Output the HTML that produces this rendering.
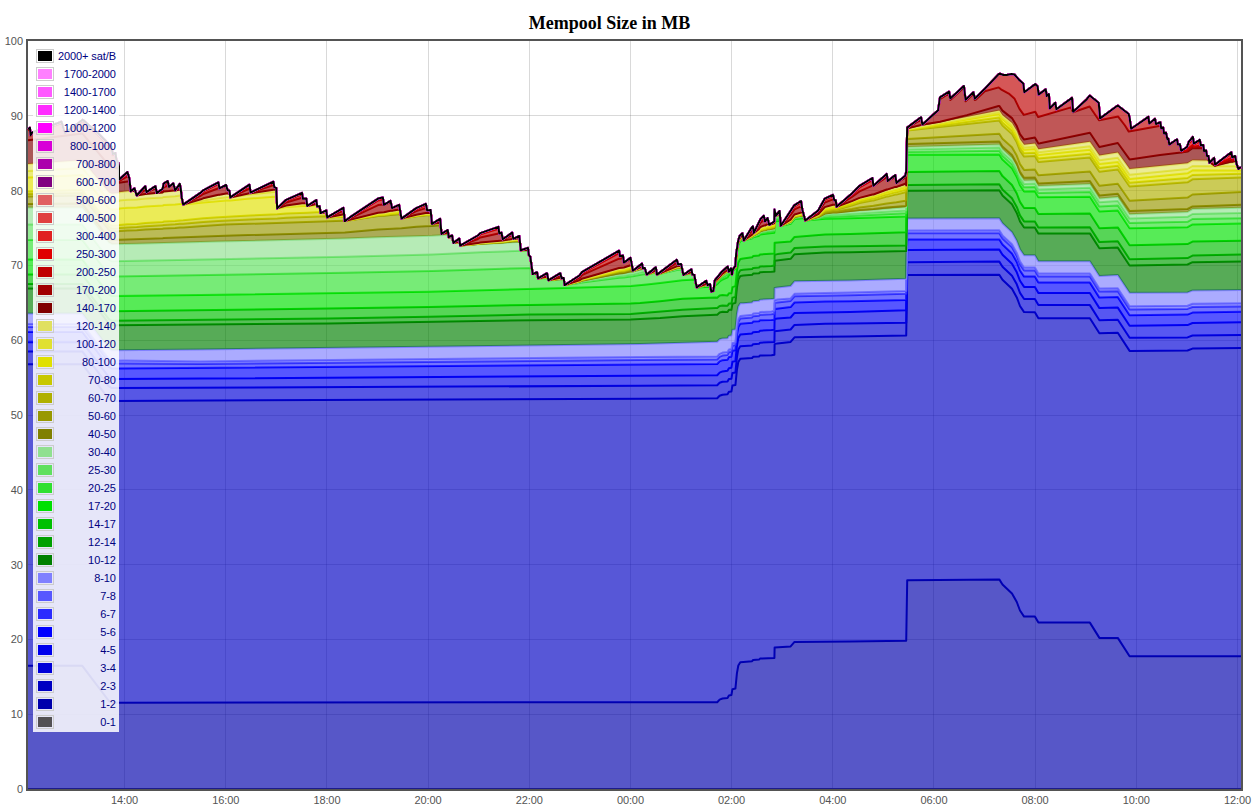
<!DOCTYPE html>
<html><head><meta charset="utf-8"><title>Mempool Size in MB</title>
<style>
html,body{margin:0;padding:0;background:#fff;}
body{width:1259px;height:811px;position:relative;overflow:hidden;font-family:"Liberation Sans",sans-serif;}
#c{position:absolute;left:0;top:0;width:1259px;height:811px;}
.xl{letter-spacing:-0.1px;position:absolute;top:794px;width:60px;text-align:center;font-size:11px;line-height:13px;color:#545454;}
.yl{position:absolute;left:0;width:23px;text-align:right;font-size:11px;line-height:13px;color:#545454;}
#lg{position:absolute;left:33px;top:46px;width:86px;height:686px;background:#fff;opacity:0.85;}
#lt{position:absolute;left:33px;top:46px;font-size:11px;color:#000080;border-collapse:separate;border-spacing:2px;line-height:13px;}
#lt td{padding:1px;}
.o{border:1px solid #ccc;padding:1px;}
.i{width:4px;height:0;border:5px solid #000;overflow:hidden;}
td.lt{text-align:right;white-space:nowrap;vertical-align:middle;}
</style></head><body>
<svg id="c" width="1259" height="811" viewBox="0 0 1259 811">
<text x="609.5" y="29" text-anchor="middle" font-family="'Liberation Serif','DejaVu Serif',serif" font-weight="bold" font-size="18" fill="#000">Mempool Size in MB</text>
<clipPath id="cp"><rect x="27.0" y="40.0" width="1215.0" height="750.0"/></clipPath>
<g stroke="rgb(84,84,84)" stroke-opacity="0.22" stroke-width="1" fill="none">
<path d="M124.5 41.0 V789.0"/>
<path d="M225.5 41.0 V789.0"/>
<path d="M326.5 41.0 V789.0"/>
<path d="M428.5 41.0 V789.0"/>
<path d="M529.5 41.0 V789.0"/>
<path d="M630.5 41.0 V789.0"/>
<path d="M731.5 41.0 V789.0"/>
<path d="M832.5 41.0 V789.0"/>
<path d="M933.5 41.0 V789.0"/>
<path d="M1035.5 41.0 V789.0"/>
<path d="M1136.5 41.0 V789.0"/>
<path d="M1237.5 41.0 V789.0"/>
<path d="M28.0 714.5 H1241.0"/>
<path d="M28.0 639.5 H1241.0"/>
<path d="M28.0 564.5 H1241.0"/>
<path d="M28.0 489.5 H1241.0"/>
<path d="M28.0 415.5 H1241.0"/>
<path d="M28.0 340.5 H1241.0"/>
<path d="M28.0 265.5 H1241.0"/>
<path d="M28.0 190.5 H1241.0"/>
<path d="M28.0 115.5 H1241.0"/>
</g>
<rect x="27" y="40" width="1215" height="750" fill="none" stroke="#545454" stroke-width="2"/>
<g clip-path="url(#cp)">
<path d="M28 788.9L1241 788.9L1241 789L28 789Z" fill="#535154" fill-opacity="0.66"/>
<path d="M28 788.9L1241 788.9" fill="none" stroke="#535154" stroke-width="2" stroke-linejoin="round"/>
<path d="M28 665.8L82.3 665.8L108.9 701L112 702.7L717.2 702.2L719.6 699.6L722.5 698.5L727.5 698L728.9 695.5L731.4 695.1L732.4 689.2L735.4 688.6L736.9 673.4L738.3 665.5L740.3 662.2L752.1 661.2L753.1 660L759 659.6L760 658.6L774.4 658L774.6 647.4L790.6 646.4L794.5 641.9L850 641.6L906.2 640.7L907.2 580.3L999.3 579.4L1002.5 584.5L1012 593.4L1016.8 602L1020 610.5L1024.1 616.6L1034.9 616.6L1038.4 622.6L1089.9 622.6L1099.4 637.9L1117.8 637.9L1129.6 656.3L1241 656.3L1241 788.9L28 788.9Z" fill="#0000ac" fill-opacity="0.66"/>
<path d="M28 665.8L82.3 665.8L108.9 701L112 702.7L717.2 702.2L719.6 699.6L722.5 698.5L727.5 698L728.9 695.5L731.4 695.1L732.4 689.2L735.4 688.6L736.9 673.4L738.3 665.5L740.3 662.2L752.1 661.2L753.1 660L759 659.6L760 658.6L774.4 658L774.6 647.4L790.6 646.4L794.5 641.9L850 641.6L906.2 640.7L907.2 580.3L999.3 579.4L1002.5 584.5L1012 593.4L1016.8 602L1020 610.5L1024.1 616.6L1034.9 616.6L1038.4 622.6L1089.9 622.6L1099.4 637.9L1117.8 637.9L1129.6 656.3L1241 656.3" fill="none" stroke="#0000ac" stroke-width="2" stroke-linejoin="round"/>
<path d="M28 364.2L82.3 364.2L108.9 399.2L112 400.9L640 398.8L717.2 398.3L719.6 395.8L722.5 394.7L727.5 394.3L728.9 391.8L731.4 391.5L732.4 385.6L735.4 385.1L736.9 369.9L738.3 362L740.3 358.8L752.1 358L753.1 356.8L759 356.5L760 355.6L771.5 355.3L774.4 354.7L774.6 344.1L777.5 343.4L790.6 341.9L794.5 337.3L825 336.7L850 336.5L906.2 335.4L907.2 275L999.3 274.7L1002.5 279.8L1012 288.8L1016.8 297.4L1020 306L1024.1 312.1L1034.9 312.2L1038.4 318.2L1089.9 318.2L1099.4 333.3L1117.8 332.8L1129.6 350.9L1187.5 350.5L1192.5 348.6L1241 348L1241 656.3L1129.6 656.3L1117.8 637.9L1099.4 637.9L1089.9 622.6L1038.4 622.6L1034.9 616.6L1024.1 616.6L1020 610.5L1016.8 602L1012 593.4L1002.5 584.5L999.3 579.4L907.2 580.3L906.2 640.7L850 641.6L794.5 641.9L790.6 646.4L774.6 647.4L774.4 658L760 658.6L759 659.6L753.1 660L752.1 661.2L740.3 662.2L738.3 665.5L736.9 673.4L735.4 688.6L732.4 689.2L731.4 695.1L728.9 695.5L727.5 698L722.5 698.5L719.6 699.6L717.2 702.2L112 702.7L108.9 701L82.3 665.8L28 665.8Z" fill="#0000c2" fill-opacity="0.66"/>
<path d="M28 364.2L82.3 364.2L108.9 399.2L112 400.9L640 398.8L717.2 398.3L719.6 395.8L722.5 394.7L727.5 394.3L728.9 391.8L731.4 391.5L732.4 385.6L735.4 385.1L736.9 369.9L738.3 362L740.3 358.8L752.1 358L753.1 356.8L759 356.5L760 355.6L771.5 355.3L774.4 354.7L774.6 344.1L777.5 343.4L790.6 341.9L794.5 337.3L825 336.7L850 336.5L906.2 335.4L907.2 275L999.3 274.7L1002.5 279.8L1012 288.8L1016.8 297.4L1020 306L1024.1 312.1L1034.9 312.2L1038.4 318.2L1089.9 318.2L1099.4 333.3L1117.8 332.8L1129.6 350.9L1187.5 350.5L1192.5 348.6L1241 348" fill="none" stroke="#0000c2" stroke-width="2" stroke-linejoin="round"/>
<path d="M28 351.4L82.3 351.4L108.9 386.4L112 388.1L640 385.8L717.2 385.3L719.6 382.8L722.5 381.8L727.5 381.6L728.9 379.1L731.4 378.8L732.4 373L735.4 372.5L736.9 357.4L738.3 349.5L740.3 346.3L752.1 345.4L753.1 344.2L759 343.8L760 342.7L774.4 341.9L774.6 331.3L790.6 329.5L794.5 324.9L825 323.8L850 323.6L906.2 322.7L907.2 262.3L999.3 261.6L1002.5 266.7L1012 275.7L1016.8 284.3L1020 292.9L1024.1 299L1034.9 299.1L1038.4 305.1L1089.9 305.1L1099.4 320.2L1117.8 319.7L1129.6 337.8L1187.5 337.4L1192.5 335.5L1241 334.9L1241 348L1192.5 348.6L1187.5 350.5L1129.6 350.9L1117.8 332.8L1099.4 333.3L1089.9 318.2L1038.4 318.2L1034.9 312.2L1024.1 312.1L1020 306L1016.8 297.4L1012 288.8L1002.5 279.8L999.3 274.7L907.2 275L906.2 335.4L850 336.5L825 336.7L794.5 337.3L790.6 341.9L777.5 343.4L774.6 344.1L774.4 354.7L771.5 355.3L760 355.6L759 356.5L753.1 356.8L752.1 358L740.3 358.8L738.3 362L736.9 369.9L735.4 385.1L732.4 385.6L731.4 391.5L728.9 391.8L727.5 394.3L722.5 394.7L719.6 395.8L717.2 398.3L640 398.8L112 400.9L108.9 399.2L82.3 364.2L28 364.2Z" fill="#0000d8" fill-opacity="0.66"/>
<path d="M28 351.4L82.3 351.4L108.9 386.4L112 388.1L640 385.8L717.2 385.3L719.6 382.8L722.5 381.8L727.5 381.6L728.9 379.1L731.4 378.8L732.4 373L735.4 372.5L736.9 357.4L738.3 349.5L740.3 346.3L752.1 345.4L753.1 344.2L759 343.8L760 342.7L774.4 341.9L774.6 331.3L790.6 329.5L794.5 324.9L825 323.8L850 323.6L906.2 322.7L907.2 262.3L999.3 261.6L1002.5 266.7L1012 275.7L1016.8 284.3L1020 292.9L1024.1 299L1034.9 299.1L1038.4 305.1L1089.9 305.1L1099.4 320.2L1117.8 319.7L1129.6 337.8L1187.5 337.4L1192.5 335.5L1241 334.9" fill="none" stroke="#0000d8" stroke-width="2" stroke-linejoin="round"/>
<path d="M28 342.2L82.3 342.2L108.9 377.2L112 378.9L200 378.5L717.2 375.2L719.6 372.6L722.5 371.4L727.5 370.7L728.9 368.2L731.4 367.7L732.4 361.8L735.4 361.1L736.9 345.9L738.3 338L740.3 334.6L752.1 333.4L753.1 332.2L759 331.7L760 330.7L771.5 330L774.4 329.7L774.6 319L777.5 318.6L790.6 317.5L794.5 312.9L850 311.9L906.2 310.3L907.2 249.9L908 249.9L999.3 249.6L1002.5 254.7L1012 263.7L1016.8 272.3L1020 280.8L1024.1 286.9L1034.9 287L1038.4 293L1089.9 293L1099.4 308.1L1117.8 307.6L1129.6 325.7L1187.5 325.1L1192.5 323L1241 322.2L1241 334.9L1192.5 335.5L1187.5 337.4L1129.6 337.8L1117.8 319.7L1099.4 320.2L1089.9 305.1L1038.4 305.1L1034.9 299.1L1024.1 299L1020 292.9L1016.8 284.3L1012 275.7L1002.5 266.7L999.3 261.6L907.2 262.3L906.2 322.7L850 323.6L825 323.8L794.5 324.9L790.6 329.5L774.6 331.3L774.4 341.9L760 342.7L759 343.8L753.1 344.2L752.1 345.4L740.3 346.3L738.3 349.5L736.9 357.4L735.4 372.5L732.4 373L731.4 378.8L728.9 379.1L727.5 381.6L722.5 381.8L719.6 382.8L717.2 385.3L640 385.8L112 388.1L108.9 386.4L82.3 351.4L28 351.4Z" fill="#0000ec" fill-opacity="0.66"/>
<path d="M28 342.2L82.3 342.2L108.9 377.2L112 378.9L200 378.5L717.2 375.2L719.6 372.6L722.5 371.4L727.5 370.7L728.9 368.2L731.4 367.7L732.4 361.8L735.4 361.1L736.9 345.9L738.3 338L740.3 334.6L752.1 333.4L753.1 332.2L759 331.7L760 330.7L771.5 330L774.4 329.7L774.6 319L777.5 318.6L790.6 317.5L794.5 312.9L850 311.9L906.2 310.3L907.2 249.9L908 249.9L999.3 249.6L1002.5 254.7L1012 263.7L1016.8 272.3L1020 280.8L1024.1 286.9L1034.9 287L1038.4 293L1089.9 293L1099.4 308.1L1117.8 307.6L1129.6 325.7L1187.5 325.1L1192.5 323L1241 322.2" fill="none" stroke="#0000ec" stroke-width="2" stroke-linejoin="round"/>
<path d="M28 331.9L82.3 331.9L108.9 366.9L112 368.6L717.2 364L719.6 361.4L722.5 360.2L727.5 359.7L728.9 357.1L731.4 356.7L732.4 350.8L735.4 350.2L736.9 334.9L738.3 327L740.3 323.7L752.1 322.8L753.1 321.6L759 321.3L760 320.3L771.5 320L774.4 319.7L774.6 309L790.6 307.1L794.5 302.5L825 301.4L850 301.2L906.2 300L907.2 239.6L999.3 239.4L1002.5 244.5L1012 253.4L1016.8 262L1020 270.5L1024.1 276.6L1034.9 276.6L1038.4 282.6L1089.9 282.6L1099.4 297.6L1117.8 297.1L1129.6 315.2L1187.5 314.6L1192.5 312.6L1241 311.8L1241 322.2L1192.5 323L1187.5 325.1L1129.6 325.7L1117.8 307.6L1099.4 308.1L1089.9 293L1038.4 293L1034.9 287L1024.1 286.9L1020 280.8L1016.8 272.3L1012 263.7L1002.5 254.7L999.3 249.6L908 249.9L907.2 249.9L906.2 310.3L850 311.9L794.5 312.9L790.6 317.5L777.5 318.6L774.6 319L774.4 329.7L771.5 330L760 330.7L759 331.7L753.1 332.2L752.1 333.4L740.3 334.6L738.3 338L736.9 345.9L735.4 361.1L732.4 361.8L731.4 367.7L728.9 368.2L727.5 370.7L722.5 371.4L719.6 372.6L717.2 375.2L200 378.5L112 378.9L108.9 377.2L82.3 342.2L28 342.2Z" fill="#0000ff" fill-opacity="0.66"/>
<path d="M28 331.9L82.3 331.9L108.9 366.9L112 368.6L717.2 364L719.6 361.4L722.5 360.2L727.5 359.7L728.9 357.1L731.4 356.7L732.4 350.8L735.4 350.2L736.9 334.9L738.3 327L740.3 323.7L752.1 322.8L753.1 321.6L759 321.3L760 320.3L771.5 320L774.4 319.7L774.6 309L790.6 307.1L794.5 302.5L825 301.4L850 301.2L906.2 300L907.2 239.6L999.3 239.4L1002.5 244.5L1012 253.4L1016.8 262L1020 270.5L1024.1 276.6L1034.9 276.6L1038.4 282.6L1089.9 282.6L1099.4 297.6L1117.8 297.1L1129.6 315.2L1187.5 314.6L1192.5 312.6L1241 311.8" fill="none" stroke="#0000ff" stroke-width="2" stroke-linejoin="round"/>
<path d="M28 326.9L82.3 326.9L108.9 361.9L112 363.6L124.5 363.5L200 364L640 360L717.2 359.5L719.6 356.8L722.5 355.6L727.5 354.9L728.9 352.3L731.4 351.8L732.4 345.8L735.4 345.1L736.9 329.8L738.3 321.9L740.3 318.5L752.1 317.4L753.1 316.2L759 315.8L760 314.8L771.5 314.3L774.4 313.7L774.6 303.1L777.5 302.4L790.6 300.9L794.5 296.3L850 295.3L906.2 293.7L907.2 233.3L908 233.3L999.3 233.3L1002.5 238.4L1012 247.3L1016.8 255.9L1020 264.4L1024.1 270.5L1034.9 270.5L1038.4 276.5L1089.9 276.5L1099.4 291.6L1117.8 291.2L1129.6 309.4L1187.5 308.9L1192.5 307L1241 306.4L1241 311.8L1192.5 312.6L1187.5 314.6L1129.6 315.2L1117.8 297.1L1099.4 297.6L1089.9 282.6L1038.4 282.6L1034.9 276.6L1024.1 276.6L1020 270.5L1016.8 262L1012 253.4L1002.5 244.5L999.3 239.4L907.2 239.6L906.2 300L850 301.2L825 301.4L794.5 302.5L790.6 307.1L774.6 309L774.4 319.7L771.5 320L760 320.3L759 321.3L753.1 321.6L752.1 322.8L740.3 323.7L738.3 327L736.9 334.9L735.4 350.2L732.4 350.8L731.4 356.7L728.9 357.1L727.5 359.7L722.5 360.2L719.6 361.4L717.2 364L112 368.6L108.9 366.9L82.3 331.9L28 331.9Z" fill="#2c2cff" fill-opacity="0.66"/>
<path d="M28 326.9L82.3 326.9L108.9 361.9L112 363.6L124.5 363.5L200 364L640 360L717.2 359.5L719.6 356.8L722.5 355.6L727.5 354.9L728.9 352.3L731.4 351.8L732.4 345.8L735.4 345.1L736.9 329.8L738.3 321.9L740.3 318.5L752.1 317.4L753.1 316.2L759 315.8L760 314.8L771.5 314.3L774.4 313.7L774.6 303.1L777.5 302.4L790.6 300.9L794.5 296.3L850 295.3L906.2 293.7L907.2 233.3L908 233.3L999.3 233.3L1002.5 238.4L1012 247.3L1016.8 255.9L1020 264.4L1024.1 270.5L1034.9 270.5L1038.4 276.5L1089.9 276.5L1099.4 291.6L1117.8 291.2L1129.6 309.4L1187.5 308.9L1192.5 307L1241 306.4" fill="none" stroke="#2c2cff" stroke-width="2" stroke-linejoin="round"/>
<path d="M28 324L82.3 324L108.9 359L112 360.7L124.5 360.6L200 361.4L640 356.9L717.2 356.4L719.6 353.8L722.5 352.6L727.5 352L728.9 349.5L731.4 349.1L732.4 343.1L735.4 342.5L736.9 327.3L738.3 319.3L740.3 316L752.1 314.8L753.1 313.6L759 313.1L760 312.1L771.5 311.4L774.4 310.8L774.6 300.2L777.5 299.5L790.6 298.4L794.5 293.8L825 292.9L850 292.5L906.2 290.9L907.2 230.5L908 230.5L999.3 230.3L1002.5 235.4L1012 244.3L1016.8 252.9L1020 261.4L1024.1 267.5L1034.9 267.5L1038.4 273.5L1089.9 273.5L1099.4 288.6L1117.8 288.2L1129.6 306.3L1187.5 305.8L1192.5 303.8L1241 303.2L1241 306.4L1192.5 307L1187.5 308.9L1129.6 309.4L1117.8 291.2L1099.4 291.6L1089.9 276.5L1038.4 276.5L1034.9 270.5L1024.1 270.5L1020 264.4L1016.8 255.9L1012 247.3L1002.5 238.4L999.3 233.3L908 233.3L907.2 233.3L906.2 293.7L850 295.3L794.5 296.3L790.6 300.9L777.5 302.4L774.6 303.1L774.4 313.7L771.5 314.3L760 314.8L759 315.8L753.1 316.2L752.1 317.4L740.3 318.5L738.3 321.9L736.9 329.8L735.4 345.1L732.4 345.8L731.4 351.8L728.9 352.3L727.5 354.9L722.5 355.6L719.6 356.8L717.2 359.5L640 360L200 364L124.5 363.5L112 363.6L108.9 361.9L82.3 326.9L28 326.9Z" fill="#5858ff" fill-opacity="0.66"/>
<path d="M28 324L82.3 324L108.9 359L112 360.7L124.5 360.6L200 361.4L640 356.9L717.2 356.4L719.6 353.8L722.5 352.6L727.5 352L728.9 349.5L731.4 349.1L732.4 343.1L735.4 342.5L736.9 327.3L738.3 319.3L740.3 316L752.1 314.8L753.1 313.6L759 313.1L760 312.1L771.5 311.4L774.4 310.8L774.6 300.2L777.5 299.5L790.6 298.4L794.5 293.8L825 292.9L850 292.5L906.2 290.9L907.2 230.5L908 230.5L999.3 230.3L1002.5 235.4L1012 244.3L1016.8 252.9L1020 261.4L1024.1 267.5L1034.9 267.5L1038.4 273.5L1089.9 273.5L1099.4 288.6L1117.8 288.2L1129.6 306.3L1187.5 305.8L1192.5 303.8L1241 303.2" fill="none" stroke="#5858ff" stroke-width="2" stroke-linejoin="round"/>
<path d="M28 313.6L82.3 313.6L108.9 348.6L112 350.3L200 349.4L640 344.1L717.2 341.7L719.6 339.3L722.5 338.4L727.5 338.2L728.9 335.8L731.4 335.6L732.4 329.8L735.4 329.4L736.9 314.3L738.3 306.5L740.3 303.3L743.2 303.3L752.1 302.4L753.1 301.2L759 300.7L760 299.7L771.5 299.1L774.4 298.7L774.6 288L777.5 287.5L790.6 286L794.5 281.3L850 280.4L906.2 278.8L907.2 218.4L908 218.4L999.3 218.2L1002.5 223.3L1012 232.2L1016.8 240.8L1020 249.2L1024.1 255.3L1034.9 255.3L1038.4 261.3L1089.9 261.2L1099.4 276L1117.8 275L1129.6 292.8L1187.5 292.4L1192.5 290.5L1241 290L1241 303.2L1192.5 303.8L1187.5 305.8L1129.6 306.3L1117.8 288.2L1099.4 288.6L1089.9 273.5L1038.4 273.5L1034.9 267.5L1024.1 267.5L1020 261.4L1016.8 252.9L1012 244.3L1002.5 235.4L999.3 230.3L908 230.5L907.2 230.5L906.2 290.9L850 292.5L825 292.9L794.5 293.8L790.6 298.4L777.5 299.5L774.6 300.2L774.4 310.8L771.5 311.4L760 312.1L759 313.1L753.1 313.6L752.1 314.8L740.3 316L738.3 319.3L736.9 327.3L735.4 342.5L732.4 343.1L731.4 349.1L728.9 349.5L727.5 352L722.5 352.6L719.6 353.8L717.2 356.4L640 356.9L200 361.4L124.5 360.6L112 360.7L108.9 359L82.3 324L28 324Z" fill="#8080ff" fill-opacity="0.66"/>
<path d="M28 313.6L82.3 313.6L108.9 348.6L112 350.3L200 349.4L640 344.1L717.2 341.7L719.6 339.3L722.5 338.4L727.5 338.2L728.9 335.8L731.4 335.6L732.4 329.8L735.4 329.4L736.9 314.3L738.3 306.5L740.3 303.3L743.2 303.3L752.1 302.4L753.1 301.2L759 300.7L760 299.7L771.5 299.1L774.4 298.7L774.6 288L777.5 287.5L790.6 286L794.5 281.3L850 280.4L906.2 278.8L907.2 218.4L908 218.4L999.3 218.2L1002.5 223.3L1012 232.2L1016.8 240.8L1020 249.2L1024.1 255.3L1034.9 255.3L1038.4 261.3L1089.9 261.2L1099.4 276L1117.8 275L1129.6 292.8L1187.5 292.4L1192.5 290.5L1241 290" fill="none" stroke="#8080ff" stroke-width="2" stroke-linejoin="round"/>
<path d="M28 288.6L82.3 288.6L108.9 323.6L112 325.3L327 323.5L529.5 320.2L630.5 319.4L640 319.1L660 318.1L682.5 316.3L715.8 314.7L717.2 314.7L719.6 312.5L722.5 311.8L727.5 312.1L728.9 309.8L731.4 309.8L732.4 303.8L735.4 302.9L736.9 287.5L738.3 279.5L740.3 276L743.2 275.5L752.1 274.8L753.1 273.6L759 273.2L760 272.2L771.5 271.7L774.4 271.4L774.6 260.7L790.6 258.8L794.5 254.2L825 252.6L850 252.3L906.2 251.1L907.2 190.7L999.3 190.3L1002.5 195.4L1012 204.3L1016.8 212.9L1020 221.4L1024.1 227.5L1034.9 227.5L1038.4 233.5L1089.9 233.4L1099.4 248.3L1117.8 247.6L1129.6 265.5L1187.5 264.5L1192.5 262.2L1241 261.6L1241 290L1192.5 290.5L1187.5 292.4L1129.6 292.8L1117.8 275L1099.4 276L1089.9 261.2L1038.4 261.3L1034.9 255.3L1024.1 255.3L1020 249.2L1016.8 240.8L1012 232.2L1002.5 223.3L999.3 218.2L908 218.4L907.2 218.4L906.2 278.8L850 280.4L794.5 281.3L790.6 286L777.5 287.5L774.6 288L774.4 298.7L771.5 299.1L760 299.7L759 300.7L753.1 301.2L752.1 302.4L743.2 303.3L740.3 303.3L738.3 306.5L736.9 314.3L735.4 329.4L732.4 329.8L731.4 335.6L728.9 335.8L727.5 338.2L722.5 338.4L719.6 339.3L717.2 341.7L640 344.1L200 349.4L112 350.3L108.9 348.6L82.3 313.6L28 313.6Z" fill="#008000" fill-opacity="0.66"/>
<path d="M28 288.6L82.3 288.6L108.9 323.6L112 325.3L327 323.5L529.5 320.2L630.5 319.4L640 319.1L660 318.1L682.5 316.3L715.8 314.7L717.2 314.7L719.6 312.5L722.5 311.8L727.5 312.1L728.9 309.8L731.4 309.8L732.4 303.8L735.4 302.9L736.9 287.5L738.3 279.5L740.3 276L743.2 275.5L752.1 274.8L753.1 273.6L759 273.2L760 272.2L771.5 271.7L774.4 271.4L774.6 260.7L790.6 258.8L794.5 254.2L825 252.6L850 252.3L906.2 251.1L907.2 190.7L999.3 190.3L1002.5 195.4L1012 204.3L1016.8 212.9L1020 221.4L1024.1 227.5L1034.9 227.5L1038.4 233.5L1089.9 233.4L1099.4 248.3L1117.8 247.6L1129.6 265.5L1187.5 264.5L1192.5 262.2L1241 261.6" fill="none" stroke="#008000" stroke-width="2" stroke-linejoin="round"/>
<path d="M28 284.1L82.3 284.1L108.9 319.1L112 320.8L327 318.4L428.5 316.7L529.5 314.5L630.5 313.9L682.5 309.7L715.8 308L717.2 308.1L719.6 305.9L722.5 305.4L727.5 305.8L728.9 303.6L731.4 303.6L732.4 297.6L735.4 296.9L736.9 281.6L738.3 273.6L740.3 270.2L743.2 269.8L752.1 269.1L753.1 267.9L759 267.5L760 266.5L771.5 266L774.4 265.4L774.6 254.8L777.5 254.1L790.6 252.6L794.5 248L825 246.4L850 246.3L906.2 245.4L907.2 185L999.3 184.3L1002.5 189.4L1012 198.3L1016.8 206.9L1020 215.3L1024.1 221.4L1034.9 221.4L1038.4 227.4L1089.9 227.2L1099.4 242.1L1117.8 241.3L1129.6 259.2L1187.5 258.1L1192.5 255.6L1241 254.6L1241 261.6L1192.5 262.2L1187.5 264.5L1129.6 265.5L1117.8 247.6L1099.4 248.3L1089.9 233.4L1038.4 233.5L1034.9 227.5L1024.1 227.5L1020 221.4L1016.8 212.9L1012 204.3L1002.5 195.4L999.3 190.3L907.2 190.7L906.2 251.1L850 252.3L825 252.6L794.5 254.2L790.6 258.8L774.6 260.7L774.4 271.4L771.5 271.7L760 272.2L759 273.2L753.1 273.6L752.1 274.8L743.2 275.5L740.3 276L738.3 279.5L736.9 287.5L735.4 302.9L732.4 303.8L731.4 309.8L728.9 309.8L727.5 312.1L722.5 311.8L719.6 312.5L717.2 314.7L715.8 314.7L682.5 316.3L660 318.1L640 319.1L630.5 319.4L529.5 320.2L327 323.5L112 325.3L108.9 323.6L82.3 288.6L28 288.6Z" fill="#00a000" fill-opacity="0.66"/>
<path d="M28 284.1L82.3 284.1L108.9 319.1L112 320.8L327 318.4L428.5 316.7L529.5 314.5L630.5 313.9L682.5 309.7L715.8 308L717.2 308.1L719.6 305.9L722.5 305.4L727.5 305.8L728.9 303.6L731.4 303.6L732.4 297.6L735.4 296.9L736.9 281.6L738.3 273.6L740.3 270.2L743.2 269.8L752.1 269.1L753.1 267.9L759 267.5L760 266.5L771.5 266L774.4 265.4L774.6 254.8L777.5 254.1L790.6 252.6L794.5 248L825 246.4L850 246.3L906.2 245.4L907.2 185L999.3 184.3L1002.5 189.4L1012 198.3L1016.8 206.9L1020 215.3L1024.1 221.4L1034.9 221.4L1038.4 227.4L1089.9 227.2L1099.4 242.1L1117.8 241.3L1129.6 259.2L1187.5 258.1L1192.5 255.6L1241 254.6" fill="none" stroke="#00a000" stroke-width="2" stroke-linejoin="round"/>
<path d="M28 274.6L82.3 274.6L108.9 309.6L112 311.3L327 308.5L428.5 306.9L529.5 304.9L630.5 303.6L640 303L660 301.2L682.5 298.7L715.8 297.6L717.2 297.7L719.6 295.5L722.5 295L727.5 295.4L728.9 293.2L731.4 293.2L732.4 287.1L735.4 286.1L736.9 270.7L738.3 262.6L740.3 259L743.2 258.4L752.1 257.3L753.1 256.1L759 255.5L760 254.5L774.4 253.4L774.6 242.8L790.6 241.5L794.5 236.9L825 234.5L850 234L906.2 232.3L907.2 171.9L999.3 171L1002.5 176.1L1012 184.9L1016.8 193.5L1020 201.9L1024.1 208L1034.9 207.9L1038.4 213.9L1089.9 213.5L1099.4 228.3L1117.8 227.4L1129.6 245.2L1187.5 244.1L1192.5 241.6L1241 240.7L1241 254.6L1192.5 255.6L1187.5 258.1L1129.6 259.2L1117.8 241.3L1099.4 242.1L1089.9 227.2L1038.4 227.4L1034.9 221.4L1024.1 221.4L1020 215.3L1016.8 206.9L1012 198.3L1002.5 189.4L999.3 184.3L907.2 185L906.2 245.4L850 246.3L825 246.4L794.5 248L790.6 252.6L777.5 254.1L774.6 254.8L774.4 265.4L771.5 266L760 266.5L759 267.5L753.1 267.9L752.1 269.1L743.2 269.8L740.3 270.2L738.3 273.6L736.9 281.6L735.4 296.9L732.4 297.6L731.4 303.6L728.9 303.6L727.5 305.8L722.5 305.4L719.6 305.9L717.2 308.1L715.8 308L682.5 309.7L630.5 313.9L529.5 314.5L428.5 316.7L327 318.4L112 320.8L108.9 319.1L82.3 284.1L28 284.1Z" fill="#00c000" fill-opacity="0.66"/>
<path d="M28 274.6L82.3 274.6L108.9 309.6L112 311.3L327 308.5L428.5 306.9L529.5 304.9L630.5 303.6L640 303L660 301.2L682.5 298.7L715.8 297.6L717.2 297.7L719.6 295.5L722.5 295L727.5 295.4L728.9 293.2L731.4 293.2L732.4 287.1L735.4 286.1L736.9 270.7L738.3 262.6L740.3 259L743.2 258.4L752.1 257.3L753.1 256.1L759 255.5L760 254.5L774.4 253.4L774.6 242.8L790.6 241.5L794.5 236.9L825 234.5L850 234L906.2 232.3L907.2 171.9L999.3 171L1002.5 176.1L1012 184.9L1016.8 193.5L1020 201.9L1024.1 208L1034.9 207.9L1038.4 213.9L1089.9 213.5L1099.4 228.3L1117.8 227.4L1129.6 245.2L1187.5 244.1L1192.5 241.6L1241 240.7" fill="none" stroke="#00c000" stroke-width="2" stroke-linejoin="round"/>
<path d="M28 259.4L82.3 259.4L108.9 294.4L112 296.1L200 295.1L428.5 291.7L564.6 288.1L630.8 286L646.7 284.5L660 283L682.2 280.2L695 279.6L695.2 279.9L696.7 287.4L710.2 286.7L710.5 287L711.3 291.7L713.4 291.2L714.8 285.6L717.2 284.1L719.6 281.5L722.5 279.5L727.5 277.4L728.9 275.1L731 273.5L731.4 273.5L731.5 272.9L731.8 273.1L732 274.6L732.4 272.2L732.9 270.6L735.4 268.6L736.9 252.9L738.3 244.8L740.3 241L743 240.3L743.8 240.2L743.8 240.4L752.1 238.4L753.1 237.2L759 235.7L760 234.6L767.6 233.4L774.3 232.7L774.6 221.6L780.2 220.7L780.8 225.8L790.6 223.8L794.5 219.1L804.5 218.1L805.3 220.5L825 218.8L850 218.3L906.2 216.5L907.2 154.7L999.3 154.5L1002.5 159.6L1012 168.3L1016.8 176.9L1020 185.3L1024.1 191.4L1034.9 191.3L1038.4 197.2L1089.9 196.7L1099.4 211.5L1117.8 210.5L1129.6 228.3L1187.5 227.2L1192.5 224.4L1241 223.5L1241 240.7L1192.5 241.6L1187.5 244.1L1129.6 245.2L1117.8 227.4L1099.4 228.3L1089.9 213.5L1038.4 213.9L1034.9 207.9L1024.1 208L1020 201.9L1016.8 193.5L1012 184.9L1002.5 176.1L999.3 171L907.2 171.9L906.2 232.3L850 234L825 234.5L794.5 236.9L790.6 241.5L774.6 242.8L774.4 253.4L760 254.5L759 255.5L753.1 256.1L752.1 257.3L743.2 258.4L740.3 259L738.3 262.6L736.9 270.7L735.4 286.1L732.4 287.1L731.4 293.2L728.9 293.2L727.5 295.4L722.5 295L719.6 295.5L717.2 297.7L715.8 297.6L682.5 298.7L660 301.2L640 303L630.5 303.6L529.5 304.9L428.5 306.9L327 308.5L112 311.3L108.9 309.6L82.3 274.6L28 274.6Z" fill="#00e000" fill-opacity="0.66"/>
<path d="M28 259.4L82.3 259.4L108.9 294.4L112 296.1L200 295.1L428.5 291.7L564.6 288.1L630.8 286L646.7 284.5L660 283L682.2 280.2L695 279.6L695.2 279.9L696.7 287.4L710.2 286.7L710.5 287L711.3 291.7L713.4 291.2L714.8 285.6L717.2 284.1L719.6 281.5L722.5 279.5L727.5 277.4L728.9 275.1L731 273.5L731.4 273.5L731.5 272.9L731.8 273.1L732 274.6L732.4 272.2L732.9 270.6L735.4 268.6L736.9 252.9L738.3 244.8L740.3 241L743 240.3L743.8 240.2L743.8 240.4L752.1 238.4L753.1 237.2L759 235.7L760 234.6L767.6 233.4L774.3 232.7L774.6 221.6L780.2 220.7L780.8 225.8L790.6 223.8L794.5 219.1L804.5 218.1L805.3 220.5L825 218.8L850 218.3L906.2 216.5L907.2 154.7L999.3 154.5L1002.5 159.6L1012 168.3L1016.8 176.9L1020 185.3L1024.1 191.4L1034.9 191.3L1038.4 197.2L1089.9 196.7L1099.4 211.5L1117.8 210.5L1129.6 228.3L1187.5 227.2L1192.5 224.4L1241 223.5" fill="none" stroke="#00e000" stroke-width="2" stroke-linejoin="round"/>
<path d="M28 239.9L82.3 239.9L108.9 274.9L112 276.6L344.8 272.8L432 271L480.3 269.4L531.8 267.9L532.7 274.1L537.2 274L538.1 278.4L547.8 278.1L548 278.3L548.4 280.3L563.8 279.8L564 280.3L564.6 285.1L579.5 283.1L581.9 282.4L619.1 277.7L623.9 277.5L630.5 276.5L632.9 276.3L642 274.4L646.5 273.9L646.7 274.6L655.8 272.5L656.5 272.5L657 274.6L676.8 270L682 269.3L682.2 269.5L683.4 274.9L692 273.6L692.2 273.8L692.4 274.6L694.3 275L696.7 287.4L706.2 285.8L710.2 285.6L711.3 291.7L713.4 291.1L714.8 284.3L717.2 282.4L719.6 279.8L721.9 277.8L727.5 274.7L728.9 272.5L731 270.4L731.2 270.4L731.4 270.9L732 274.6L732.9 270.3L735.4 267.9L736.9 252.1L738.3 243.9L740.3 240.1L743.5 239.2L743.8 240.4L752.1 237.8L753.1 236.5L753.8 236.5L759 234.6L760 233.4L760.5 233.2L767.6 231.9L774.3 231L774.6 219.5L775.7 219.4L780 218.5L780.2 219L780.8 225.8L790.6 223.1L794.5 218.4L801 217.4L804.2 217.1L805.3 220.5L818.2 218.7L825 217.2L906.2 213.3L907.2 151.9L999.3 150.7L1002.5 155.7L1012 164.4L1016.8 172.9L1020 181.3L1024.1 187.3L1034.9 187.1L1038.4 193L1089.9 191.9L1099.4 206.6L1117.8 205.4L1129.6 223L1187.5 221.8L1192.5 219L1241 218.2L1241 223.5L1192.5 224.4L1187.5 227.2L1129.6 228.3L1117.8 210.5L1099.4 211.5L1089.9 196.7L1038.4 197.2L1034.9 191.3L1024.1 191.4L1020 185.3L1016.8 176.9L1012 168.3L1002.5 159.6L999.3 154.5L907.2 154.7L906.2 216.5L850 218.3L825 218.8L805.3 220.5L804.5 218.1L794.5 219.1L790.6 223.8L780.8 225.8L780.2 220.7L774.6 221.6L774.3 232.7L767.6 233.4L760 234.6L759 235.7L753.1 237.2L752.1 238.4L743.8 240.4L743.8 240.2L743 240.3L740.3 241L738.3 244.8L736.9 252.9L735.4 268.6L732.9 270.6L732.4 272.2L732 274.6L731.8 273.1L731.5 272.9L731.4 273.5L731 273.5L728.9 275.1L727.5 277.4L722.5 279.5L719.6 281.5L717.2 284.1L714.8 285.6L713.4 291.2L711.3 291.7L710.5 287L710.2 286.7L696.7 287.4L695.2 279.9L695 279.6L682.2 280.2L660 283L646.7 284.5L630.8 286L564.6 288.1L428.5 291.7L200 295.1L112 296.1L108.9 294.4L82.3 259.4L28 259.4Z" fill="#30e030" fill-opacity="0.66"/>
<path d="M28 239.9L82.3 239.9L108.9 274.9L112 276.6L344.8 272.8L432 271L480.3 269.4L531.8 267.9L532.7 274.1L537.2 274L538.1 278.4L547.8 278.1L548 278.3L548.4 280.3L563.8 279.8L564 280.3L564.6 285.1L579.5 283.1L581.9 282.4L619.1 277.7L623.9 277.5L630.5 276.5L632.9 276.3L642 274.4L646.5 273.9L646.7 274.6L655.8 272.5L656.5 272.5L657 274.6L676.8 270L682 269.3L682.2 269.5L683.4 274.9L692 273.6L692.2 273.8L692.4 274.6L694.3 275L696.7 287.4L706.2 285.8L710.2 285.6L711.3 291.7L713.4 291.1L714.8 284.3L717.2 282.4L719.6 279.8L721.9 277.8L727.5 274.7L728.9 272.5L731 270.4L731.2 270.4L731.4 270.9L732 274.6L732.9 270.3L735.4 267.9L736.9 252.1L738.3 243.9L740.3 240.1L743.5 239.2L743.8 240.4L752.1 237.8L753.1 236.5L753.8 236.5L759 234.6L760 233.4L760.5 233.2L767.6 231.9L774.3 231L774.6 219.5L775.7 219.4L780 218.5L780.2 219L780.8 225.8L790.6 223.1L794.5 218.4L801 217.4L804.2 217.1L805.3 220.5L818.2 218.7L825 217.2L906.2 213.3L907.2 151.9L999.3 150.7L1002.5 155.7L1012 164.4L1016.8 172.9L1020 181.3L1024.1 187.3L1034.9 187.1L1038.4 193L1089.9 191.9L1099.4 206.6L1117.8 205.4L1129.6 223L1187.5 221.8L1192.5 219L1241 218.2" fill="none" stroke="#30e030" stroke-width="2" stroke-linejoin="round"/>
<path d="M28 224.6L82.3 224.6L108.9 259.6L112 261.3L230.3 259.1L344.8 256.7L432 254.4L480.3 252.3L528.2 250.6L528.9 255L530.3 256.9L532.7 274.1L537.2 273.9L538.1 278.4L547.8 278L548 278.3L548.4 280.3L563.8 279.7L564 280.3L564.6 285.1L579.5 282.6L581.9 281.7L619.1 276.1L623.9 275.8L630.5 274.5L632.9 274.4L642 272.1L644.8 271.8L645.8 271.7L646.7 274.6L656.5 272.1L657 274.6L676.8 269.3L682 268.7L683.4 274.9L692 273.3L692.4 274.6L694.3 275L696.7 287.4L706.2 285.5L710 285.2L710.2 285.6L711.3 291.7L713.4 291L714.8 283.4L717.2 281.3L719.6 278.6L721.9 276.5L727.5 272.9L728.5 271.3L728.8 271.7L731 269.3L731.2 269.9L732 274.6L732.9 270.1L735.4 267.5L736.9 251.6L738.3 243.4L740.3 239.5L743.2 238.5L743.5 238.9L743.8 240.4L752.1 237.4L753.1 236.1L753.8 236.1L759 233.8L760 232.6L760.5 232.4L763.8 231.7L765 231.6L767.6 230.8L774.3 229.9L774.6 218.2L775.7 218.1L780 217L780.8 225.8L790.6 222.6L794.5 217.8L801 216.8L804 216.5L804.2 216.7L805.3 220.5L818.2 218L825 215.5L832.9 214.8L836.5 214.7L873.4 212.5L905.3 210.4L906.2 210.2L907.2 149.4L999.3 147.5L1002.5 152.5L1012 161.1L1016.8 169.5L1020 177.9L1024.1 183.9L1034.9 183.6L1038.4 189.5L1089.9 187.7L1099.4 202.3L1117.8 201L1129.6 218.6L1187.5 216.8L1192.5 214L1241 212.9L1241 218.2L1192.5 219L1187.5 221.8L1129.6 223L1117.8 205.4L1099.4 206.6L1089.9 191.9L1038.4 193L1034.9 187.1L1024.1 187.3L1020 181.3L1016.8 172.9L1012 164.4L1002.5 155.7L999.3 150.7L907.2 151.9L906.2 213.3L825 217.2L818.2 218.7L805.3 220.5L804.2 217.1L801 217.4L794.5 218.4L790.6 223.1L780.8 225.8L780.2 219L780 218.5L775.7 219.4L774.6 219.5L774.3 231L767.6 231.9L760.5 233.2L760 233.4L759 234.6L753.8 236.5L753.1 236.5L752.1 237.8L743.8 240.4L743.5 239.2L740.3 240.1L738.3 243.9L736.9 252.1L735.4 267.9L732.9 270.3L732 274.6L731.4 270.9L731.2 270.4L731 270.4L728.9 272.5L727.5 274.7L721.9 277.8L719.6 279.8L717.2 282.4L714.8 284.3L713.4 291.1L711.3 291.7L710.2 285.6L706.2 285.8L696.7 287.4L694.3 275L692.4 274.6L692.2 273.8L692 273.6L683.4 274.9L682.2 269.5L682 269.3L676.8 270L657 274.6L656.5 272.5L655.8 272.5L646.7 274.6L646.5 273.9L642 274.4L632.9 276.3L630.5 276.5L623.9 277.5L619.1 277.7L581.9 282.4L579.5 283.1L564.6 285.1L564 280.3L563.8 279.8L548.4 280.3L548 278.3L547.8 278.1L538.1 278.4L537.2 274L532.7 274.1L531.8 267.9L480.3 269.4L432 271L344.8 272.8L112 276.6L108.9 274.9L82.3 239.9L28 239.9Z" fill="#60e060" fill-opacity="0.66"/>
<path d="M28 224.6L82.3 224.6L108.9 259.6L112 261.3L230.3 259.1L344.8 256.7L432 254.4L480.3 252.3L528.2 250.6L528.9 255L530.3 256.9L532.7 274.1L537.2 273.9L538.1 278.4L547.8 278L548 278.3L548.4 280.3L563.8 279.7L564 280.3L564.6 285.1L579.5 282.6L581.9 281.7L619.1 276.1L623.9 275.8L630.5 274.5L632.9 274.4L642 272.1L644.8 271.8L645.8 271.7L646.7 274.6L656.5 272.1L657 274.6L676.8 269.3L682 268.7L683.4 274.9L692 273.3L692.4 274.6L694.3 275L696.7 287.4L706.2 285.5L710 285.2L710.2 285.6L711.3 291.7L713.4 291L714.8 283.4L717.2 281.3L719.6 278.6L721.9 276.5L727.5 272.9L728.5 271.3L728.8 271.7L731 269.3L731.2 269.9L732 274.6L732.9 270.1L735.4 267.5L736.9 251.6L738.3 243.4L740.3 239.5L743.2 238.5L743.5 238.9L743.8 240.4L752.1 237.4L753.1 236.1L753.8 236.1L759 233.8L760 232.6L760.5 232.4L763.8 231.7L765 231.6L767.6 230.8L774.3 229.9L774.6 218.2L775.7 218.1L780 217L780.8 225.8L790.6 222.6L794.5 217.8L801 216.8L804 216.5L804.2 216.7L805.3 220.5L818.2 218L825 215.5L832.9 214.8L836.5 214.7L873.4 212.5L905.3 210.4L906.2 210.2L907.2 149.4L999.3 147.5L1002.5 152.5L1012 161.1L1016.8 169.5L1020 177.9L1024.1 183.9L1034.9 183.6L1038.4 189.5L1089.9 187.7L1099.4 202.3L1117.8 201L1129.6 218.6L1187.5 216.8L1192.5 214L1241 212.9" fill="none" stroke="#60e060" stroke-width="2" stroke-linejoin="round"/>
<path d="M28 207.5L82.3 207.5L108.9 242.5L112 244.2L136.7 243.8L218.4 241.6L344.8 238.5L378.1 237.3L432 235.8L448.2 234.7L448.7 237.2L452.2 237L453.4 242.9L459.8 242.4L460.2 245.6L480.3 244.1L502.7 243L512.2 242.2L519.8 241.8L520 242.7L520.8 250.3L528 249.9L528.2 250.4L528.9 255L530.3 256.9L532.7 274.1L537.2 273.9L538.1 278.4L547.8 277.8L548 278.3L548.4 280.3L563.8 279.4L564.6 285.1L579.5 282.1L581.9 281.1L619.1 274.4L623.9 274.1L630.5 272.6L632.9 272.4L642 269.9L645.2 269.5L646.7 274.6L655.8 271.9L656.5 271.8L657 274.6L676.8 268.7L681.8 268.1L682 268.3L683.4 274.9L692 273L692.4 274.6L694.3 275L696.7 287.4L706.2 285.2L710 284.8L711.3 291.7L713.4 291L714.8 282.7L717.2 280.5L719.6 277.7L721.9 275.4L727.5 271.6L728.2 270.4L728.5 270.3L728.8 271.7L731 269.1L732 274.6L732.9 269.9L734.8 267.8L735.3 267.5L735.4 267.2L736.9 251.2L738.3 242.9L740.3 238.9L743.2 238L743.8 240.4L752.1 236.9L753.1 235.7L753.8 235.6L759 233.1L760 231.8L760.5 231.6L763.8 230.7L765 230.7L767.6 229.8L769.1 229.7L774.3 228.8L774.6 216.8L775.7 216.8L779.8 215.5L780 215.9L780.8 225.8L790.6 222.2L794.5 217.3L801 216.1L804 215.9L805.3 220.5L818.2 217.2L825 213.9L832.9 212.8L836.5 212.8L859.5 210.8L873.4 209.9L905.3 207.3L906.2 207L907.2 146.9L999.3 144.4L1002.5 149.3L1012 157.9L1016.8 166.3L1020 174.7L1024.1 180.6L1034.9 180.2L1038.4 186.1L1089.9 184L1099.4 198.4L1117.8 196.9L1129.6 214.2L1187.5 211.9L1192.5 209.1L1241 207.7L1241 212.9L1192.5 214L1187.5 216.8L1129.6 218.6L1117.8 201L1099.4 202.3L1089.9 187.7L1038.4 189.5L1034.9 183.6L1024.1 183.9L1020 177.9L1016.8 169.5L1012 161.1L1002.5 152.5L999.3 147.5L907.2 149.4L906.2 210.2L905.3 210.4L873.4 212.5L836.5 214.7L832.9 214.8L825 215.5L818.2 218L805.3 220.5L804.2 216.7L804 216.5L801 216.8L794.5 217.8L790.6 222.6L780.8 225.8L780 217L775.7 218.1L774.6 218.2L774.3 229.9L767.6 230.8L765 231.6L763.8 231.7L760.5 232.4L760 232.6L759 233.8L753.8 236.1L753.1 236.1L752.1 237.4L743.8 240.4L743.5 238.9L743.2 238.5L740.3 239.5L738.3 243.4L736.9 251.6L735.4 267.5L732.9 270.1L732 274.6L731.2 269.9L731 269.3L728.8 271.7L728.5 271.3L727.5 272.9L721.9 276.5L719.6 278.6L717.2 281.3L714.8 283.4L713.4 291L711.3 291.7L710.2 285.6L710 285.2L706.2 285.5L696.7 287.4L694.3 275L692.4 274.6L692 273.3L683.4 274.9L682 268.7L676.8 269.3L657 274.6L656.5 272.1L646.7 274.6L645.8 271.7L644.8 271.8L642 272.1L632.9 274.4L630.5 274.5L623.9 275.8L619.1 276.1L581.9 281.7L579.5 282.6L564.6 285.1L564 280.3L563.8 279.7L548.4 280.3L548 278.3L547.8 278L538.1 278.4L537.2 273.9L532.7 274.1L530.3 256.9L528.9 255L528.2 250.6L480.3 252.3L432 254.4L344.8 256.7L230.3 259.1L112 261.3L108.9 259.6L82.3 224.6L28 224.6Z" fill="#90e090" fill-opacity="0.66"/>
<path d="M28 207.5L82.3 207.5L108.9 242.5L112 244.2L136.7 243.8L218.4 241.6L344.8 238.5L378.1 237.3L432 235.8L448.2 234.7L448.7 237.2L452.2 237L453.4 242.9L459.8 242.4L460.2 245.6L480.3 244.1L502.7 243L512.2 242.2L519.8 241.8L520 242.7L520.8 250.3L528 249.9L528.2 250.4L528.9 255L530.3 256.9L532.7 274.1L537.2 273.9L538.1 278.4L547.8 277.8L548 278.3L548.4 280.3L563.8 279.4L564.6 285.1L579.5 282.1L581.9 281.1L619.1 274.4L623.9 274.1L630.5 272.6L632.9 272.4L642 269.9L645.2 269.5L646.7 274.6L655.8 271.9L656.5 271.8L657 274.6L676.8 268.7L681.8 268.1L682 268.3L683.4 274.9L692 273L692.4 274.6L694.3 275L696.7 287.4L706.2 285.2L710 284.8L711.3 291.7L713.4 291L714.8 282.7L717.2 280.5L719.6 277.7L721.9 275.4L727.5 271.6L728.2 270.4L728.5 270.3L728.8 271.7L731 269.1L732 274.6L732.9 269.9L734.8 267.8L735.3 267.5L735.4 267.2L736.9 251.2L738.3 242.9L740.3 238.9L743.2 238L743.8 240.4L752.1 236.9L753.1 235.7L753.8 235.6L759 233.1L760 231.8L760.5 231.6L763.8 230.7L765 230.7L767.6 229.8L769.1 229.7L774.3 228.8L774.6 216.8L775.7 216.8L779.8 215.5L780 215.9L780.8 225.8L790.6 222.2L794.5 217.3L801 216.1L804 215.9L805.3 220.5L818.2 217.2L825 213.9L832.9 212.8L836.5 212.8L859.5 210.8L873.4 209.9L905.3 207.3L906.2 207L907.2 146.9L999.3 144.4L1002.5 149.3L1012 157.9L1016.8 166.3L1020 174.7L1024.1 180.6L1034.9 180.2L1038.4 186.1L1089.9 184L1099.4 198.4L1117.8 196.9L1129.6 214.2L1187.5 211.9L1192.5 209.1L1241 207.7" fill="none" stroke="#90e090" stroke-width="2" stroke-linejoin="round"/>
<path d="M28 203.9L82.3 203.6L108.9 238.4L112 240L162.7 238.3L163.6 238.1L224.8 235.7L344.8 232.4L378.1 229.4L401.5 228.2L416.3 226.8L425.8 226.2L432 226.1L440.5 225.3L440.8 225.9L441.5 233.9L448 233.3L448.2 234L448.7 237.2L452.2 236.9L453.4 242.9L459.8 242.3L460.2 245.6L480.3 243.8L502.7 242.6L512.2 241.6L519.8 241.2L520.8 250.3L528 249.9L528.2 250.4L528.9 255L530.3 256.9L532.7 274.1L537.2 273.8L538.1 278.4L547.8 277.6L548.4 280.3L560.3 279.2L563.8 279.1L564.6 285.1L579.5 281.8L581.9 280.7L619.1 273.3L623.9 272.9L630.5 271.3L632.9 271.1L642 268.4L642.9 268.4L644.8 268.1L646.7 274.6L655.8 271.7L656.5 271.6L657 274.6L676.8 268.3L681.8 267.7L683.4 274.9L692 272.8L692.4 274.6L694.3 275L696.7 287.4L706.2 285L707.5 285L707.6 285.1L710 284.7L711.3 291.7L713.4 291L714.8 282.6L717.2 280.3L721.9 275.3L727.5 271.4L728.2 270.2L728.5 270.3L728.8 271.7L731 269.1L732 274.6L732.9 269.9L734.8 267.7L735.3 267.4L735.4 267.1L736.9 251.1L738.3 242.8L740.3 238.8L743.2 237.8L743.8 240.4L752.1 236.7L753.1 235.5L753.8 235.4L759 232.7L760 231.4L760.5 231.2L763.8 230.3L765 230.2L767.6 229.3L769.1 229.2L774.3 228.2L774.6 216.2L775.7 216.1L779.8 214.8L780 215.9L780.8 225.8L790.6 221.9L794.5 217.1L801 215.8L803.8 215.6L804 215.8L805.3 220.5L818.2 217.1L825 213.6L832.9 212.6L836.5 212.5L859.5 210.1L873.4 209L886.7 207.6L905.3 205.9L906.2 205.5L907.2 143.9L999.3 141.5L1002.5 146.5L1012 155L1016.8 163.5L1020 171.9L1024.1 177.8L1034.9 177.5L1038.4 183.4L1089.9 181L1099.4 195.4L1117.8 193.7L1129.6 211L1187.5 209L1192.5 206.4L1241 204.8L1241 207.7L1192.5 209.1L1187.5 211.9L1129.6 214.2L1117.8 196.9L1099.4 198.4L1089.9 184L1038.4 186.1L1034.9 180.2L1024.1 180.6L1020 174.7L1016.8 166.3L1012 157.9L1002.5 149.3L999.3 144.4L907.2 146.9L906.2 207L905.3 207.3L873.4 209.9L859.5 210.8L836.5 212.8L832.9 212.8L825 213.9L818.2 217.2L805.3 220.5L804 215.9L801 216.1L794.5 217.3L790.6 222.2L780.8 225.8L780 215.9L779.8 215.5L775.7 216.8L774.6 216.8L774.3 228.8L769.1 229.7L767.6 229.8L765 230.7L763.8 230.7L760.5 231.6L760 231.8L759 233.1L753.8 235.6L753.1 235.7L752.1 236.9L743.8 240.4L743.2 238L740.3 238.9L738.3 242.9L736.9 251.2L735.4 267.2L735.3 267.5L734.8 267.8L732.9 269.9L732 274.6L731 269.1L728.8 271.7L728.5 270.3L728.2 270.4L727.5 271.6L721.9 275.4L719.6 277.7L717.2 280.5L714.8 282.7L713.4 291L711.3 291.7L710 284.8L706.2 285.2L696.7 287.4L694.3 275L692.4 274.6L692 273L683.4 274.9L682 268.3L681.8 268.1L676.8 268.7L657 274.6L656.5 271.8L655.8 271.9L646.7 274.6L645.2 269.5L642 269.9L632.9 272.4L630.5 272.6L623.9 274.1L619.1 274.4L581.9 281.1L579.5 282.1L564.6 285.1L563.8 279.4L548.4 280.3L548 278.3L547.8 277.8L538.1 278.4L537.2 273.9L532.7 274.1L530.3 256.9L528.9 255L528.2 250.4L528 249.9L520.8 250.3L520 242.7L519.8 241.8L512.2 242.2L502.7 243L480.3 244.1L460.2 245.6L459.8 242.4L453.4 242.9L452.2 237L448.7 237.2L448.2 234.7L432 235.8L378.1 237.3L344.8 238.5L218.4 241.6L136.7 243.8L112 244.2L108.9 242.5L82.3 207.5L28 207.5Z" fill="#808000" fill-opacity="0.66"/>
<path d="M28 203.9L82.3 203.6L108.9 238.4L112 240L162.7 238.3L163.6 238.1L224.8 235.7L344.8 232.4L378.1 229.4L401.5 228.2L416.3 226.8L425.8 226.2L432 226.1L440.5 225.3L440.8 225.9L441.5 233.9L448 233.3L448.2 234L448.7 237.2L452.2 236.9L453.4 242.9L459.8 242.3L460.2 245.6L480.3 243.8L502.7 242.6L512.2 241.6L519.8 241.2L520.8 250.3L528 249.9L528.2 250.4L528.9 255L530.3 256.9L532.7 274.1L537.2 273.8L538.1 278.4L547.8 277.6L548.4 280.3L560.3 279.2L563.8 279.1L564.6 285.1L579.5 281.8L581.9 280.7L619.1 273.3L623.9 272.9L630.5 271.3L632.9 271.1L642 268.4L642.9 268.4L644.8 268.1L646.7 274.6L655.8 271.7L656.5 271.6L657 274.6L676.8 268.3L681.8 267.7L683.4 274.9L692 272.8L692.4 274.6L694.3 275L696.7 287.4L706.2 285L707.5 285L707.6 285.1L710 284.7L711.3 291.7L713.4 291L714.8 282.6L717.2 280.3L721.9 275.3L727.5 271.4L728.2 270.2L728.5 270.3L728.8 271.7L731 269.1L732 274.6L732.9 269.9L734.8 267.7L735.3 267.4L735.4 267.1L736.9 251.1L738.3 242.8L740.3 238.8L743.2 237.8L743.8 240.4L752.1 236.7L753.1 235.5L753.8 235.4L759 232.7L760 231.4L760.5 231.2L763.8 230.3L765 230.2L767.6 229.3L769.1 229.2L774.3 228.2L774.6 216.2L775.7 216.1L779.8 214.8L780 215.9L780.8 225.8L790.6 221.9L794.5 217.1L801 215.8L803.8 215.6L804 215.8L805.3 220.5L818.2 217.1L825 213.6L832.9 212.6L836.5 212.5L859.5 210.1L873.4 209L886.7 207.6L905.3 205.9L906.2 205.5L907.2 143.9L999.3 141.5L1002.5 146.5L1012 155L1016.8 163.5L1020 171.9L1024.1 177.8L1034.9 177.5L1038.4 183.4L1089.9 181L1099.4 195.4L1117.8 193.7L1129.6 211L1187.5 209L1192.5 206.4L1241 204.8" fill="none" stroke="#808000" stroke-width="2" stroke-linejoin="round"/>
<path d="M28 196.5L82.3 195.6L108.9 229.9L112 231.4L119 231.2L119 231L127.4 230.5L136.7 230.2L145.3 229.5L162.7 228.7L163.6 228.4L175.1 227.9L179.8 227.4L183.2 227.4L203.2 225.9L224.8 224.6L343.4 220.8L344.8 220.8L344.8 221.1L378.1 216.1L383.9 215.8L390.5 214.9L399.1 214.2L400.5 214.1L400.8 214.3L401.5 218.6L416.3 216.3L425.8 215.3L431 215.1L432 223.9L440.1 223.1L440.5 223.2L441.5 233.9L448 233.3L448.2 234L448.7 237.2L452.2 236.9L453.4 242.9L459.8 242.2L460.2 245.6L477.9 243.9L480.3 243.6L502.7 242.2L512.2 241.1L519.8 240.6L520.8 250.3L528 249.8L528.2 250.4L528.9 255L530.3 256.9L532.7 274.1L537.2 273.7L538.1 278.4L547.8 277.3L548.4 280.3L560.3 278.8L563.8 278.7L564.6 285.1L579.5 281.5L581.9 280.3L619.1 272.2L623.9 271.8L630.5 270L632.8 269.9L632.9 270.7L642 267.7L642.8 267.6L642.9 268.4L644.8 268.1L646.7 274.6L656.2 271.4L656.5 271.6L657 274.6L676.8 267.9L681.8 267.2L683.4 274.9L691.4 272.7L692 272.7L692.4 274.6L694.3 275L696.7 287.4L706.2 284.8L707.5 284.8L707.6 285.1L710 284.7L711.3 291.7L713.4 291L714.8 282.5L717.2 280.2L721.9 275.1L727.5 271.1L728.2 269.9L728.5 270.3L728.8 271.7L731 269L732 274.6L732.9 269.8L734.8 267.7L735.3 267.4L735.4 267L736.9 250.9L738.2 243.2L738.3 242.6L740.3 238.6L742.4 237.7L743.2 237.6L743.8 240.4L752.1 236.5L753.1 235.3L753.8 235.2L759 232.3L760 231.1L760.5 230.8L763.8 229.8L765 229.7L767.6 228.8L769.1 228.7L774.3 227.6L774.6 215.5L775.5 215.4L775.7 215.8L779.8 214.4L780.8 225.8L790.6 221.7L794.5 216.8L801 215.5L803.8 215.3L805.3 220.5L818.2 216.8L825 212.8L832.9 211.6L836.5 211.5L851.9 209L859.5 207.5L873.4 205.8L886.7 203.5L896.4 202.2L905.3 200.8L906.2 200L907.2 138.9L999.3 133.8L1002.5 138.7L1012 147.2L1016.8 155.6L1020 164L1024.1 169.9L1034.9 169.4L1038.4 175.3L1089.9 171.5L1099.4 185.7L1117.8 183.7L1129.6 200.8L1187.5 197.6L1192.5 194.5L1241 191.9L1241 204.8L1192.5 206.4L1187.5 209L1129.6 211L1117.8 193.7L1099.4 195.4L1089.9 181L1038.4 183.4L1034.9 177.5L1024.1 177.8L1020 171.9L1016.8 163.5L1012 155L1002.5 146.5L999.3 141.5L907.2 143.9L906.2 205.5L905.3 205.9L886.7 207.6L873.4 209L859.5 210.1L836.5 212.5L832.9 212.6L825 213.6L818.2 217.1L805.3 220.5L804 215.8L803.8 215.6L801 215.8L794.5 217.1L790.6 221.9L780.8 225.8L780 215.9L779.8 214.8L775.7 216.1L774.6 216.2L774.3 228.2L769.1 229.2L767.6 229.3L765 230.2L763.8 230.3L760.5 231.2L760 231.4L759 232.7L753.8 235.4L753.1 235.5L752.1 236.7L743.8 240.4L743.2 237.8L740.3 238.8L738.3 242.8L736.9 251.1L735.4 267.1L735.3 267.4L734.8 267.7L732.9 269.9L732 274.6L731 269.1L728.8 271.7L728.5 270.3L728.2 270.2L727.5 271.4L721.9 275.3L717.2 280.3L714.8 282.6L713.4 291L711.3 291.7L710 284.7L707.6 285.1L707.5 285L706.2 285L696.7 287.4L694.3 275L692.4 274.6L692 272.8L683.4 274.9L681.8 267.7L676.8 268.3L657 274.6L656.5 271.6L655.8 271.7L646.7 274.6L644.8 268.1L642.9 268.4L642 268.4L632.9 271.1L630.5 271.3L623.9 272.9L619.1 273.3L581.9 280.7L579.5 281.8L564.6 285.1L563.8 279.1L560.3 279.2L548.4 280.3L547.8 277.6L538.1 278.4L537.2 273.8L532.7 274.1L530.3 256.9L528.9 255L528.2 250.4L528 249.9L520.8 250.3L519.8 241.2L512.2 241.6L502.7 242.6L480.3 243.8L460.2 245.6L459.8 242.3L453.4 242.9L452.2 236.9L448.7 237.2L448.2 234L448 233.3L441.5 233.9L440.8 225.9L440.5 225.3L432 226.1L425.8 226.2L416.3 226.8L401.5 228.2L378.1 229.4L344.8 232.4L224.8 235.7L163.6 238.1L162.7 238.3L112 240L108.9 238.4L82.3 203.6L28 203.9Z" fill="#989800" fill-opacity="0.66"/>
<path d="M28 196.5L82.3 195.6L108.9 229.9L112 231.4L119 231.2L119 231L127.4 230.5L136.7 230.2L145.3 229.5L162.7 228.7L163.6 228.4L175.1 227.9L179.8 227.4L183.2 227.4L203.2 225.9L224.8 224.6L343.4 220.8L344.8 220.8L344.8 221.1L378.1 216.1L383.9 215.8L390.5 214.9L399.1 214.2L400.5 214.1L400.8 214.3L401.5 218.6L416.3 216.3L425.8 215.3L431 215.1L432 223.9L440.1 223.1L440.5 223.2L441.5 233.9L448 233.3L448.2 234L448.7 237.2L452.2 236.9L453.4 242.9L459.8 242.2L460.2 245.6L477.9 243.9L480.3 243.6L502.7 242.2L512.2 241.1L519.8 240.6L520.8 250.3L528 249.8L528.2 250.4L528.9 255L530.3 256.9L532.7 274.1L537.2 273.7L538.1 278.4L547.8 277.3L548.4 280.3L560.3 278.8L563.8 278.7L564.6 285.1L579.5 281.5L581.9 280.3L619.1 272.2L623.9 271.8L630.5 270L632.8 269.9L632.9 270.7L642 267.7L642.8 267.6L642.9 268.4L644.8 268.1L646.7 274.6L656.2 271.4L656.5 271.6L657 274.6L676.8 267.9L681.8 267.2L683.4 274.9L691.4 272.7L692 272.7L692.4 274.6L694.3 275L696.7 287.4L706.2 284.8L707.5 284.8L707.6 285.1L710 284.7L711.3 291.7L713.4 291L714.8 282.5L717.2 280.2L721.9 275.1L727.5 271.1L728.2 269.9L728.5 270.3L728.8 271.7L731 269L732 274.6L732.9 269.8L734.8 267.7L735.3 267.4L735.4 267L736.9 250.9L738.2 243.2L738.3 242.6L740.3 238.6L742.4 237.7L743.2 237.6L743.8 240.4L752.1 236.5L753.1 235.3L753.8 235.2L759 232.3L760 231.1L760.5 230.8L763.8 229.8L765 229.7L767.6 228.8L769.1 228.7L774.3 227.6L774.6 215.5L775.5 215.4L775.7 215.8L779.8 214.4L780.8 225.8L790.6 221.7L794.5 216.8L801 215.5L803.8 215.3L805.3 220.5L818.2 216.8L825 212.8L832.9 211.6L836.5 211.5L851.9 209L859.5 207.5L873.4 205.8L886.7 203.5L896.4 202.2L905.3 200.8L906.2 200L907.2 138.9L999.3 133.8L1002.5 138.7L1012 147.2L1016.8 155.6L1020 164L1024.1 169.9L1034.9 169.4L1038.4 175.3L1089.9 171.5L1099.4 185.7L1117.8 183.7L1129.6 200.8L1187.5 197.6L1192.5 194.5L1241 191.9" fill="none" stroke="#989800" stroke-width="2" stroke-linejoin="round"/>
<path d="M28 194L82.3 192.9L108.9 227L112 228.5L119 228.2L119 228L127.4 227.4L136.7 227.1L145.3 226.3L162.7 225.3L163.6 224.9L175.1 224.3L179.8 223.8L183.2 223.7L203.2 221.9L218.4 220.9L249.5 219.4L277.2 218.4L286.2 217.8L326.3 216.3L327 216.3L327.2 217.4L344.2 216.6L344.8 221.1L378.1 215.6L383.9 215.3L390.5 214.3L392 214.3L399.1 213.4L400.5 213.4L401.5 218.6L416.3 216L425.8 214.9L431 214.8L432 223.9L440.1 223L440.5 223.2L441.5 233.9L448 233.2L448.7 237.2L452.2 236.9L453.4 242.9L459.8 242.1L460.2 245.6L477.9 243.8L480.3 243.4L502.7 241.9L512.2 240.8L519.8 240.3L520.8 250.3L528 249.8L528.2 250.4L528.9 255L530.3 256.9L532.7 274.1L537.2 273.6L538.1 278.4L547.8 277.2L548.4 280.3L560.3 278.6L563.8 278.5L564.6 285.1L579.5 281.3L581.9 280.1L619.1 271.6L623.9 271.2L630.5 269.4L632.5 269.2L632.9 270.7L642 267.6L642.8 267.6L642.9 268.4L644.8 268.1L646.7 274.6L656.2 271.3L656.5 271.6L657 274.6L676.8 267.7L681.5 267.1L681.8 267.2L683.4 274.9L691.4 272.6L692 272.6L692.4 274.6L694.3 275L696.7 287.4L706.2 284.7L707.2 284.7L707.6 285.1L710 284.7L711.3 291.7L713.4 291L714.8 282.4L717.2 280.1L721.9 274.9L727.5 270.9L728.2 269.7L728.8 271.7L731 269L732 274.6L732.9 269.8L734.8 267.6L735.3 267.3L735.4 266.9L736.9 250.8L738.2 243.1L738.3 242.5L740.3 238.4L743 237.4L743.2 237.6L743.8 240.4L752.1 236.3L753.1 235.1L753.8 235L759 232L760 230.7L760.5 230.4L763.8 229.4L765 229.3L767.6 228.3L769.1 228.2L774.3 227.1L774.6 214.8L775.5 214.8L775.7 215.8L779.8 214.3L780.8 225.8L790.6 221.5L794.5 216.6L801 215.2L803.8 214.9L805.3 220.5L818.2 216.2L824.8 211.5L832.9 210L836.5 209.8L851.9 205.6L859.5 203.1L872.4 200.5L873.4 200.5L886.7 196.6L887.7 196.6L895.3 194.6L896.4 194.6L905.3 192.3L906.2 191L907.2 130.6L999.3 120.6L1002.5 125.5L1012 133.9L1016.8 142.3L1020 150.7L1024.1 156.6L1034.9 156L1038.4 161.9L1089.9 157.6L1099.4 171.7L1117.8 169.5L1129.6 186.5L1187.5 182.3L1192.5 179.3L1241 177.6L1241 191.9L1192.5 194.5L1187.5 197.6L1129.6 200.8L1117.8 183.7L1099.4 185.7L1089.9 171.5L1038.4 175.3L1034.9 169.4L1024.1 169.9L1020 164L1016.8 155.6L1012 147.2L1002.5 138.7L999.3 133.8L907.2 138.9L906.2 200L905.3 200.8L896.4 202.2L886.7 203.5L873.4 205.8L859.5 207.5L851.9 209L836.5 211.5L832.9 211.6L825 212.8L818.2 216.8L805.3 220.5L803.8 215.3L801 215.5L794.5 216.8L790.6 221.7L780.8 225.8L779.8 214.4L775.7 215.8L775.5 215.4L774.6 215.5L774.3 227.6L769.1 228.7L767.6 228.8L765 229.7L763.8 229.8L760.5 230.8L760 231.1L759 232.3L753.8 235.2L753.1 235.3L752.1 236.5L743.8 240.4L743.2 237.6L742.4 237.7L740.3 238.6L738.3 242.6L738.2 243.2L736.9 250.9L735.4 267L735.3 267.4L734.8 267.7L732.9 269.8L732 274.6L731 269L728.8 271.7L728.5 270.3L728.2 269.9L727.5 271.1L721.9 275.1L717.2 280.2L714.8 282.5L713.4 291L711.3 291.7L710 284.7L707.6 285.1L707.5 284.8L706.2 284.8L696.7 287.4L694.3 275L692.4 274.6L692 272.7L691.4 272.7L683.4 274.9L681.8 267.2L676.8 267.9L657 274.6L656.5 271.6L656.2 271.4L646.7 274.6L644.8 268.1L642.9 268.4L642.8 267.6L642 267.7L632.9 270.7L632.8 269.9L630.5 270L623.9 271.8L619.1 272.2L581.9 280.3L579.5 281.5L564.6 285.1L563.8 278.7L560.3 278.8L548.4 280.3L547.8 277.3L538.1 278.4L537.2 273.7L532.7 274.1L530.3 256.9L528.9 255L528.2 250.4L528 249.8L520.8 250.3L519.8 240.6L512.2 241.1L502.7 242.2L480.3 243.6L477.9 243.9L460.2 245.6L459.8 242.2L453.4 242.9L452.2 236.9L448.7 237.2L448.2 234L448 233.3L441.5 233.9L440.5 223.2L440.1 223.1L432 223.9L431 215.1L425.8 215.3L416.3 216.3L401.5 218.6L400.8 214.3L400.5 214.1L399.1 214.2L390.5 214.9L383.9 215.8L378.1 216.1L344.8 221.1L344.8 220.8L343.4 220.8L224.8 224.6L203.2 225.9L183.2 227.4L179.8 227.4L175.1 227.9L163.6 228.4L162.7 228.7L145.3 229.5L136.7 230.2L127.4 230.5L119 231L119 231.2L112 231.4L108.9 229.9L82.3 195.6L28 196.5Z" fill="#b0b000" fill-opacity="0.66"/>
<path d="M28 194L82.3 192.9L108.9 227L112 228.5L119 228.2L119 228L127.4 227.4L136.7 227.1L145.3 226.3L162.7 225.3L163.6 224.9L175.1 224.3L179.8 223.8L183.2 223.7L203.2 221.9L218.4 220.9L249.5 219.4L277.2 218.4L286.2 217.8L326.3 216.3L327 216.3L327.2 217.4L344.2 216.6L344.8 221.1L378.1 215.6L383.9 215.3L390.5 214.3L392 214.3L399.1 213.4L400.5 213.4L401.5 218.6L416.3 216L425.8 214.9L431 214.8L432 223.9L440.1 223L440.5 223.2L441.5 233.9L448 233.2L448.7 237.2L452.2 236.9L453.4 242.9L459.8 242.1L460.2 245.6L477.9 243.8L480.3 243.4L502.7 241.9L512.2 240.8L519.8 240.3L520.8 250.3L528 249.8L528.2 250.4L528.9 255L530.3 256.9L532.7 274.1L537.2 273.6L538.1 278.4L547.8 277.2L548.4 280.3L560.3 278.6L563.8 278.5L564.6 285.1L579.5 281.3L581.9 280.1L619.1 271.6L623.9 271.2L630.5 269.4L632.5 269.2L632.9 270.7L642 267.6L642.8 267.6L642.9 268.4L644.8 268.1L646.7 274.6L656.2 271.3L656.5 271.6L657 274.6L676.8 267.7L681.5 267.1L681.8 267.2L683.4 274.9L691.4 272.6L692 272.6L692.4 274.6L694.3 275L696.7 287.4L706.2 284.7L707.2 284.7L707.6 285.1L710 284.7L711.3 291.7L713.4 291L714.8 282.4L717.2 280.1L721.9 274.9L727.5 270.9L728.2 269.7L728.8 271.7L731 269L732 274.6L732.9 269.8L734.8 267.6L735.3 267.3L735.4 266.9L736.9 250.8L738.2 243.1L738.3 242.5L740.3 238.4L743 237.4L743.2 237.6L743.8 240.4L752.1 236.3L753.1 235.1L753.8 235L759 232L760 230.7L760.5 230.4L763.8 229.4L765 229.3L767.6 228.3L769.1 228.2L774.3 227.1L774.6 214.8L775.5 214.8L775.7 215.8L779.8 214.3L780.8 225.8L790.6 221.5L794.5 216.6L801 215.2L803.8 214.9L805.3 220.5L818.2 216.2L824.8 211.5L832.9 210L836.5 209.8L851.9 205.6L859.5 203.1L872.4 200.5L873.4 200.5L886.7 196.6L887.7 196.6L895.3 194.6L896.4 194.6L905.3 192.3L906.2 191L907.2 130.6L999.3 120.6L1002.5 125.5L1012 133.9L1016.8 142.3L1020 150.7L1024.1 156.6L1034.9 156L1038.4 161.9L1089.9 157.6L1099.4 171.7L1117.8 169.5L1129.6 186.5L1187.5 182.3L1192.5 179.3L1241 177.6" fill="none" stroke="#b0b000" stroke-width="2" stroke-linejoin="round"/>
<path d="M28 191.5L82.3 190.1L108.9 224.1L112 225.6L119 225.3L119 225L127.4 224.3L136.7 224L145.3 223.1L162.7 222L163.6 221.6L175.1 220.9L179.8 220.4L183.2 220.3L203.2 218.3L218.4 217.2L249.5 215.5L277.2 214.3L286.2 213.6L307.2 212.8L316.3 212.3L320.2 212.2L320.5 212.4L320.6 213.1L326.5 212.8L327.2 217.4L344.2 216.5L344.8 221.1L378.1 215.2L383.9 214.9L390.5 213.9L392 213.8L399.1 212.9L400.5 212.9L401.5 218.6L416.3 215.9L425.8 214.7L431 214.5L432 223.9L440.2 223L440.5 223.2L441.5 233.9L448 233.2L448.7 237.2L452.2 236.8L453.4 242.9L459.8 242.1L460.2 245.6L477.9 243.7L480.3 243.3L502.7 241.7L512.2 240.5L519.5 239.9L519.8 240.3L520.8 250.3L528 249.8L528.2 250.4L528.9 255L530.3 256.9L532.7 274.1L537.2 273.6L538.1 278.4L547.8 277L548.4 280.3L560.3 278.5L563.8 278.3L564.6 285.1L579.5 281.2L581.9 279.9L619.1 271L623.9 270.6L630.5 268.7L632.5 268.6L632.9 270.7L642.5 267.4L642.8 267.6L642.9 268.4L644.8 268.1L646.7 274.6L656.2 271.2L656.5 271.6L657 274.6L676.8 267.4L681.5 266.8L681.8 267.2L683.4 274.9L691.4 272.5L692 272.5L692.4 274.6L694.3 275L696.7 287.4L706.2 284.6L707.2 284.6L707.6 285.1L710 284.7L711.3 291.7L713.4 290.9L714.8 282.3L721.9 274.8L727.5 270.7L728.2 269.5L728.8 271.7L731 269L732 274.6L732.9 269.8L734.8 267.6L735.3 267.2L735.4 266.9L736.9 250.7L738.2 242.9L738.3 242.4L740.3 238.2L743 237.2L743.2 237.6L743.8 240.4L752.1 236.1L753.1 234.9L753.8 234.8L759 231.6L760 230.3L760.5 230L763.8 228.9L765 228.8L767.6 227.8L769.1 227.7L774.3 226.5L774.6 214.1L775.2 214.1L775.7 215.8L779.8 214.3L780.8 225.8L790.6 221.2L794.5 216.3L801 214.9L803.5 214.7L803.8 214.9L805.3 220.5L818.2 215.7L824.8 210.4L832.9 208.7L836.5 208.6L851.9 204L859.5 201.4L872.4 198.6L873.4 198.6L886.7 194.4L887.7 194.4L895.3 192.3L896.4 192.3L905.3 189.8L906.2 188.4L906.2 187.3L907.2 130L908 130L999.3 117.6L1002.5 122.5L1012 130.8L1016.8 139.1L1020 147.5L1024.1 153.3L1034.9 152.7L1038.4 158.5L1089.9 153.7L1099.4 167.9L1117.8 165.7L1129.6 182.7L1187.5 178L1192.5 175L1241 173.8L1241 177.6L1192.5 179.3L1187.5 182.3L1129.6 186.5L1117.8 169.5L1099.4 171.7L1089.9 157.6L1038.4 161.9L1034.9 156L1024.1 156.6L1020 150.7L1016.8 142.3L1012 133.9L1002.5 125.5L999.3 120.6L907.2 130.6L906.2 191L905.3 192.3L896.4 194.6L895.3 194.6L887.7 196.6L886.7 196.6L873.4 200.5L872.4 200.5L859.5 203.1L851.9 205.6L836.5 209.8L832.9 210L824.8 211.5L818.2 216.2L805.3 220.5L803.8 214.9L801 215.2L794.5 216.6L790.6 221.5L780.8 225.8L779.8 214.3L775.7 215.8L775.5 214.8L774.6 214.8L774.3 227.1L769.1 228.2L767.6 228.3L765 229.3L763.8 229.4L760.5 230.4L760 230.7L759 232L753.8 235L753.1 235.1L752.1 236.3L743.8 240.4L743.2 237.6L743 237.4L740.3 238.4L738.3 242.5L738.2 243.1L736.9 250.8L735.4 266.9L735.3 267.3L734.8 267.6L732.9 269.8L732 274.6L731 269L728.8 271.7L728.2 269.7L727.5 270.9L721.9 274.9L717.2 280.1L714.8 282.4L713.4 291L711.3 291.7L710 284.7L707.6 285.1L707.2 284.7L706.2 284.7L696.7 287.4L694.3 275L692.4 274.6L692 272.6L691.4 272.6L683.4 274.9L681.8 267.2L681.5 267.1L676.8 267.7L657 274.6L656.5 271.6L656.2 271.3L646.7 274.6L644.8 268.1L642.9 268.4L642.8 267.6L642 267.6L632.9 270.7L632.5 269.2L630.5 269.4L623.9 271.2L619.1 271.6L581.9 280.1L579.5 281.3L564.6 285.1L563.8 278.5L560.3 278.6L548.4 280.3L547.8 277.2L538.1 278.4L537.2 273.6L532.7 274.1L530.3 256.9L528.9 255L528.2 250.4L528 249.8L520.8 250.3L519.8 240.3L512.2 240.8L502.7 241.9L480.3 243.4L477.9 243.8L460.2 245.6L459.8 242.1L453.4 242.9L452.2 236.9L448.7 237.2L448 233.2L441.5 233.9L440.5 223.2L440.1 223L432 223.9L431 214.8L425.8 214.9L416.3 216L401.5 218.6L400.5 213.4L399.1 213.4L392 214.3L390.5 214.3L383.9 215.3L378.1 215.6L344.8 221.1L344.2 216.6L327.2 217.4L327 216.3L326.3 216.3L286.2 217.8L277.2 218.4L249.5 219.4L218.4 220.9L203.2 221.9L183.2 223.7L179.8 223.8L175.1 224.3L163.6 224.9L162.7 225.3L145.3 226.3L136.7 227.1L127.4 227.4L119 228L119 228.2L112 228.5L108.9 227L82.3 192.9L28 194Z" fill="#c8c800" fill-opacity="0.66"/>
<path d="M28 191.5L82.3 190.1L108.9 224.1L112 225.6L119 225.3L119 225L127.4 224.3L136.7 224L145.3 223.1L162.7 222L163.6 221.6L175.1 220.9L179.8 220.4L183.2 220.3L203.2 218.3L218.4 217.2L249.5 215.5L277.2 214.3L286.2 213.6L307.2 212.8L316.3 212.3L320.2 212.2L320.5 212.4L320.6 213.1L326.5 212.8L327.2 217.4L344.2 216.5L344.8 221.1L378.1 215.2L383.9 214.9L390.5 213.9L392 213.8L399.1 212.9L400.5 212.9L401.5 218.6L416.3 215.9L425.8 214.7L431 214.5L432 223.9L440.2 223L440.5 223.2L441.5 233.9L448 233.2L448.7 237.2L452.2 236.8L453.4 242.9L459.8 242.1L460.2 245.6L477.9 243.7L480.3 243.3L502.7 241.7L512.2 240.5L519.5 239.9L519.8 240.3L520.8 250.3L528 249.8L528.2 250.4L528.9 255L530.3 256.9L532.7 274.1L537.2 273.6L538.1 278.4L547.8 277L548.4 280.3L560.3 278.5L563.8 278.3L564.6 285.1L579.5 281.2L581.9 279.9L619.1 271L623.9 270.6L630.5 268.7L632.5 268.6L632.9 270.7L642.5 267.4L642.8 267.6L642.9 268.4L644.8 268.1L646.7 274.6L656.2 271.2L656.5 271.6L657 274.6L676.8 267.4L681.5 266.8L681.8 267.2L683.4 274.9L691.4 272.5L692 272.5L692.4 274.6L694.3 275L696.7 287.4L706.2 284.6L707.2 284.6L707.6 285.1L710 284.7L711.3 291.7L713.4 290.9L714.8 282.3L721.9 274.8L727.5 270.7L728.2 269.5L728.8 271.7L731 269L732 274.6L732.9 269.8L734.8 267.6L735.3 267.2L735.4 266.9L736.9 250.7L738.2 242.9L738.3 242.4L740.3 238.2L743 237.2L743.2 237.6L743.8 240.4L752.1 236.1L753.1 234.9L753.8 234.8L759 231.6L760 230.3L760.5 230L763.8 228.9L765 228.8L767.6 227.8L769.1 227.7L774.3 226.5L774.6 214.1L775.2 214.1L775.7 215.8L779.8 214.3L780.8 225.8L790.6 221.2L794.5 216.3L801 214.9L803.5 214.7L803.8 214.9L805.3 220.5L818.2 215.7L824.8 210.4L832.9 208.7L836.5 208.6L851.9 204L859.5 201.4L872.4 198.6L873.4 198.6L886.7 194.4L887.7 194.4L895.3 192.3L896.4 192.3L905.3 189.8L906.2 188.4L906.2 187.3L907.2 130L908 130L999.3 117.6L1002.5 122.5L1012 130.8L1016.8 139.1L1020 147.5L1024.1 153.3L1034.9 152.7L1038.4 158.5L1089.9 153.7L1099.4 167.9L1117.8 165.7L1129.6 182.7L1187.5 178L1192.5 175L1241 173.8" fill="none" stroke="#c8c800" stroke-width="2" stroke-linejoin="round"/>
<path d="M28 177.6L82.3 175.1L108.9 208.1L112 209.5L119 209L119 208.5L127.4 207.8L136.7 207.5L145.3 206.6L162.7 205.5L163.6 205.1L175.1 204.4L179.8 203.9L183 203.8L183.2 204.6L203.2 202.4L226.1 200.5L230.3 200.5L249.5 198.5L273.4 196.8L276.5 196.7L277.2 208.4L286.2 207.1L302 206L307 205.9L307.2 206L317 205.1L317.2 206.5L319.6 206.4L320.6 213.1L326.5 212.6L327.2 217.4L344.2 215.9L344.8 221.1L378.1 214.5L383.9 214.2L390.5 213L392 213L399.1 212L400.2 212L401.5 218.6L416.3 215.5L425.8 214.2L431 214L432 223.9L440.2 222.9L440.5 223.2L441.5 233.9L448 233.1L448.7 237.2L452.2 236.8L453.4 242.9L459.8 242.1L460.2 245.6L477.9 243.6L480.3 243.1L502.7 241.5L512.2 240.2L519.5 239.6L519.8 240.3L520.8 250.3L528 249.8L528.2 250.4L528.9 255L530.3 256.9L532.7 274.1L537.2 273.6L538.1 278.4L547.5 276.9L547.8 277L548.4 280.3L560.3 278.3L561.5 278.3L561.6 278.4L563.7 278.2L564.6 285.1L579.5 281L581.9 279.5L619.1 270.2L623.9 269.8L630.5 267.7L632.2 267.6L632.9 270.7L642 267.3L642.5 267.3L642.8 267.6L642.9 268.4L644.8 268.1L646.7 274.6L656.2 271.1L656.5 271.6L657 274.6L676.8 267.1L681.5 266.5L683.4 274.9L691.8 272.4L692 272.5L692.4 274.6L694.3 275L696.7 287.4L706.2 284.4L707.2 284.4L707.6 285.1L710 284.6L711.3 291.7L713.4 290.9L714.8 282.2L721.9 274.6L727.5 270.5L728.2 269.3L728.8 271.7L731 268.9L732 274.6L732.9 269.8L734.8 267.5L735.3 267.2L735.4 266.7L736.9 250.5L738.2 242.7L738.3 242.1L740.3 237.9L743 236.8L743.8 240.4L752.1 235.7L753.1 234.5L753.8 234.4L759 230.8L760 229.5L760.5 229.1L763.8 228L765 227.9L767.6 226.7L769.1 226.6L774.3 225.4L774.6 212.8L775 212.8L775.7 215.8L779.8 214.1L780.8 225.8L790.6 220.8L794.5 215.8L801 214.2L803.5 214L805.3 220.5L818.2 215.2L824.8 209.4L832.9 207.5L836.5 207.4L851.9 202.5L859.5 199.7L872.4 196.7L873.4 196.7L886.7 192.3L887.7 192.3L895.3 190.1L896.4 190L905.3 187.4L906.2 185.8L906.2 186.7L907.2 129.3L908 129.4L999.3 114.1L1002.5 119L1012 127.4L1016.8 135.7L1020 144L1024.1 149.8L1034.9 149.1L1038.4 154.9L1089.9 149.8L1099.4 164L1117.8 161.9L1129.6 178.9L1187.5 173.3L1192.5 170.3L1241 170.5L1241 173.8L1192.5 175L1187.5 178L1129.6 182.7L1117.8 165.7L1099.4 167.9L1089.9 153.7L1038.4 158.5L1034.9 152.7L1024.1 153.3L1020 147.5L1016.8 139.1L1012 130.8L1002.5 122.5L999.3 117.6L908 130L907.2 130L906.2 187.3L906.2 188.4L905.3 189.8L896.4 192.3L895.3 192.3L887.7 194.4L886.7 194.4L873.4 198.6L872.4 198.6L859.5 201.4L851.9 204L836.5 208.6L832.9 208.7L824.8 210.4L818.2 215.7L805.3 220.5L803.8 214.9L803.5 214.7L801 214.9L794.5 216.3L790.6 221.2L780.8 225.8L779.8 214.3L775.7 215.8L775.2 214.1L774.6 214.1L774.3 226.5L769.1 227.7L767.6 227.8L765 228.8L763.8 228.9L760.5 230L760 230.3L759 231.6L753.8 234.8L753.1 234.9L752.1 236.1L743.8 240.4L743.2 237.6L743 237.2L740.3 238.2L738.3 242.4L738.2 242.9L736.9 250.7L735.4 266.9L735.3 267.2L734.8 267.6L732.9 269.8L732 274.6L731 269L728.8 271.7L728.2 269.5L727.5 270.7L721.9 274.8L714.8 282.3L713.4 290.9L711.3 291.7L710 284.7L707.6 285.1L707.2 284.6L706.2 284.6L696.7 287.4L694.3 275L692.4 274.6L692 272.5L691.4 272.5L683.4 274.9L681.8 267.2L681.5 266.8L676.8 267.4L657 274.6L656.5 271.6L656.2 271.2L646.7 274.6L644.8 268.1L642.9 268.4L642.8 267.6L642.5 267.4L632.9 270.7L632.5 268.6L630.5 268.7L623.9 270.6L619.1 271L581.9 279.9L579.5 281.2L564.6 285.1L563.8 278.3L560.3 278.5L548.4 280.3L547.8 277L538.1 278.4L537.2 273.6L532.7 274.1L530.3 256.9L528.9 255L528.2 250.4L528 249.8L520.8 250.3L519.8 240.3L519.5 239.9L512.2 240.5L502.7 241.7L480.3 243.3L477.9 243.7L460.2 245.6L459.8 242.1L453.4 242.9L452.2 236.8L448.7 237.2L448 233.2L441.5 233.9L440.5 223.2L440.2 223L432 223.9L431 214.5L425.8 214.7L416.3 215.9L401.5 218.6L400.5 212.9L399.1 212.9L392 213.8L390.5 213.9L383.9 214.9L378.1 215.2L344.8 221.1L344.2 216.5L327.2 217.4L326.5 212.8L320.6 213.1L320.5 212.4L320.2 212.2L316.3 212.3L307.2 212.8L286.2 213.6L277.2 214.3L249.5 215.5L218.4 217.2L203.2 218.3L183.2 220.3L179.8 220.4L175.1 220.9L163.6 221.6L162.7 222L145.3 223.1L136.7 224L127.4 224.3L119 225L119 225.3L112 225.6L108.9 224.1L82.3 190.1L28 191.5Z" fill="#e0e000" fill-opacity="0.66"/>
<path d="M28 177.6L82.3 175.1L108.9 208.1L112 209.5L119 209L119 208.5L127.4 207.8L136.7 207.5L145.3 206.6L162.7 205.5L163.6 205.1L175.1 204.4L179.8 203.9L183 203.8L183.2 204.6L203.2 202.4L226.1 200.5L230.3 200.5L249.5 198.5L273.4 196.8L276.5 196.7L277.2 208.4L286.2 207.1L302 206L307 205.9L307.2 206L317 205.1L317.2 206.5L319.6 206.4L320.6 213.1L326.5 212.6L327.2 217.4L344.2 215.9L344.8 221.1L378.1 214.5L383.9 214.2L390.5 213L392 213L399.1 212L400.2 212L401.5 218.6L416.3 215.5L425.8 214.2L431 214L432 223.9L440.2 222.9L440.5 223.2L441.5 233.9L448 233.1L448.7 237.2L452.2 236.8L453.4 242.9L459.8 242.1L460.2 245.6L477.9 243.6L480.3 243.1L502.7 241.5L512.2 240.2L519.5 239.6L519.8 240.3L520.8 250.3L528 249.8L528.2 250.4L528.9 255L530.3 256.9L532.7 274.1L537.2 273.6L538.1 278.4L547.5 276.9L547.8 277L548.4 280.3L560.3 278.3L561.5 278.3L561.6 278.4L563.7 278.2L564.6 285.1L579.5 281L581.9 279.5L619.1 270.2L623.9 269.8L630.5 267.7L632.2 267.6L632.9 270.7L642 267.3L642.5 267.3L642.8 267.6L642.9 268.4L644.8 268.1L646.7 274.6L656.2 271.1L656.5 271.6L657 274.6L676.8 267.1L681.5 266.5L683.4 274.9L691.8 272.4L692 272.5L692.4 274.6L694.3 275L696.7 287.4L706.2 284.4L707.2 284.4L707.6 285.1L710 284.6L711.3 291.7L713.4 290.9L714.8 282.2L721.9 274.6L727.5 270.5L728.2 269.3L728.8 271.7L731 268.9L732 274.6L732.9 269.8L734.8 267.5L735.3 267.2L735.4 266.7L736.9 250.5L738.2 242.7L738.3 242.1L740.3 237.9L743 236.8L743.8 240.4L752.1 235.7L753.1 234.5L753.8 234.4L759 230.8L760 229.5L760.5 229.1L763.8 228L765 227.9L767.6 226.7L769.1 226.6L774.3 225.4L774.6 212.8L775 212.8L775.7 215.8L779.8 214.1L780.8 225.8L790.6 220.8L794.5 215.8L801 214.2L803.5 214L805.3 220.5L818.2 215.2L824.8 209.4L832.9 207.5L836.5 207.4L851.9 202.5L859.5 199.7L872.4 196.7L873.4 196.7L886.7 192.3L887.7 192.3L895.3 190.1L896.4 190L905.3 187.4L906.2 185.8L906.2 186.7L907.2 129.3L908 129.4L999.3 114.1L1002.5 119L1012 127.4L1016.8 135.7L1020 144L1024.1 149.8L1034.9 149.1L1038.4 154.9L1089.9 149.8L1099.4 164L1117.8 161.9L1129.6 178.9L1187.5 173.3L1192.5 170.3L1241 170.5" fill="none" stroke="#e0e000" stroke-width="2" stroke-linejoin="round"/>
<path d="M28 170.9L82.3 167.9L108.9 200.4L112 201.8L119 201.1L119 200.5L127.4 199.8L136.7 199.4L145.3 198.5L162.7 197.4L163.6 196.9L175.1 196.2L179.8 195.6L181.5 195.6L181.7 197.4L183.2 204.6L200.8 201.2L203.2 200.6L218.4 198.3L226.1 197.3L230.2 197.2L230.3 197.4L249.5 194.5L273.4 192L276.2 192L276.5 194.1L277.2 208.4L286.2 206.5L302 204.9L307 204.8L307.2 206L316.8 204.7L317 205.1L317.2 206.5L319.6 206.4L320.6 213.1L326.5 212.5L327.2 217.4L344 215.2L344.2 215.9L344.8 221.1L378.1 213.8L383.9 213.4L390.5 212.1L392 212.1L399.1 211L400 211L400.2 211.4L401.5 218.6L416.3 215.2L425.8 213.8L430.8 213.6L431 214L432 223.9L440.2 222.8L440.5 223.2L441.5 233.9L448 233.1L448.7 237.2L452.2 236.8L453.4 242.9L459.8 242.1L460.2 245.6L477.9 243.4L480.3 243L502.7 241.3L512.2 239.9L519.5 239.2L519.8 240.3L520.8 250.3L528 249.7L528.2 250.4L528.9 255L530.3 256.9L532.7 274.1L537 273.5L537.2 273.6L538.1 278.4L547.5 276.8L547.8 277L548.4 280.3L560.3 278.1L561.5 278.1L561.6 278.4L563.7 278.2L564.6 285.1L579.5 280.7L581.9 279.2L619.1 269.4L623.9 268.9L630.5 266.8L632 266.7L632.2 267.2L632.9 270.7L642 267.2L642.5 267.1L642.9 268.4L644.8 268.1L646.7 274.6L655.8 270.9L656.2 270.9L657 274.6L676.8 266.8L681.5 266.2L683.4 274.9L691.8 272.2L692 272.5L692.4 274.6L694.3 275L696.7 287.4L706.2 284.3L707.2 284.2L707.6 285.1L710 284.6L711.3 291.7L713.4 290.9L714.8 282.1L721.9 274.4L727.5 270.2L728.2 269.1L728.8 271.7L731 268.9L732 274.6L732.9 269.7L734.8 267.5L735.3 267.1L736.9 250.3L738.2 242.5L739.6 238.9L740.3 237.6L743 236.5L743.8 240.4L752.1 235.3L753.1 234.1L753.8 234L759 230.1L760 228.7L760.5 228.3L763.8 227.1L765 227L767.6 225.7L769.1 225.6L774.3 224.3L774.6 211.5L774.8 211.4L775 212.2L775.7 215.8L779.8 214L780.8 225.8L790.6 220.3L794.5 215.3L801 213.6L803.2 213.4L805.3 220.5L818.2 214.8L824.8 208.3L832.9 206.3L836.2 206.1L836.5 206.7L851.9 201.6L859.5 198.7L872.4 195.5L873.4 195.5L886.7 190.9L887.7 190.8L895.3 188.5L896.4 188.5L905.3 185.7L906.2 184.1L906.2 186.3L907.2 128.9L908 129L999.3 112.2L1002.5 117.1L1012 125.2L1016.8 133.4L1020 141.7L1024.1 147.5L1034.9 146.6L1038.4 152.3L1089.9 146.2L1099.4 160.3L1117.8 157.8L1129.6 174.7L1187.5 169L1192.5 166L1237.2 166.2L1237.5 166.4L1238.4 168.9L1241 167.2L1241 170.5L1192.5 170.3L1187.5 173.3L1129.6 178.9L1117.8 161.9L1099.4 164L1089.9 149.8L1038.4 154.9L1034.9 149.1L1024.1 149.8L1020 144L1016.8 135.7L1012 127.4L1002.5 119L999.3 114.1L908 129.4L907.2 129.3L906.2 186.7L906.2 185.8L905.3 187.4L896.4 190L895.3 190.1L887.7 192.3L886.7 192.3L873.4 196.7L872.4 196.7L859.5 199.7L851.9 202.5L836.5 207.4L832.9 207.5L824.8 209.4L818.2 215.2L805.3 220.5L803.5 214L801 214.2L794.5 215.8L790.6 220.8L780.8 225.8L779.8 214.1L775.7 215.8L775 212.8L774.6 212.8L774.3 225.4L769.1 226.6L767.6 226.7L765 227.9L763.8 228L760.5 229.1L760 229.5L759 230.8L753.8 234.4L753.1 234.5L752.1 235.7L743.8 240.4L743 236.8L740.3 237.9L738.3 242.1L738.2 242.7L736.9 250.5L735.4 266.7L735.3 267.2L734.8 267.5L732.9 269.8L732 274.6L731 268.9L728.8 271.7L728.2 269.3L727.5 270.5L721.9 274.6L714.8 282.2L713.4 290.9L711.3 291.7L710 284.6L707.6 285.1L707.2 284.4L706.2 284.4L696.7 287.4L694.3 275L692.4 274.6L692 272.5L691.8 272.4L683.4 274.9L681.5 266.5L676.8 267.1L657 274.6L656.5 271.6L656.2 271.1L646.7 274.6L644.8 268.1L642.9 268.4L642.8 267.6L642.5 267.3L642 267.3L632.9 270.7L632.2 267.6L630.5 267.7L623.9 269.8L619.1 270.2L581.9 279.5L579.5 281L564.6 285.1L563.7 278.2L561.6 278.4L561.5 278.3L560.3 278.3L548.4 280.3L547.8 277L547.5 276.9L538.1 278.4L537.2 273.6L532.7 274.1L530.3 256.9L528.9 255L528.2 250.4L528 249.8L520.8 250.3L519.8 240.3L519.5 239.6L512.2 240.2L502.7 241.5L480.3 243.1L477.9 243.6L460.2 245.6L459.8 242.1L453.4 242.9L452.2 236.8L448.7 237.2L448 233.1L441.5 233.9L440.5 223.2L440.2 222.9L432 223.9L431 214L425.8 214.2L416.3 215.5L401.5 218.6L400.2 212L399.1 212L392 213L390.5 213L383.9 214.2L378.1 214.5L344.8 221.1L344.2 215.9L327.2 217.4L326.5 212.6L320.6 213.1L319.6 206.4L317.2 206.5L317 205.1L307.2 206L307 205.9L302 206L286.2 207.1L277.2 208.4L276.5 196.7L273.4 196.8L249.5 198.5L230.3 200.5L226.1 200.5L203.2 202.4L183.2 204.6L183 203.8L179.8 203.9L175.1 204.4L163.6 205.1L162.7 205.5L145.3 206.6L136.7 207.5L127.4 207.8L119 208.5L119 209L112 209.5L108.9 208.1L82.3 175.1L28 177.6Z" fill="#e0e030" fill-opacity="0.66"/>
<path d="M28 170.9L82.3 167.9L108.9 200.4L112 201.8L119 201.1L119 200.5L127.4 199.8L136.7 199.4L145.3 198.5L162.7 197.4L163.6 196.9L175.1 196.2L179.8 195.6L181.5 195.6L181.7 197.4L183.2 204.6L200.8 201.2L203.2 200.6L218.4 198.3L226.1 197.3L230.2 197.2L230.3 197.4L249.5 194.5L273.4 192L276.2 192L276.5 194.1L277.2 208.4L286.2 206.5L302 204.9L307 204.8L307.2 206L316.8 204.7L317 205.1L317.2 206.5L319.6 206.4L320.6 213.1L326.5 212.5L327.2 217.4L344 215.2L344.2 215.9L344.8 221.1L378.1 213.8L383.9 213.4L390.5 212.1L392 212.1L399.1 211L400 211L400.2 211.4L401.5 218.6L416.3 215.2L425.8 213.8L430.8 213.6L431 214L432 223.9L440.2 222.8L440.5 223.2L441.5 233.9L448 233.1L448.7 237.2L452.2 236.8L453.4 242.9L459.8 242.1L460.2 245.6L477.9 243.4L480.3 243L502.7 241.3L512.2 239.9L519.5 239.2L519.8 240.3L520.8 250.3L528 249.7L528.2 250.4L528.9 255L530.3 256.9L532.7 274.1L537 273.5L537.2 273.6L538.1 278.4L547.5 276.8L547.8 277L548.4 280.3L560.3 278.1L561.5 278.1L561.6 278.4L563.7 278.2L564.6 285.1L579.5 280.7L581.9 279.2L619.1 269.4L623.9 268.9L630.5 266.8L632 266.7L632.2 267.2L632.9 270.7L642 267.2L642.5 267.1L642.9 268.4L644.8 268.1L646.7 274.6L655.8 270.9L656.2 270.9L657 274.6L676.8 266.8L681.5 266.2L683.4 274.9L691.8 272.2L692 272.5L692.4 274.6L694.3 275L696.7 287.4L706.2 284.3L707.2 284.2L707.6 285.1L710 284.6L711.3 291.7L713.4 290.9L714.8 282.1L721.9 274.4L727.5 270.2L728.2 269.1L728.8 271.7L731 268.9L732 274.6L732.9 269.7L734.8 267.5L735.3 267.1L736.9 250.3L738.2 242.5L739.6 238.9L740.3 237.6L743 236.5L743.8 240.4L752.1 235.3L753.1 234.1L753.8 234L759 230.1L760 228.7L760.5 228.3L763.8 227.1L765 227L767.6 225.7L769.1 225.6L774.3 224.3L774.6 211.5L774.8 211.4L775 212.2L775.7 215.8L779.8 214L780.8 225.8L790.6 220.3L794.5 215.3L801 213.6L803.2 213.4L805.3 220.5L818.2 214.8L824.8 208.3L832.9 206.3L836.2 206.1L836.5 206.7L851.9 201.6L859.5 198.7L872.4 195.5L873.4 195.5L886.7 190.9L887.7 190.8L895.3 188.5L896.4 188.5L905.3 185.7L906.2 184.1L906.2 186.3L907.2 128.9L908 129L999.3 112.2L1002.5 117.1L1012 125.2L1016.8 133.4L1020 141.7L1024.1 147.5L1034.9 146.6L1038.4 152.3L1089.9 146.2L1099.4 160.3L1117.8 157.8L1129.6 174.7L1187.5 169L1192.5 166L1237.2 166.2L1237.5 166.4L1238.4 168.9L1241 167.2" fill="none" stroke="#e0e030" stroke-width="2" stroke-linejoin="round"/>
<path d="M28 163.9L82.3 160.3L108.9 192.4L112 193.7L119 192.9L119 192.2L127.4 191.2L130.7 191.2L135 190.8L135.2 190.8L136.7 195.5L145.3 194.2L162.7 192.6L163.6 191.9L173.3 191L175.1 191L179.8 190.1L180.8 190.1L181.7 197.4L183.2 204.6L200.8 199.5L203.2 198.6L218.4 195.2L219.4 195.2L226.1 193.8L229.8 193.8L230.3 197.4L249.5 193.5L250.5 193.5L273.4 190.1L276.2 190.1L277.2 208.4L286.2 205.8L302 203.7L306.8 203.5L307.2 206L316.8 204.2L317.2 206.5L319.6 206.4L320.6 213.1L326.5 212.2L327.2 217.4L344 214.5L344.8 221.1L378.1 213.1L383.9 212.7L390.5 211.3L392 211.2L399.1 210.1L400 210L401.5 218.6L416.3 214.9L425.8 213.3L430.8 213.1L431 214L432 223.9L440.2 222.8L440.5 223.2L441.5 233.9L448 233L448.7 237.2L452.2 236.8L453.4 242.9L459.5 241.9L459.8 242.1L460.2 245.6L477.9 243.3L480.3 242.8L502.7 241L512.2 239.6L519.5 238.9L520.8 250.3L528 249.7L528.2 250.4L528.9 255L530.3 256.9L532.7 274.1L537 273.5L537.2 273.6L538.1 278.4L547.5 276.7L547.8 277L548.4 280.3L560.3 277.9L561.5 278L561.6 278.4L563.7 278.2L564.6 285.1L579.5 280.5L581.9 278.9L619.1 268.5L623.9 268.1L630.5 265.8L631.8 265.7L632 265.9L632.9 270.7L642 267L642.5 267L642.9 268.4L644.8 268.1L646.7 274.6L655.8 270.8L656.2 270.7L657 274.6L676.8 266.5L681.2 265.9L681.5 266L683.4 274.9L691.8 272.1L692 272.5L692.4 274.6L694.3 275L696.7 287.4L706.2 284.1L707.2 284.1L707.6 285.1L710 284.6L711.3 291.7L713.4 290.9L714.8 282L721.9 274.3L727.5 270L728.2 269.1L728.8 271.7L731 268.9L732 274.6L732.9 269.7L734.8 267.4L735.3 267L736.9 250.1L738.2 242.2L739.6 238.6L740.3 237.3L742.4 236.3L743 236.3L743.8 240.4L752.1 234.9L753.1 233.6L753.8 233.6L759 229.3L760 227.9L760.5 227.5L763.8 226.1L765 226.1L767.6 224.7L769 224.6L769.1 224.8L774.3 223.4L774.6 210.3L775.7 215.8L779.8 213.8L780.8 225.8L790.6 219.8L794.5 214.8L801 213L803 212.8L803.2 213.1L805.3 220.5L818.2 214.3L824.8 207.3L832.9 205.1L836.2 205L836.5 206.7L851.9 201.4L859.5 198.3L872.4 195L873.4 195L886.7 190.2L887.7 190.1L895.3 187.7L896.4 187.7L905.3 184.8L906.2 183.1L906.2 186L907.2 128.7L908 128.8L999.3 110.5L1002.5 115.2L1012 123L1016.8 131.1L1020 139.2L1024.1 144.8L1034.9 143.6L1038.4 149.2L1089.9 141.8L1099.4 155.6L1117.8 152.5L1129.6 169L1187.5 163.3L1192.5 160.3L1207 160.4L1209.2 161.9L1209.4 162.7L1209.8 162.3L1210 162.4L1215 165.8L1231 162.7L1236 161.5L1236.5 163.6L1238.4 168.9L1241 167.2L1241 167.2L1238.4 168.9L1237.5 166.4L1237.2 166.2L1192.5 166L1187.5 169L1129.6 174.7L1117.8 157.8L1099.4 160.3L1089.9 146.2L1038.4 152.3L1034.9 146.6L1024.1 147.5L1020 141.7L1016.8 133.4L1012 125.2L1002.5 117.1L999.3 112.2L908 129L907.2 128.9L906.2 186.3L906.2 184.1L905.3 185.7L896.4 188.5L895.3 188.5L887.7 190.8L886.7 190.9L873.4 195.5L872.4 195.5L859.5 198.7L851.9 201.6L836.5 206.7L836.2 206.1L832.9 206.3L824.8 208.3L818.2 214.8L805.3 220.5L803.2 213.4L801 213.6L794.5 215.3L790.6 220.3L780.8 225.8L779.8 214L775.7 215.8L775 212.2L774.8 211.4L774.6 211.5L774.3 224.3L769.1 225.6L767.6 225.7L765 227L763.8 227.1L760.5 228.3L760 228.7L759 230.1L753.8 234L753.1 234.1L752.1 235.3L743.8 240.4L743 236.5L740.3 237.6L739.6 238.9L738.2 242.5L736.9 250.3L735.3 267.1L734.8 267.5L732.9 269.7L732 274.6L731 268.9L728.8 271.7L728.2 269.1L727.5 270.2L721.9 274.4L714.8 282.1L713.4 290.9L711.3 291.7L710 284.6L707.6 285.1L707.2 284.2L706.2 284.3L696.7 287.4L694.3 275L692.4 274.6L692 272.5L691.8 272.2L683.4 274.9L681.5 266.2L676.8 266.8L657 274.6L656.2 270.9L655.8 270.9L646.7 274.6L644.8 268.1L642.9 268.4L642.5 267.1L642 267.2L632.9 270.7L632.2 267.2L632 266.7L630.5 266.8L623.9 268.9L619.1 269.4L581.9 279.2L579.5 280.7L564.6 285.1L563.7 278.2L561.6 278.4L561.5 278.1L560.3 278.1L548.4 280.3L547.8 277L547.5 276.8L538.1 278.4L537.2 273.6L537 273.5L532.7 274.1L530.3 256.9L528.9 255L528.2 250.4L528 249.7L520.8 250.3L519.8 240.3L519.5 239.2L512.2 239.9L502.7 241.3L480.3 243L477.9 243.4L460.2 245.6L459.8 242.1L453.4 242.9L452.2 236.8L448.7 237.2L448 233.1L441.5 233.9L440.5 223.2L440.2 222.8L432 223.9L431 214L430.8 213.6L425.8 213.8L416.3 215.2L401.5 218.6L400.2 211.4L400 211L399.1 211L392 212.1L390.5 212.1L383.9 213.4L378.1 213.8L344.8 221.1L344.2 215.9L344 215.2L327.2 217.4L326.5 212.5L320.6 213.1L319.6 206.4L317.2 206.5L317 205.1L316.8 204.7L307.2 206L307 204.8L302 204.9L286.2 206.5L277.2 208.4L276.5 194.1L276.2 192L273.4 192L249.5 194.5L230.3 197.4L230.2 197.2L226.1 197.3L218.4 198.3L203.2 200.6L200.8 201.2L183.2 204.6L181.7 197.4L181.5 195.6L179.8 195.6L175.1 196.2L163.6 196.9L162.7 197.4L145.3 198.5L136.7 199.4L127.4 199.8L119 200.5L119 201.1L112 201.8L108.9 200.4L82.3 167.9L28 170.9Z" fill="#e0e060" fill-opacity="0.66"/>
<path d="M28 163.9L82.3 160.3L108.9 192.4L112 193.7L119 192.9L119 192.2L127.4 191.2L130.7 191.2L135 190.8L135.2 190.8L136.7 195.5L145.3 194.2L162.7 192.6L163.6 191.9L173.3 191L175.1 191L179.8 190.1L180.8 190.1L181.7 197.4L183.2 204.6L200.8 199.5L203.2 198.6L218.4 195.2L219.4 195.2L226.1 193.8L229.8 193.8L230.3 197.4L249.5 193.5L250.5 193.5L273.4 190.1L276.2 190.1L277.2 208.4L286.2 205.8L302 203.7L306.8 203.5L307.2 206L316.8 204.2L317.2 206.5L319.6 206.4L320.6 213.1L326.5 212.2L327.2 217.4L344 214.5L344.8 221.1L378.1 213.1L383.9 212.7L390.5 211.3L392 211.2L399.1 210.1L400 210L401.5 218.6L416.3 214.9L425.8 213.3L430.8 213.1L431 214L432 223.9L440.2 222.8L440.5 223.2L441.5 233.9L448 233L448.7 237.2L452.2 236.8L453.4 242.9L459.5 241.9L459.8 242.1L460.2 245.6L477.9 243.3L480.3 242.8L502.7 241L512.2 239.6L519.5 238.9L520.8 250.3L528 249.7L528.2 250.4L528.9 255L530.3 256.9L532.7 274.1L537 273.5L537.2 273.6L538.1 278.4L547.5 276.7L547.8 277L548.4 280.3L560.3 277.9L561.5 278L561.6 278.4L563.7 278.2L564.6 285.1L579.5 280.5L581.9 278.9L619.1 268.5L623.9 268.1L630.5 265.8L631.8 265.7L632 265.9L632.9 270.7L642 267L642.5 267L642.9 268.4L644.8 268.1L646.7 274.6L655.8 270.8L656.2 270.7L657 274.6L676.8 266.5L681.2 265.9L681.5 266L683.4 274.9L691.8 272.1L692 272.5L692.4 274.6L694.3 275L696.7 287.4L706.2 284.1L707.2 284.1L707.6 285.1L710 284.6L711.3 291.7L713.4 290.9L714.8 282L721.9 274.3L727.5 270L728.2 269.1L728.8 271.7L731 268.9L732 274.6L732.9 269.7L734.8 267.4L735.3 267L736.9 250.1L738.2 242.2L739.6 238.6L740.3 237.3L742.4 236.3L743 236.3L743.8 240.4L752.1 234.9L753.1 233.6L753.8 233.6L759 229.3L760 227.9L760.5 227.5L763.8 226.1L765 226.1L767.6 224.7L769 224.6L769.1 224.8L774.3 223.4L774.6 210.3L775.7 215.8L779.8 213.8L780.8 225.8L790.6 219.8L794.5 214.8L801 213L803 212.8L803.2 213.1L805.3 220.5L818.2 214.3L824.8 207.3L832.9 205.1L836.2 205L836.5 206.7L851.9 201.4L859.5 198.3L872.4 195L873.4 195L886.7 190.2L887.7 190.1L895.3 187.7L896.4 187.7L905.3 184.8L906.2 183.1L906.2 186L907.2 128.7L908 128.8L999.3 110.5L1002.5 115.2L1012 123L1016.8 131.1L1020 139.2L1024.1 144.8L1034.9 143.6L1038.4 149.2L1089.9 141.8L1099.4 155.6L1117.8 152.5L1129.6 169L1187.5 163.3L1192.5 160.3L1207 160.4L1209.2 161.9L1209.4 162.7L1209.8 162.3L1210 162.4L1215 165.8L1231 162.7L1236 161.5L1236.5 163.6L1238.4 168.9L1241 167.2" fill="none" stroke="#e0e060" stroke-width="2" stroke-linejoin="round"/>
<path d="M28 140.3L82.3 133.4L108.9 165.4L112 166.7L118.8 168.8L119 182.7L127.4 181.5L129.5 181.4L129.8 182.4L130.7 191.2L134.5 190.7L135.2 190.8L136.7 195.5L145.3 193.9L155.5 192.9L156.5 192.9L156.7 193.1L162.7 192.4L163.6 191.5L168.9 191.1L173.3 190.5L175.1 190.4L179.8 189.4L180.8 189.4L181.7 197.4L183.2 204.6L200.8 199.3L203.2 198.3L218.4 194.8L219.4 194.8L226.1 193.4L229.8 193.3L230.3 197.4L249.5 193.3L250.5 193.3L273.4 189.7L276.2 189.6L277.2 208.4L286.2 205.6L302 203.3L306.8 203.2L307.2 206L316.8 204.1L317.2 206.5L319.6 206.4L320.6 213.1L326.5 212.2L327.2 217.4L344 214.3L344.8 221.1L378.1 212.7L383.9 212.2L390.5 210.7L392 210.7L399.1 209.5L399.8 209.4L400 210L401.5 218.6L416.3 214.7L425.8 213L430.8 212.8L432 223.9L440.2 222.7L440.5 223.2L441.5 233.9L448 232.9L448.7 237.2L452.2 236.7L453.4 242.9L459.5 241.8L459.8 242.1L460.2 245.6L477.9 243.1L480.3 242.5L502.7 240.6L512.2 238.9L519.5 238.2L520.8 250.3L528 249.7L528.2 250.4L528.9 255L530.3 256.9L532.7 274.1L537 273.4L537.2 273.6L538.1 278.4L547.5 276.5L547.8 277L548.4 280.3L560.3 277.8L561.2 277.8L561.6 278.4L563.7 278.2L564.6 285.1L579.5 280.3L581.9 278.7L619.1 268L623.9 267.5L630.5 265.2L631.8 265.1L632.9 270.7L642 266.9L642.5 266.9L642.9 268.4L644.8 268.1L646.7 274.6L655.8 270.7L656.2 270.6L657 274.6L676.8 266.3L681.2 265.7L681.5 266L683.4 274.9L691.8 272L692 272.5L692.4 274.6L694.3 275L696.7 287.4L706.2 284L707.2 284L707.6 285.1L710 284.6L711.3 291.7L713.4 290.9L714.8 281.9L721.9 274.2L727.5 269.9L728 269.1L728.2 269.1L728.8 271.7L731 268.9L732 274.6L732.9 269.7L734.8 267.4L735.3 267L736.9 250L738.2 242.1L739.6 238.4L740.3 237.2L742.8 236L743 236.3L743.8 240.4L752.1 234.6L753.1 233.4L753.8 233.3L759 228.9L760 227.5L760.5 227L763.8 225.6L765 225.5L767.6 224.1L768.8 224L769.1 224.8L774.3 223.3L774.6 210.2L775.7 215.8L779.8 213.7L780.8 225.8L790.6 219.6L794.5 214.5L801 212.6L803 212.4L805.3 220.5L818.2 214.2L824.8 207.1L832.9 204.8L835.8 204.7L836.2 204.6L836.5 206.7L851.9 201.1L859.5 197.9L872.4 194.5L873.4 194.5L886.7 189.5L887.7 189.4L895.3 186.9L896.4 186.9L905.3 183.8L906.2 182.1L906.2 185.4L907.2 128.1L908 128.2L923 124.4L940 121.7L966.8 115.1L998.5 106L999.3 105.9L1002.5 110.6L1012 118.1L1016.8 126.1L1020 134.1L1024.1 139.6L1034.9 137.6L1038.4 143.4L1040 143.3L1089.9 132.8L1099.4 147L1117.8 143L1129.6 159.4L1160 155L1181 152.6L1187.5 151.6L1192.5 148.2L1203.5 148.1L1204.1 151.2L1206 150.3L1207 156L1208 156L1208.2 156.6L1209 161.7L1209.2 161.9L1209.4 162.7L1209.8 162.3L1210 162.4L1215 165.8L1231.3 161.6L1232.2 161.9L1235.1 161.1L1236 161.4L1236.5 163.6L1238.4 168.9L1241 167.2L1241 167.2L1238.4 168.9L1236.5 163.6L1236 161.5L1231 162.7L1215 165.8L1210 162.4L1209.8 162.3L1209.4 162.7L1209.2 161.9L1207 160.4L1192.5 160.3L1187.5 163.3L1129.6 169L1117.8 152.5L1099.4 155.6L1089.9 141.8L1038.4 149.2L1034.9 143.6L1024.1 144.8L1020 139.2L1016.8 131.1L1012 123L1002.5 115.2L999.3 110.5L908 128.8L907.2 128.7L906.2 186L906.2 183.1L905.3 184.8L896.4 187.7L895.3 187.7L887.7 190.1L886.7 190.2L873.4 195L872.4 195L859.5 198.3L851.9 201.4L836.5 206.7L836.2 205L832.9 205.1L824.8 207.3L818.2 214.3L805.3 220.5L803.2 213.1L803 212.8L801 213L794.5 214.8L790.6 219.8L780.8 225.8L779.8 213.8L775.7 215.8L774.6 210.3L774.3 223.4L769.1 224.8L769 224.6L767.6 224.7L765 226.1L763.8 226.1L760.5 227.5L760 227.9L759 229.3L753.8 233.6L753.1 233.6L752.1 234.9L743.8 240.4L743 236.3L742.4 236.3L740.3 237.3L739.6 238.6L738.2 242.2L736.9 250.1L735.3 267L734.8 267.4L732.9 269.7L732 274.6L731 268.9L728.8 271.7L728.2 269.1L727.5 270L721.9 274.3L714.8 282L713.4 290.9L711.3 291.7L710 284.6L707.6 285.1L707.2 284.1L706.2 284.1L696.7 287.4L694.3 275L692.4 274.6L692 272.5L691.8 272.1L683.4 274.9L681.5 266L681.2 265.9L676.8 266.5L657 274.6L656.2 270.7L655.8 270.8L646.7 274.6L644.8 268.1L642.9 268.4L642.5 267L642 267L632.9 270.7L632 265.9L631.8 265.7L630.5 265.8L623.9 268.1L619.1 268.5L581.9 278.9L579.5 280.5L564.6 285.1L563.7 278.2L561.6 278.4L561.5 278L560.3 277.9L548.4 280.3L547.8 277L547.5 276.7L538.1 278.4L537.2 273.6L537 273.5L532.7 274.1L530.3 256.9L528.9 255L528.2 250.4L528 249.7L520.8 250.3L519.5 238.9L512.2 239.6L502.7 241L480.3 242.8L477.9 243.3L460.2 245.6L459.8 242.1L459.5 241.9L453.4 242.9L452.2 236.8L448.7 237.2L448 233L441.5 233.9L440.5 223.2L440.2 222.8L432 223.9L431 214L430.8 213.1L425.8 213.3L416.3 214.9L401.5 218.6L400 210L399.1 210.1L392 211.2L390.5 211.3L383.9 212.7L378.1 213.1L344.8 221.1L344 214.5L327.2 217.4L326.5 212.2L320.6 213.1L319.6 206.4L317.2 206.5L316.8 204.2L307.2 206L306.8 203.5L302 203.7L286.2 205.8L277.2 208.4L276.2 190.1L273.4 190.1L250.5 193.5L249.5 193.5L230.3 197.4L229.8 193.8L226.1 193.8L219.4 195.2L218.4 195.2L203.2 198.6L200.8 199.5L183.2 204.6L181.7 197.4L180.8 190.1L179.8 190.1L175.1 191L173.3 191L163.6 191.9L162.7 192.6L145.3 194.2L136.7 195.5L135.2 190.8L135 190.8L130.7 191.2L127.4 191.2L119 192.2L119 192.9L112 193.7L108.9 192.4L82.3 160.3L28 163.9Z" fill="#800000" fill-opacity="0.66"/>
<path d="M28 140.3L82.3 133.4L108.9 165.4L112 166.7L118.8 168.8L119 182.7L127.4 181.5L129.5 181.4L129.8 182.4L130.7 191.2L134.5 190.7L135.2 190.8L136.7 195.5L145.3 193.9L155.5 192.9L156.5 192.9L156.7 193.1L162.7 192.4L163.6 191.5L168.9 191.1L173.3 190.5L175.1 190.4L179.8 189.4L180.8 189.4L181.7 197.4L183.2 204.6L200.8 199.3L203.2 198.3L218.4 194.8L219.4 194.8L226.1 193.4L229.8 193.3L230.3 197.4L249.5 193.3L250.5 193.3L273.4 189.7L276.2 189.6L277.2 208.4L286.2 205.6L302 203.3L306.8 203.2L307.2 206L316.8 204.1L317.2 206.5L319.6 206.4L320.6 213.1L326.5 212.2L327.2 217.4L344 214.3L344.8 221.1L378.1 212.7L383.9 212.2L390.5 210.7L392 210.7L399.1 209.5L399.8 209.4L400 210L401.5 218.6L416.3 214.7L425.8 213L430.8 212.8L432 223.9L440.2 222.7L440.5 223.2L441.5 233.9L448 232.9L448.7 237.2L452.2 236.7L453.4 242.9L459.5 241.8L459.8 242.1L460.2 245.6L477.9 243.1L480.3 242.5L502.7 240.6L512.2 238.9L519.5 238.2L520.8 250.3L528 249.7L528.2 250.4L528.9 255L530.3 256.9L532.7 274.1L537 273.4L537.2 273.6L538.1 278.4L547.5 276.5L547.8 277L548.4 280.3L560.3 277.8L561.2 277.8L561.6 278.4L563.7 278.2L564.6 285.1L579.5 280.3L581.9 278.7L619.1 268L623.9 267.5L630.5 265.2L631.8 265.1L632.9 270.7L642 266.9L642.5 266.9L642.9 268.4L644.8 268.1L646.7 274.6L655.8 270.7L656.2 270.6L657 274.6L676.8 266.3L681.2 265.7L681.5 266L683.4 274.9L691.8 272L692 272.5L692.4 274.6L694.3 275L696.7 287.4L706.2 284L707.2 284L707.6 285.1L710 284.6L711.3 291.7L713.4 290.9L714.8 281.9L721.9 274.2L727.5 269.9L728 269.1L728.2 269.1L728.8 271.7L731 268.9L732 274.6L732.9 269.7L734.8 267.4L735.3 267L736.9 250L738.2 242.1L739.6 238.4L740.3 237.2L742.8 236L743 236.3L743.8 240.4L752.1 234.6L753.1 233.4L753.8 233.3L759 228.9L760 227.5L760.5 227L763.8 225.6L765 225.5L767.6 224.1L768.8 224L769.1 224.8L774.3 223.3L774.6 210.2L775.7 215.8L779.8 213.7L780.8 225.8L790.6 219.6L794.5 214.5L801 212.6L803 212.4L805.3 220.5L818.2 214.2L824.8 207.1L832.9 204.8L835.8 204.7L836.2 204.6L836.5 206.7L851.9 201.1L859.5 197.9L872.4 194.5L873.4 194.5L886.7 189.5L887.7 189.4L895.3 186.9L896.4 186.9L905.3 183.8L906.2 182.1L906.2 185.4L907.2 128.1L908 128.2L923 124.4L940 121.7L966.8 115.1L998.5 106L999.3 105.9L1002.5 110.6L1012 118.1L1016.8 126.1L1020 134.1L1024.1 139.6L1034.9 137.6L1038.4 143.4L1040 143.3L1089.9 132.8L1099.4 147L1117.8 143L1129.6 159.4L1160 155L1181 152.6L1187.5 151.6L1192.5 148.2L1203.5 148.1L1204.1 151.2L1206 150.3L1207 156L1208 156L1208.2 156.6L1209 161.7L1209.2 161.9L1209.4 162.7L1209.8 162.3L1210 162.4L1215 165.8L1231.3 161.6L1232.2 161.9L1235.1 161.1L1236 161.4L1236.5 163.6L1238.4 168.9L1241 167.2" fill="none" stroke="#800000" stroke-width="2" stroke-linejoin="round"/>
<path d="M28 130.4L29.9 128.9L30.6 135.6L32.1 133.4L33.9 132.5L53.6 126L61.5 123.2L63.5 129.7L65 133.3L82.7 121.2L97.1 134.1L111.5 148.7L112.7 155.2L115.5 154.5L116.3 160.4L118.4 163.6L119 167.4L119 181.2L127.4 176.5L128.8 176.5L129.3 178.3L130.7 191.2L134.8 189.5L136.7 195.5L145.3 189.8L146 189.8L146.5 192.2L155.5 188.5L155.8 188.5L156 189.1L156.7 193.1L162.7 190.5L163.6 187.3L167.7 185.7L168.5 185.7L168.9 186.9L173.5 184.7L173.8 185.1L175.1 190.3L179.8 186.4L180.2 186.4L180.8 189.3L181.7 197.4L183.2 204.6L200.8 195.7L203.2 194L218.4 188.2L219.2 188.1L219.4 188.4L226.1 185.9L226.5 186.4L227.5 190L229.4 190.7L230.3 197.4L249.5 188.7L250 188.7L250.5 192.6L273.8 185.1L274 185.5L274.3 187.4L276.2 187.9L277.2 208.4L286.2 202.5L302 197.7L302.5 197.7L302.8 197.8L302.9 198.8L306.3 198.5L307.2 206L316.5 201.9L317.2 206.5L319.6 206.3L320.6 213.1L326.3 211.2L327.2 217.4L343.5 210.9L343.8 211.2L344.8 221.1L349.5 218.7L378.1 205.1L382.9 204.4L383.8 204.4L383.9 204.8L390.5 202L390.8 202L392 208.1L399.2 205.7L401.5 218.6L416.3 211.1L425.8 208.1L426.5 208.1L426.8 208.3L427.2 210.5L430.6 210.1L432 223.9L440.2 220.6L441.5 233.9L447.8 231.4L448.7 237.2L452 236L453.4 242.9L459.5 240.1L460.2 245.6L477.9 239L480.3 237.5L498.4 233.4L499.2 233.4L499.3 233.6L501.5 232.9L502.7 239.3L512.2 235L512.5 234.9L512.8 235.7L513.3 238.8L519.3 237L520.8 250.3L528 248.7L528.9 255L530.3 256.9L532.7 274.1L537 272.8L538.1 278.4L547.2 274.8L548.4 280.3L560.3 275.3L560.8 275.3L561.6 278.4L563.7 278L564.6 285.1L579.5 277.7L581.9 275.2L619.1 258.7L620 258.7L623.2 258L623.9 262.6L630.5 259L630.8 259.2L632.9 270.7L642.2 265.1L642.9 268.4L644.8 268L646.7 274.6L656 268.9L657 274.6L676.8 262.8L677.5 262.7L677.8 263.1L678.2 264.6L681.1 264.1L683.4 274.9L691.5 270.6L692.4 274.6L694.3 275L696.7 287.4L706.2 282.3L706.5 282.3L706.8 282.5L707.6 285.1L710 284.3L711.3 291.7L713.4 290.9L714.8 281L721.9 272.8L727.5 268.2L727.8 267.8L728 267.9L728.8 271.7L731 268.6L732 274.6L732.9 269.5L735.3 266.5L736.5 252.2L738.2 240.9L739.6 236.6L740.3 235.3L742.5 233.7L743.8 240.4L753.1 229.3L753.2 229.3L753.8 232.9L760.5 222.6L763.8 220.1L764.5 220.1L764.8 220.3L765 221.5L767.8 219L769.1 224.8L774.3 222.3L774.6 210.1L775.7 215.8L779.6 212.3L780.8 225.8L790.6 214.9L794.5 209.4L801 206.3L801.8 206.3L802.4 210L805.3 220.5L818.2 212.2L824.8 202.5L832.9 199.4L834 199.4L834.4 200.5L835.8 200.3L836.5 206.7L851.9 197L859.5 191.4L872.4 185.7L873.2 185.6L873.4 185.8L886.7 177.1L887 177.1L887.2 177.8L887.7 181L895.5 176.7L896.4 182.9L905.3 177.7L906.2 174.6L907.2 127.6L921.2 119.7L921.5 119.8L922.4 124.6L938.1 110.3L940 99.2L949.1 93.4L950.3 100L963.9 87.6L965.6 101.3L973.4 93.8L974.8 100L976 99.6L984.8 91.2L998.7 87.4L1001 89.3L1008.8 93.6L1014.4 98.4L1019.5 108.9L1023.8 114.9L1035.3 111.7L1038 116.8L1038.2 117L1071 107.4L1073 112.2L1089.6 106.5L1099 120.2L1099.2 120.3L1118.2 116.6L1125 125.5L1128.8 131.6L1159.2 126L1159.8 123L1160 122.3L1160.3 122.2L1161.2 128.4L1163.1 127.4L1164.1 133.6L1166 132.7L1167.4 139.3L1168.4 138.9L1169.3 144.6L1177 139.3L1177.9 144.6L1179.8 144.1L1181.5 152.3L1187.5 150.9L1188.9 149.6L1192.5 146.9L1192.9 146.9L1193.8 147.6L1199.8 147.1L1200.8 147.8L1203.2 147.7L1203.5 148L1203.8 148.8L1204.1 151.2L1206 150.3L1207 156L1208.4 156L1209.4 162.7L1214.1 157.9L1215.2 165.4L1231.3 160L1232.2 161.1L1235.1 160.3L1236 161.3L1236.5 163.6L1238.4 168.9L1241 167.2L1241 167.2L1238.4 168.9L1236.5 163.6L1236 161.4L1235.1 161.1L1232.2 161.9L1231.3 161.6L1215 165.8L1210 162.4L1209.8 162.3L1209.4 162.7L1209.2 161.9L1209 161.7L1208.2 156.6L1208 156L1207 156L1206 150.3L1204.1 151.2L1203.5 148.1L1192.5 148.2L1187.5 151.6L1181 152.6L1160 155L1129.6 159.4L1117.8 143L1099.4 147L1089.9 132.8L1040 143.3L1038.4 143.4L1034.9 137.6L1024.1 139.6L1020 134.1L1016.8 126.1L1012 118.1L1002.5 110.6L999.3 105.9L998.5 106L966.8 115.1L940 121.7L923 124.4L908 128.2L907.2 128.1L906.2 185.4L906.2 182.1L905.3 183.8L896.4 186.9L895.3 186.9L887.7 189.4L886.7 189.5L873.4 194.5L872.4 194.5L859.5 197.9L851.9 201.1L836.5 206.7L836.2 204.6L835.8 204.7L832.9 204.8L824.8 207.1L818.2 214.2L805.3 220.5L803 212.4L801 212.6L794.5 214.5L790.6 219.6L780.8 225.8L779.8 213.7L775.7 215.8L774.6 210.2L774.3 223.3L769.1 224.8L768.8 224L767.6 224.1L765 225.5L763.8 225.6L760.5 227L760 227.5L759 228.9L753.8 233.3L753.1 233.4L752.1 234.6L743.8 240.4L743 236.3L742.8 236L740.3 237.2L739.6 238.4L738.2 242.1L736.9 250L735.3 267L734.8 267.4L732.9 269.7L732 274.6L731 268.9L728.8 271.7L728.2 269.1L728 269.1L727.5 269.9L721.9 274.2L714.8 281.9L713.4 290.9L711.3 291.7L710 284.6L707.6 285.1L707.2 284L706.2 284L696.7 287.4L694.3 275L692.4 274.6L692 272.5L691.8 272L683.4 274.9L681.5 266L681.2 265.7L676.8 266.3L657 274.6L656.2 270.6L655.8 270.7L646.7 274.6L644.8 268.1L642.9 268.4L642.5 266.9L642 266.9L632.9 270.7L631.8 265.1L630.5 265.2L623.9 267.5L619.1 268L581.9 278.7L579.5 280.3L564.6 285.1L563.7 278.2L561.6 278.4L561.2 277.8L560.3 277.8L548.4 280.3L547.8 277L547.5 276.5L538.1 278.4L537.2 273.6L537 273.4L532.7 274.1L530.3 256.9L528.9 255L528.2 250.4L528 249.7L520.8 250.3L519.5 238.2L512.2 238.9L502.7 240.6L480.3 242.5L477.9 243.1L460.2 245.6L459.8 242.1L459.5 241.8L453.4 242.9L452.2 236.7L448.7 237.2L448 232.9L441.5 233.9L440.5 223.2L440.2 222.7L432 223.9L430.8 212.8L425.8 213L416.3 214.7L401.5 218.6L400 210L399.8 209.4L399.1 209.5L392 210.7L390.5 210.7L383.9 212.2L378.1 212.7L344.8 221.1L344 214.3L327.2 217.4L326.5 212.2L320.6 213.1L319.6 206.4L317.2 206.5L316.8 204.1L307.2 206L306.8 203.2L302 203.3L286.2 205.6L277.2 208.4L276.2 189.6L273.4 189.7L250.5 193.3L249.5 193.3L230.3 197.4L229.8 193.3L226.1 193.4L219.4 194.8L218.4 194.8L203.2 198.3L200.8 199.3L183.2 204.6L181.7 197.4L180.8 189.4L179.8 189.4L175.1 190.4L173.3 190.5L168.9 191.1L163.6 191.5L162.7 192.4L156.7 193.1L156.5 192.9L155.5 192.9L145.3 193.9L136.7 195.5L135.2 190.8L134.5 190.7L130.7 191.2L129.8 182.4L129.5 181.4L127.4 181.5L119 182.7L118.8 168.8L112 166.7L108.9 165.4L82.3 133.4L28 140.3Z" fill="#a00000" fill-opacity="0.66"/>
<path d="M28 130.4L29.9 128.9L30.6 135.6L32.1 133.4L33.9 132.5L53.6 126L61.5 123.2L63.5 129.7L65 133.3L82.7 121.2L97.1 134.1L111.5 148.7L112.7 155.2L115.5 154.5L116.3 160.4L118.4 163.6L119 167.4L119 181.2L127.4 176.5L128.8 176.5L129.3 178.3L130.7 191.2L134.8 189.5L136.7 195.5L145.3 189.8L146 189.8L146.5 192.2L155.5 188.5L155.8 188.5L156 189.1L156.7 193.1L162.7 190.5L163.6 187.3L167.7 185.7L168.5 185.7L168.9 186.9L173.5 184.7L173.8 185.1L175.1 190.3L179.8 186.4L180.2 186.4L180.8 189.3L181.7 197.4L183.2 204.6L200.8 195.7L203.2 194L218.4 188.2L219.2 188.1L219.4 188.4L226.1 185.9L226.5 186.4L227.5 190L229.4 190.7L230.3 197.4L249.5 188.7L250 188.7L250.5 192.6L273.8 185.1L274 185.5L274.3 187.4L276.2 187.9L277.2 208.4L286.2 202.5L302 197.7L302.5 197.7L302.8 197.8L302.9 198.8L306.3 198.5L307.2 206L316.5 201.9L317.2 206.5L319.6 206.3L320.6 213.1L326.3 211.2L327.2 217.4L343.5 210.9L343.8 211.2L344.8 221.1L349.5 218.7L378.1 205.1L382.9 204.4L383.8 204.4L383.9 204.8L390.5 202L390.8 202L392 208.1L399.2 205.7L401.5 218.6L416.3 211.1L425.8 208.1L426.5 208.1L426.8 208.3L427.2 210.5L430.6 210.1L432 223.9L440.2 220.6L441.5 233.9L447.8 231.4L448.7 237.2L452 236L453.4 242.9L459.5 240.1L460.2 245.6L477.9 239L480.3 237.5L498.4 233.4L499.2 233.4L499.3 233.6L501.5 232.9L502.7 239.3L512.2 235L512.5 234.9L512.8 235.7L513.3 238.8L519.3 237L520.8 250.3L528 248.7L528.9 255L530.3 256.9L532.7 274.1L537 272.8L538.1 278.4L547.2 274.8L548.4 280.3L560.3 275.3L560.8 275.3L561.6 278.4L563.7 278L564.6 285.1L579.5 277.7L581.9 275.2L619.1 258.7L620 258.7L623.2 258L623.9 262.6L630.5 259L630.8 259.2L632.9 270.7L642.2 265.1L642.9 268.4L644.8 268L646.7 274.6L656 268.9L657 274.6L676.8 262.8L677.5 262.7L677.8 263.1L678.2 264.6L681.1 264.1L683.4 274.9L691.5 270.6L692.4 274.6L694.3 275L696.7 287.4L706.2 282.3L706.5 282.3L706.8 282.5L707.6 285.1L710 284.3L711.3 291.7L713.4 290.9L714.8 281L721.9 272.8L727.5 268.2L727.8 267.8L728 267.9L728.8 271.7L731 268.6L732 274.6L732.9 269.5L735.3 266.5L736.5 252.2L738.2 240.9L739.6 236.6L740.3 235.3L742.5 233.7L743.8 240.4L753.1 229.3L753.2 229.3L753.8 232.9L760.5 222.6L763.8 220.1L764.5 220.1L764.8 220.3L765 221.5L767.8 219L769.1 224.8L774.3 222.3L774.6 210.1L775.7 215.8L779.6 212.3L780.8 225.8L790.6 214.9L794.5 209.4L801 206.3L801.8 206.3L802.4 210L805.3 220.5L818.2 212.2L824.8 202.5L832.9 199.4L834 199.4L834.4 200.5L835.8 200.3L836.5 206.7L851.9 197L859.5 191.4L872.4 185.7L873.2 185.6L873.4 185.8L886.7 177.1L887 177.1L887.2 177.8L887.7 181L895.5 176.7L896.4 182.9L905.3 177.7L906.2 174.6L907.2 127.6L921.2 119.7L921.5 119.8L922.4 124.6L938.1 110.3L940 99.2L949.1 93.4L950.3 100L963.9 87.6L965.6 101.3L973.4 93.8L974.8 100L976 99.6L984.8 91.2L998.7 87.4L1001 89.3L1008.8 93.6L1014.4 98.4L1019.5 108.9L1023.8 114.9L1035.3 111.7L1038 116.8L1038.2 117L1071 107.4L1073 112.2L1089.6 106.5L1099 120.2L1099.2 120.3L1118.2 116.6L1125 125.5L1128.8 131.6L1159.2 126L1159.8 123L1160 122.3L1160.3 122.2L1161.2 128.4L1163.1 127.4L1164.1 133.6L1166 132.7L1167.4 139.3L1168.4 138.9L1169.3 144.6L1177 139.3L1177.9 144.6L1179.8 144.1L1181.5 152.3L1187.5 150.9L1188.9 149.6L1192.5 146.9L1192.9 146.9L1193.8 147.6L1199.8 147.1L1200.8 147.8L1203.2 147.7L1203.5 148L1203.8 148.8L1204.1 151.2L1206 150.3L1207 156L1208.4 156L1209.4 162.7L1214.1 157.9L1215.2 165.4L1231.3 160L1232.2 161.1L1235.1 160.3L1236 161.3L1236.5 163.6L1238.4 168.9L1241 167.2" fill="none" stroke="#a00000" stroke-width="2" stroke-linejoin="round"/>
<path d="M28 129.9L29.9 128.3L30.6 135.3L32.1 133.1L33.9 132.1L53.6 125.4L61.5 122.5L63.5 129.3L65 133.1L82.7 120.5L97.1 133.1L111.5 147.7L112.7 154.6L115.5 153.7L116.3 159.9L118.4 163.3L119 167L119 180.2L127.4 173.4L127.8 173.4L129.3 178.3L130.7 191.2L134.5 188.7L136.7 195.5L145.3 187.2L145.5 187.2L146.5 192.2L155.5 186.9L156.7 193.1L162.7 189.3L163.6 184.7L167.7 182.4L168 182.5L168.9 186.9L173.3 183.7L175.1 190.3L179.8 184.6L180.8 189.3L181.7 197.4L183.2 204.6L200.8 193.5L203.2 191.4L218.4 184.1L218.8 184.5L219.4 188.4L226.1 185.3L227.5 190L229.4 190.7L230.3 197.4L249.5 185.8L249.8 186.7L250.5 192.6L273.5 182.7L274.3 187.4L276.2 187.9L277.2 208.4L286.2 200.6L302 194.3L302.2 194.5L302.9 198.8L306.3 198.4L307.2 206L316.3 200.6L317.2 206.5L319.6 206.2L320.6 213.1L326.3 210.6L327.2 217.4L343.4 208.8L344.8 221.1L349.5 218L378.1 200.5L383 199.6L383.2 200.1L383.9 204.8L390.5 201.1L392 208.1L399.1 205.1L401.5 218.6L416.3 209L426 205L427.2 210.5L430.6 210L432 223.9L440.1 219.4L441.5 233.9L447.8 230.4L448.7 237.2L452 235.5L453.4 242.9L459.3 238.9L460.2 245.6L477.9 236.5L480.3 234.4L498.4 228.8L498.8 229.5L499.3 233.6L501.5 232.7L502.7 239.3L512.2 233.3L513.3 238.8L519.3 236.3L520.8 250.3L527.9 248.1L528.9 255L530.3 256.9L532.7 274.1L537 272.4L538.1 278.4L547 273.6L548.4 280.3L560.3 273.8L560.5 274L561.6 278.4L563.7 277.9L564.6 285.1L579.5 276.1L581.9 273.1L619.2 253L619.5 253.2L620 256.4L622.9 255.6L623.9 262.6L630.5 258.2L632.9 270.7L642 264L642.9 268.4L644.8 267.9L646.7 274.6L655.8 267.8L657 274.6L677 260.6L678.2 264.6L681.1 264.1L683.4 274.9L691.4 269.7L692.4 274.6L694.3 275L696.7 287.4L706.2 281.2L707.6 285.1L710 284.2L711.3 291.7L713.4 290.8L714.8 280.5L721.9 272L727.8 266.7L728.8 271.7L731 268.5L732 274.6L732.9 269.4L735.3 266.1L736.5 251.7L738.2 240.8L739.8 235.9L742.4 233.3L743.8 240.4L751.9 228.2L752.9 227.1L753.8 232.9L760.5 220.1L763.8 217.1L764 217L764.2 217.9L765 221.5L767.6 218.4L769.1 224.8L774.3 221.7L774.6 210.1L775.7 215.8L779.6 211.4L780.8 225.8L794.5 206.3L801 202.5L801.2 202.6L802.4 210L805.3 220.5L818.2 211L824.8 199.7L832.9 196.1L833.2 196.1L834.4 200.5L835.8 200.3L836.5 206.7L851.9 194.4L859.5 187.4L872.4 180.2L872.8 180.7L873.4 185.8L886.7 174.8L887.7 181L895.3 175.6L896.4 182.9L905.3 176.3L906.2 172.4L907.2 127.6L921 117.2L922.4 124.6L938.1 110.3L940 97.4L949.1 91.7L950.3 98.4L963.9 86L965.6 99.8L973.4 92.2L974.8 98.8L984.8 88.8L998.7 74.1L1000.1 73.8L1003.4 75L1006.8 75L1011.5 74.1L1014.4 74.5L1019.5 80.3L1023.3 83.6L1024.3 92.2L1035.3 84.1L1037.6 86.4L1038.6 94.6L1045.7 89.3L1046.7 96L1048.9 94.1L1049.8 108.4L1055.3 102.7L1056.4 109.3L1072 97.9L1073.1 111.7L1086.3 99.8L1089.6 95.5L1098.7 102.7L1100.1 118.4L1117.7 105.5L1128.7 114L1129.6 118L1131.2 128.8L1148.4 116.9L1149.3 123.6L1155 118.8L1156 124.1L1160.3 122.2L1161.2 128.4L1163.1 127.4L1164.1 133.6L1166 132.7L1167.4 139.3L1168.4 138.9L1169.3 144.6L1177 139.3L1177.9 144.6L1179.8 144.1L1181.5 152L1187 150.3L1188.9 148L1192.9 144.8L1193.8 146.8L1199.8 145.6L1200.8 147.3L1203.2 147.2L1203.8 148.8L1204.1 151.2L1206 150.3L1207 156L1208.4 156L1209.4 162.7L1214.1 157.9L1215.2 165.2L1231.3 157.9L1232.2 160.1L1235.1 159.1L1236 161.2L1236.5 163.6L1238.4 168.9L1241 167.2L1241 167.2L1238.4 168.9L1236.5 163.6L1236 161.3L1235.1 160.3L1232.2 161.1L1231.3 160L1215.2 165.4L1214.1 157.9L1209.4 162.7L1208.4 156L1207 156L1206 150.3L1204.1 151.2L1203.8 148.8L1203.5 148L1203.2 147.7L1200.8 147.8L1199.8 147.1L1193.8 147.6L1192.9 146.9L1192.5 146.9L1188.9 149.6L1187.5 150.9L1181.5 152.3L1179.8 144.1L1177.9 144.6L1177 139.3L1169.3 144.6L1168.4 138.9L1167.4 139.3L1166 132.7L1164.1 133.6L1163.1 127.4L1161.2 128.4L1160.3 122.2L1160 122.3L1159.8 123L1159.2 126L1128.8 131.6L1125 125.5L1118.2 116.6L1099.2 120.3L1099 120.2L1089.6 106.5L1073 112.2L1071 107.4L1038.2 117L1038 116.8L1035.3 111.7L1023.8 114.9L1019.5 108.9L1014.4 98.4L1008.8 93.6L1001 89.3L998.7 87.4L984.8 91.2L976 99.6L974.8 100L973.4 93.8L965.6 101.3L963.9 87.6L950.3 100L949.1 93.4L940 99.2L938.1 110.3L922.4 124.6L921.5 119.8L921.2 119.7L907.2 127.6L906.2 174.6L905.3 177.7L896.4 182.9L895.5 176.7L887.7 181L887.2 177.8L887 177.1L886.7 177.1L873.4 185.8L873.2 185.6L872.4 185.7L859.5 191.4L851.9 197L836.5 206.7L835.8 200.3L834.4 200.5L834 199.4L832.9 199.4L824.8 202.5L818.2 212.2L805.3 220.5L802.4 210L801.8 206.3L801 206.3L794.5 209.4L790.6 214.9L780.8 225.8L779.6 212.3L775.7 215.8L774.6 210.1L774.3 222.3L769.1 224.8L767.8 219L765 221.5L764.8 220.3L764.5 220.1L763.8 220.1L760.5 222.6L753.8 232.9L753.2 229.3L753.1 229.3L743.8 240.4L742.5 233.7L740.3 235.3L739.6 236.6L738.2 240.9L736.5 252.2L735.3 266.5L732.9 269.5L732 274.6L731 268.6L728.8 271.7L728 267.9L727.8 267.8L727.5 268.2L721.9 272.8L714.8 281L713.4 290.9L711.3 291.7L710 284.3L707.6 285.1L706.8 282.5L706.5 282.3L706.2 282.3L696.7 287.4L694.3 275L692.4 274.6L691.5 270.6L683.4 274.9L681.1 264.1L678.2 264.6L677.8 263.1L677.5 262.7L676.8 262.8L657 274.6L656 268.9L646.7 274.6L644.8 268L642.9 268.4L642.2 265.1L632.9 270.7L630.8 259.2L630.5 259L623.9 262.6L623.2 258L620 258.7L619.1 258.7L581.9 275.2L579.5 277.7L564.6 285.1L563.7 278L561.6 278.4L560.8 275.3L560.3 275.3L548.4 280.3L547.2 274.8L538.1 278.4L537 272.8L532.7 274.1L530.3 256.9L528.9 255L528 248.7L520.8 250.3L519.3 237L513.3 238.8L512.8 235.7L512.5 234.9L512.2 235L502.7 239.3L501.5 232.9L499.3 233.6L499.2 233.4L498.4 233.4L480.3 237.5L477.9 239L460.2 245.6L459.5 240.1L453.4 242.9L452 236L448.7 237.2L447.8 231.4L441.5 233.9L440.2 220.6L432 223.9L430.6 210.1L427.2 210.5L426.8 208.3L426.5 208.1L425.8 208.1L416.3 211.1L401.5 218.6L399.2 205.7L392 208.1L390.8 202L390.5 202L383.9 204.8L383.8 204.4L382.9 204.4L378.1 205.1L349.5 218.7L344.8 221.1L343.8 211.2L343.5 210.9L327.2 217.4L326.3 211.2L320.6 213.1L319.6 206.3L317.2 206.5L316.5 201.9L307.2 206L306.3 198.5L302.9 198.8L302.8 197.8L302.5 197.7L302 197.7L286.2 202.5L277.2 208.4L276.2 187.9L274.3 187.4L274 185.5L273.8 185.1L250.5 192.6L250 188.7L249.5 188.7L230.3 197.4L229.4 190.7L227.5 190L226.5 186.4L226.1 185.9L219.4 188.4L219.2 188.1L218.4 188.2L203.2 194L200.8 195.7L183.2 204.6L181.7 197.4L180.8 189.3L180.2 186.4L179.8 186.4L175.1 190.3L173.8 185.1L173.5 184.7L168.9 186.9L168.5 185.7L167.7 185.7L163.6 187.3L162.7 190.5L156.7 193.1L156 189.1L155.8 188.5L155.5 188.5L146.5 192.2L146 189.8L145.3 189.8L136.7 195.5L134.8 189.5L130.7 191.2L129.3 178.3L128.8 176.5L127.4 176.5L119 181.2L119 167.4L118.4 163.6L116.3 160.4L115.5 154.5L112.7 155.2L111.5 148.7L97.1 134.1L82.7 121.2L65 133.3L63.5 129.7L61.5 123.2L53.6 126L33.9 132.5L32.1 133.4L30.6 135.6L29.9 128.9L28 130.4Z" fill="#c00000" fill-opacity="0.66"/>
<path d="M28 129.9L29.9 128.3L30.6 135.3L32.1 133.1L33.9 132.1L53.6 125.4L61.5 122.5L63.5 129.3L65 133.1L82.7 120.5L97.1 133.1L111.5 147.7L112.7 154.6L115.5 153.7L116.3 159.9L118.4 163.3L119 167L119 180.2L127.4 173.4L127.8 173.4L129.3 178.3L130.7 191.2L134.5 188.7L136.7 195.5L145.3 187.2L145.5 187.2L146.5 192.2L155.5 186.9L156.7 193.1L162.7 189.3L163.6 184.7L167.7 182.4L168 182.5L168.9 186.9L173.3 183.7L175.1 190.3L179.8 184.6L180.8 189.3L181.7 197.4L183.2 204.6L200.8 193.5L203.2 191.4L218.4 184.1L218.8 184.5L219.4 188.4L226.1 185.3L227.5 190L229.4 190.7L230.3 197.4L249.5 185.8L249.8 186.7L250.5 192.6L273.5 182.7L274.3 187.4L276.2 187.9L277.2 208.4L286.2 200.6L302 194.3L302.2 194.5L302.9 198.8L306.3 198.4L307.2 206L316.3 200.6L317.2 206.5L319.6 206.2L320.6 213.1L326.3 210.6L327.2 217.4L343.4 208.8L344.8 221.1L349.5 218L378.1 200.5L383 199.6L383.2 200.1L383.9 204.8L390.5 201.1L392 208.1L399.1 205.1L401.5 218.6L416.3 209L426 205L427.2 210.5L430.6 210L432 223.9L440.1 219.4L441.5 233.9L447.8 230.4L448.7 237.2L452 235.5L453.4 242.9L459.3 238.9L460.2 245.6L477.9 236.5L480.3 234.4L498.4 228.8L498.8 229.5L499.3 233.6L501.5 232.7L502.7 239.3L512.2 233.3L513.3 238.8L519.3 236.3L520.8 250.3L527.9 248.1L528.9 255L530.3 256.9L532.7 274.1L537 272.4L538.1 278.4L547 273.6L548.4 280.3L560.3 273.8L560.5 274L561.6 278.4L563.7 277.9L564.6 285.1L579.5 276.1L581.9 273.1L619.2 253L619.5 253.2L620 256.4L622.9 255.6L623.9 262.6L630.5 258.2L632.9 270.7L642 264L642.9 268.4L644.8 267.9L646.7 274.6L655.8 267.8L657 274.6L677 260.6L678.2 264.6L681.1 264.1L683.4 274.9L691.4 269.7L692.4 274.6L694.3 275L696.7 287.4L706.2 281.2L707.6 285.1L710 284.2L711.3 291.7L713.4 290.8L714.8 280.5L721.9 272L727.8 266.7L728.8 271.7L731 268.5L732 274.6L732.9 269.4L735.3 266.1L736.5 251.7L738.2 240.8L739.8 235.9L742.4 233.3L743.8 240.4L751.9 228.2L752.9 227.1L753.8 232.9L760.5 220.1L763.8 217.1L764 217L764.2 217.9L765 221.5L767.6 218.4L769.1 224.8L774.3 221.7L774.6 210.1L775.7 215.8L779.6 211.4L780.8 225.8L794.5 206.3L801 202.5L801.2 202.6L802.4 210L805.3 220.5L818.2 211L824.8 199.7L832.9 196.1L833.2 196.1L834.4 200.5L835.8 200.3L836.5 206.7L851.9 194.4L859.5 187.4L872.4 180.2L872.8 180.7L873.4 185.8L886.7 174.8L887.7 181L895.3 175.6L896.4 182.9L905.3 176.3L906.2 172.4L907.2 127.6L921 117.2L922.4 124.6L938.1 110.3L940 97.4L949.1 91.7L950.3 98.4L963.9 86L965.6 99.8L973.4 92.2L974.8 98.8L984.8 88.8L998.7 74.1L1000.1 73.8L1003.4 75L1006.8 75L1011.5 74.1L1014.4 74.5L1019.5 80.3L1023.3 83.6L1024.3 92.2L1035.3 84.1L1037.6 86.4L1038.6 94.6L1045.7 89.3L1046.7 96L1048.9 94.1L1049.8 108.4L1055.3 102.7L1056.4 109.3L1072 97.9L1073.1 111.7L1086.3 99.8L1089.6 95.5L1098.7 102.7L1100.1 118.4L1117.7 105.5L1128.7 114L1129.6 118L1131.2 128.8L1148.4 116.9L1149.3 123.6L1155 118.8L1156 124.1L1160.3 122.2L1161.2 128.4L1163.1 127.4L1164.1 133.6L1166 132.7L1167.4 139.3L1168.4 138.9L1169.3 144.6L1177 139.3L1177.9 144.6L1179.8 144.1L1181.5 152L1187 150.3L1188.9 148L1192.9 144.8L1193.8 146.8L1199.8 145.6L1200.8 147.3L1203.2 147.2L1203.8 148.8L1204.1 151.2L1206 150.3L1207 156L1208.4 156L1209.4 162.7L1214.1 157.9L1215.2 165.2L1231.3 157.9L1232.2 160.1L1235.1 159.1L1236 161.2L1236.5 163.6L1238.4 168.9L1241 167.2" fill="none" stroke="#c00000" stroke-width="2" stroke-linejoin="round"/>
<path d="M28 129.3L29.9 127.7L30.6 135.1L32.1 132.7L33.9 131.7L53.6 124.8L61.5 121.8L63.5 129L65 133L82.7 119.8L97.1 132.2L111.5 146.7L112.7 153.9L115.5 153L116.3 159.5L118.4 163L119 166.5L119 179.8L127.5 172.5L129.3 178.3L130.7 191.2L134.5 188.5L136.7 195.5L145.3 186.7L146.5 192.2L155.5 186.5L156.7 193.1L162.7 189L163.6 184.1L167.8 181.6L168.9 186.9L173.3 183.5L175.1 190.3L179.8 184.2L180.8 189.3L181.7 197.4L183.2 204.6L200.8 193L203.2 190.8L218.4 183.2L219.4 188.4L226.1 185.1L227.5 190L229.4 190.7L230.3 197.4L249.5 185.2L250.5 192.6L273.4 182.2L274.3 187.4L276.2 187.9L277.2 208.4L286.2 200.2L302 193.5L302.9 198.8L306.3 198.4L307.2 206L316.3 200.3L317.2 206.5L319.6 206.2L320.6 213.1L326.3 210.4L327.2 217.4L343.4 208.3L344.8 221.1L349.5 217.8L378.1 199.5L383 198.5L383.9 204.8L390.5 201L392 208.1L399.1 204.9L401.5 218.6L416.3 208.5L425.8 204.4L427.2 210.5L430.6 210L432 223.9L440.1 219.1L441.5 233.9L447.7 230.2L448.7 237.2L452 235.4L453.4 242.9L459.3 238.7L460.2 245.6L477.9 236L480.3 233.7L498.4 227.8L499.3 233.6L501.5 232.6L502.7 239.3L512.2 232.9L513.3 238.8L519.3 236.1L520.8 250.3L527.9 248L528.9 255L530.3 256.9L532.7 274.1L537 272.3L538.1 278.4L547 273.4L548.4 280.3L560.3 273.5L561.6 278.4L563.7 277.9L564.6 285.1L579.5 275.8L581.9 272.6L619.2 251.8L620 256.4L622.9 255.5L623.9 262.6L630.5 258L632.9 270.7L642 263.8L642.9 268.4L644.8 267.9L646.7 274.6L655.8 267.6L657 274.6L676.8 260.2L678.2 264.6L681.1 264.1L683.4 274.9L691.4 269.5L692.4 274.6L694.3 275L696.7 287.4L706.2 281L707.6 285.1L710 284.1L711.3 291.7L713.4 290.8L714.8 280.4L721.9 271.9L727.7 266.6L728.8 271.7L731 268.4L732 274.6L732.9 269.3L735.3 266.1L736.2 253.3L738.2 240.7L739.8 235.9L742.4 233.3L743.8 240.4L751.9 227.7L752.9 226.5L753.8 232.9L760.5 219.6L763.8 216.4L765 221.5L767.6 218.2L769.1 224.8L774.3 221.6L774.5 210L775.7 215.8L779.6 211.2L780.8 225.8L794.3 205.9L801 201.6L802.4 210L805.3 220.5L818.2 210.7L824.8 199.1L833 195.4L834.4 200.5L835.8 200.3L836.5 206.7L851.9 193.9L859.5 186.5L872.4 179L873.4 185.8L886.7 174.3L887.7 181L895.3 175.3L896.4 182.9L905.3 176.1L906.2 171.9L907.2 127.6L921 117.2L922.4 124.6L938.1 110.3L940 97.4L949.1 91.7L950.3 98.4L963.9 86L965.6 99.8L973.4 92.2L974.8 98.8L984.8 88.8L998.7 74.1L1000.1 73.8L1003.4 75L1006.8 75L1011.5 74.1L1014.4 74.5L1019.5 80.3L1023.3 83.6L1024.3 92.2L1035.3 84.1L1037.6 86.4L1038.6 94.6L1045.7 89.3L1046.7 96L1048.9 94.1L1049.8 108.4L1055.3 102.7L1056.4 109.3L1072 97.9L1073.1 111.7L1086.3 99.8L1089.6 95.5L1098.7 102.7L1100.1 118.4L1117.7 105.5L1128.7 114L1129.6 118L1131.2 128.8L1148.4 116.9L1149.3 123.6L1155 118.8L1156 124.1L1160.3 122.2L1161.2 128.4L1163.1 127.4L1164.1 133.6L1166 132.7L1167.4 139.3L1168.4 138.9L1169.3 144.6L1177 139.3L1177.9 144.6L1179.8 144.1L1181.2 150.8L1181.5 151L1187 147.9L1188.9 143.5L1192.9 139.2L1193.8 144.5L1199.8 141.5L1200.8 146L1203.2 145.6L1204.1 151.2L1206 150.3L1207 156L1208.4 156L1209.4 162.7L1214.1 157.9L1215.1 164.6L1215.2 164.7L1231.3 153.8L1232.2 158.1L1235.1 156.9L1236.5 163.6L1238.4 168.9L1241 167.2L1241 167.2L1238.4 168.9L1236.5 163.6L1236 161.2L1235.1 159.1L1232.2 160.1L1231.3 157.9L1215.2 165.2L1214.1 157.9L1209.4 162.7L1208.4 156L1207 156L1206 150.3L1204.1 151.2L1203.8 148.8L1203.2 147.2L1200.8 147.3L1199.8 145.6L1193.8 146.8L1192.9 144.8L1188.9 148L1187 150.3L1181.5 152L1179.8 144.1L1177.9 144.6L1177 139.3L1169.3 144.6L1168.4 138.9L1167.4 139.3L1166 132.7L1164.1 133.6L1163.1 127.4L1161.2 128.4L1160.3 122.2L1156 124.1L1155 118.8L1149.3 123.6L1148.4 116.9L1131.2 128.8L1129.6 118L1128.7 114L1117.7 105.5L1100.1 118.4L1098.7 102.7L1089.6 95.5L1086.3 99.8L1073.1 111.7L1072 97.9L1056.4 109.3L1055.3 102.7L1049.8 108.4L1048.9 94.1L1046.7 96L1045.7 89.3L1038.6 94.6L1037.6 86.4L1035.3 84.1L1024.3 92.2L1023.3 83.6L1019.5 80.3L1014.4 74.5L1011.5 74.1L1006.8 75L1003.4 75L1000.1 73.8L998.7 74.1L984.8 88.8L974.8 98.8L973.4 92.2L965.6 99.8L963.9 86L950.3 98.4L949.1 91.7L940 97.4L938.1 110.3L922.4 124.6L921 117.2L907.2 127.6L906.2 172.4L905.3 176.3L896.4 182.9L895.3 175.6L887.7 181L886.7 174.8L873.4 185.8L872.8 180.7L872.4 180.2L859.5 187.4L851.9 194.4L836.5 206.7L835.8 200.3L834.4 200.5L833.2 196.1L832.9 196.1L824.8 199.7L818.2 211L805.3 220.5L802.4 210L801.2 202.6L801 202.5L794.5 206.3L780.8 225.8L779.6 211.4L775.7 215.8L774.6 210.1L774.3 221.7L769.1 224.8L767.6 218.4L765 221.5L764.2 217.9L764 217L763.8 217.1L760.5 220.1L753.8 232.9L752.9 227.1L751.9 228.2L743.8 240.4L742.4 233.3L739.8 235.9L738.2 240.8L736.5 251.7L735.3 266.1L732.9 269.4L732 274.6L731 268.5L728.8 271.7L727.8 266.7L721.9 272L714.8 280.5L713.4 290.8L711.3 291.7L710 284.2L707.6 285.1L706.2 281.2L696.7 287.4L694.3 275L692.4 274.6L691.4 269.7L683.4 274.9L681.1 264.1L678.2 264.6L677 260.6L657 274.6L655.8 267.8L646.7 274.6L644.8 267.9L642.9 268.4L642 264L632.9 270.7L630.5 258.2L623.9 262.6L622.9 255.6L620 256.4L619.5 253.2L619.2 253L581.9 273.1L579.5 276.1L564.6 285.1L563.7 277.9L561.6 278.4L560.5 274L560.3 273.8L548.4 280.3L547 273.6L538.1 278.4L537 272.4L532.7 274.1L530.3 256.9L528.9 255L527.9 248.1L520.8 250.3L519.3 236.3L513.3 238.8L512.2 233.3L502.7 239.3L501.5 232.7L499.3 233.6L498.8 229.5L498.4 228.8L480.3 234.4L477.9 236.5L460.2 245.6L459.3 238.9L453.4 242.9L452 235.5L448.7 237.2L447.8 230.4L441.5 233.9L440.1 219.4L432 223.9L430.6 210L427.2 210.5L426 205L416.3 209L401.5 218.6L399.1 205.1L392 208.1L390.5 201.1L383.9 204.8L383.2 200.1L383 199.6L378.1 200.5L349.5 218L344.8 221.1L343.4 208.8L327.2 217.4L326.3 210.6L320.6 213.1L319.6 206.2L317.2 206.5L316.3 200.6L307.2 206L306.3 198.4L302.9 198.8L302.2 194.5L302 194.3L286.2 200.6L277.2 208.4L276.2 187.9L274.3 187.4L273.5 182.7L250.5 192.6L249.8 186.7L249.5 185.8L230.3 197.4L229.4 190.7L227.5 190L226.1 185.3L219.4 188.4L218.8 184.5L218.4 184.1L203.2 191.4L200.8 193.5L183.2 204.6L181.7 197.4L180.8 189.3L179.8 184.6L175.1 190.3L173.3 183.7L168.9 186.9L168 182.5L167.7 182.4L163.6 184.7L162.7 189.3L156.7 193.1L155.5 186.9L146.5 192.2L145.5 187.2L145.3 187.2L136.7 195.5L134.5 188.7L130.7 191.2L129.3 178.3L127.8 173.4L127.4 173.4L119 180.2L119 167L118.4 163.3L116.3 159.9L115.5 153.7L112.7 154.6L111.5 147.7L97.1 133.1L82.7 120.5L65 133.1L63.5 129.3L61.5 122.5L53.6 125.4L33.9 132.1L32.1 133.1L30.6 135.3L29.9 128.3L28 129.9Z" fill="#e00000" fill-opacity="0.66"/>
<path d="M28 129.3L29.9 127.7L30.6 135.1L32.1 132.7L33.9 131.7L53.6 124.8L61.5 121.8L63.5 129L65 133L82.7 119.8L97.1 132.2L111.5 146.7L112.7 153.9L115.5 153L116.3 159.5L118.4 163L119 166.5L119 179.8L127.5 172.5L129.3 178.3L130.7 191.2L134.5 188.5L136.7 195.5L145.3 186.7L146.5 192.2L155.5 186.5L156.7 193.1L162.7 189L163.6 184.1L167.8 181.6L168.9 186.9L173.3 183.5L175.1 190.3L179.8 184.2L180.8 189.3L181.7 197.4L183.2 204.6L200.8 193L203.2 190.8L218.4 183.2L219.4 188.4L226.1 185.1L227.5 190L229.4 190.7L230.3 197.4L249.5 185.2L250.5 192.6L273.4 182.2L274.3 187.4L276.2 187.9L277.2 208.4L286.2 200.2L302 193.5L302.9 198.8L306.3 198.4L307.2 206L316.3 200.3L317.2 206.5L319.6 206.2L320.6 213.1L326.3 210.4L327.2 217.4L343.4 208.3L344.8 221.1L349.5 217.8L378.1 199.5L383 198.5L383.9 204.8L390.5 201L392 208.1L399.1 204.9L401.5 218.6L416.3 208.5L425.8 204.4L427.2 210.5L430.6 210L432 223.9L440.1 219.1L441.5 233.9L447.7 230.2L448.7 237.2L452 235.4L453.4 242.9L459.3 238.7L460.2 245.6L477.9 236L480.3 233.7L498.4 227.8L499.3 233.6L501.5 232.6L502.7 239.3L512.2 232.9L513.3 238.8L519.3 236.1L520.8 250.3L527.9 248L528.9 255L530.3 256.9L532.7 274.1L537 272.3L538.1 278.4L547 273.4L548.4 280.3L560.3 273.5L561.6 278.4L563.7 277.9L564.6 285.1L579.5 275.8L581.9 272.6L619.2 251.8L620 256.4L622.9 255.5L623.9 262.6L630.5 258L632.9 270.7L642 263.8L642.9 268.4L644.8 267.9L646.7 274.6L655.8 267.6L657 274.6L676.8 260.2L678.2 264.6L681.1 264.1L683.4 274.9L691.4 269.5L692.4 274.6L694.3 275L696.7 287.4L706.2 281L707.6 285.1L710 284.1L711.3 291.7L713.4 290.8L714.8 280.4L721.9 271.9L727.7 266.6L728.8 271.7L731 268.4L732 274.6L732.9 269.3L735.3 266.1L736.2 253.3L738.2 240.7L739.8 235.9L742.4 233.3L743.8 240.4L751.9 227.7L752.9 226.5L753.8 232.9L760.5 219.6L763.8 216.4L765 221.5L767.6 218.2L769.1 224.8L774.3 221.6L774.5 210L775.7 215.8L779.6 211.2L780.8 225.8L794.3 205.9L801 201.6L802.4 210L805.3 220.5L818.2 210.7L824.8 199.1L833 195.4L834.4 200.5L835.8 200.3L836.5 206.7L851.9 193.9L859.5 186.5L872.4 179L873.4 185.8L886.7 174.3L887.7 181L895.3 175.3L896.4 182.9L905.3 176.1L906.2 171.9L907.2 127.6L921 117.2L922.4 124.6L938.1 110.3L940 97.4L949.1 91.7L950.3 98.4L963.9 86L965.6 99.8L973.4 92.2L974.8 98.8L984.8 88.8L998.7 74.1L1000.1 73.8L1003.4 75L1006.8 75L1011.5 74.1L1014.4 74.5L1019.5 80.3L1023.3 83.6L1024.3 92.2L1035.3 84.1L1037.6 86.4L1038.6 94.6L1045.7 89.3L1046.7 96L1048.9 94.1L1049.8 108.4L1055.3 102.7L1056.4 109.3L1072 97.9L1073.1 111.7L1086.3 99.8L1089.6 95.5L1098.7 102.7L1100.1 118.4L1117.7 105.5L1128.7 114L1129.6 118L1131.2 128.8L1148.4 116.9L1149.3 123.6L1155 118.8L1156 124.1L1160.3 122.2L1161.2 128.4L1163.1 127.4L1164.1 133.6L1166 132.7L1167.4 139.3L1168.4 138.9L1169.3 144.6L1177 139.3L1177.9 144.6L1179.8 144.1L1181.2 150.8L1181.5 151L1187 147.9L1188.9 143.5L1192.9 139.2L1193.8 144.5L1199.8 141.5L1200.8 146L1203.2 145.6L1204.1 151.2L1206 150.3L1207 156L1208.4 156L1209.4 162.7L1214.1 157.9L1215.1 164.6L1215.2 164.7L1231.3 153.8L1232.2 158.1L1235.1 156.9L1236.5 163.6L1238.4 168.9L1241 167.2" fill="none" stroke="#e00000" stroke-width="2" stroke-linejoin="round"/>
<path d="M28 129.3L29.9 127.7L30.6 135.1L32.1 132.7L33.9 131.7L53.6 124.8L61.5 121.8L63.5 129L65 133L82.7 119.8L97.1 132.2L111.5 146.7L112.7 153.9L115.5 153L116.3 159.5L118.4 163L119 166.5L119 179.8L127.4 172.2L129.3 178.3L130.7 191.2L134.5 188.4L136.7 195.5L145.3 186.4L146.5 192.2L155.5 186.3L156.7 193.1L162.7 188.9L163.6 183.8L167.7 181.2L168.9 186.9L173.3 183.4L175.1 190.3L179.8 184L180.8 189.3L181.7 197.4L183.2 204.6L200.8 192.7L203.2 190.5L218.4 182.7L219.4 188.4L226.1 185L227.5 190L229.4 190.7L230.3 197.4L249.5 184.9L250.5 192.6L273.4 181.9L274.3 187.4L276.2 187.9L277.2 208.4L286.2 199.9L302 193.1L302.9 198.8L306.3 198.4L307.2 206L316.3 200.2L317.2 206.5L319.6 206.2L320.6 213.1L326.3 210.3L327.2 217.4L343.4 208L344.8 221.1L349.5 217.7L378.1 198.9L382.9 197.9L383.9 204.8L390.5 200.9L392 208.1L399.1 204.8L401.5 218.6L416.3 208.2L425.8 204L427.2 210.5L430.6 210L432 223.9L440.1 219L441.5 233.9L447.7 230.1L448.7 237.2L452 235.3L453.4 242.9L459.3 238.6L460.2 245.6L477.9 235.7L480.3 233.3L498.4 227.2L499.3 233.6L501.5 232.6L502.7 239.3L512.2 232.7L513.3 238.8L519.3 236L520.8 250.3L527.9 247.9L528.9 255L530.3 256.9L532.7 274.1L537 272.2L538.1 278.4L547 273.3L548.4 280.3L560.3 273.3L561.6 278.4L563.7 277.9L564.6 285.1L579.5 275.6L581.9 272.3L619.1 251.1L620 256.4L622.9 255.5L623.9 262.6L630.5 257.9L632.9 270.7L642 263.7L642.9 268.4L644.8 267.9L646.7 274.6L655.8 267.5L657 274.6L676.8 259.9L678.2 264.6L681.1 264.1L683.4 274.9L691.4 269.4L692.4 274.6L694.3 275L696.7 287.4L706.2 280.9L707.6 285.1L710 284.1L711.3 291.7L713.4 290.8L714.8 280.3L721.9 271.8L727.7 266.5L728.8 271.7L731 268.4L732 274.6L732.9 269.3L735.3 266L736.2 253.3L738.2 240.7L739.6 236L742.4 233.2L743.8 240.4L751.9 227.4L752.9 226.4L753.8 232.9L760.5 219.3L763.8 216L765 221.5L767.6 218.1L769.1 224.8L774.3 221.5L774.5 209.7L775.7 215.8L779.6 211.1L780.8 225.8L794.3 205.5L801 201.1L802.4 210L805.3 220.5L818.2 210.6L824.8 198.8L832.9 195L834.4 200.5L835.8 200.3L836.5 206.7L851.9 193.6L859.5 186L872.4 178.3L873.4 185.8L886.7 174L887.7 181L895.3 175.2L896.4 182.9L905.3 175.9L906.2 171.6L907.2 127.6L921 117.2L922.4 124.6L938.1 110.3L940 97.4L949.1 91.7L950.3 98.4L963.9 86L965.6 99.8L973.4 92.2L974.8 98.8L984.8 88.8L998.7 74.1L1000.1 73.8L1003.4 75L1006.8 75L1011.5 74.1L1014.4 74.5L1019.5 80.3L1023.3 83.6L1024.3 92.2L1035.3 84.1L1037.6 86.4L1038.6 94.6L1045.7 89.3L1046.7 96L1048.9 94.1L1049.8 108.4L1055.3 102.7L1056.4 109.3L1072 97.9L1073.1 111.7L1086.3 99.8L1089.6 95.5L1098.7 102.7L1100.1 118.4L1117.7 105.5L1128.7 114L1129.6 118L1131.2 128.8L1148.4 116.9L1149.3 123.6L1155 118.8L1156 124.1L1160.3 122.2L1161.2 128.4L1163.1 127.4L1164.1 133.6L1166 132.7L1167.4 139.3L1168.4 138.9L1169.3 144.6L1177 139.3L1177.9 144.6L1179.8 144.1L1181.2 150.8L1187 147L1188.9 141.7L1192.9 136.9L1193.8 143.6L1199.8 139.8L1200.8 145.5L1203.2 145L1204.1 151.2L1206 150.3L1207 156L1208.4 156L1209.4 162.7L1214.1 157.9L1215.1 164.6L1231.3 152.2L1232.2 157.4L1235.1 156L1236.5 163.6L1238.4 168.9L1241 167.2L1241 167.2L1238.4 168.9L1236.5 163.6L1235.1 156.9L1232.2 158.1L1231.3 153.8L1215.2 164.7L1215.1 164.6L1214.1 157.9L1209.4 162.7L1208.4 156L1207 156L1206 150.3L1204.1 151.2L1203.2 145.6L1200.8 146L1199.8 141.5L1193.8 144.5L1192.9 139.2L1188.9 143.5L1187 147.9L1181.5 151L1181.2 150.8L1179.8 144.1L1177.9 144.6L1177 139.3L1169.3 144.6L1168.4 138.9L1167.4 139.3L1166 132.7L1164.1 133.6L1163.1 127.4L1161.2 128.4L1160.3 122.2L1156 124.1L1155 118.8L1149.3 123.6L1148.4 116.9L1131.2 128.8L1129.6 118L1128.7 114L1117.7 105.5L1100.1 118.4L1098.7 102.7L1089.6 95.5L1086.3 99.8L1073.1 111.7L1072 97.9L1056.4 109.3L1055.3 102.7L1049.8 108.4L1048.9 94.1L1046.7 96L1045.7 89.3L1038.6 94.6L1037.6 86.4L1035.3 84.1L1024.3 92.2L1023.3 83.6L1019.5 80.3L1014.4 74.5L1011.5 74.1L1006.8 75L1003.4 75L1000.1 73.8L998.7 74.1L984.8 88.8L974.8 98.8L973.4 92.2L965.6 99.8L963.9 86L950.3 98.4L949.1 91.7L940 97.4L938.1 110.3L922.4 124.6L921 117.2L907.2 127.6L906.2 171.9L905.3 176.1L896.4 182.9L895.3 175.3L887.7 181L886.7 174.3L873.4 185.8L872.4 179L859.5 186.5L851.9 193.9L836.5 206.7L835.8 200.3L834.4 200.5L833 195.4L824.8 199.1L818.2 210.7L805.3 220.5L802.4 210L801 201.6L794.3 205.9L780.8 225.8L779.6 211.2L775.7 215.8L774.5 210L774.3 221.6L769.1 224.8L767.6 218.2L765 221.5L763.8 216.4L760.5 219.6L753.8 232.9L752.9 226.5L751.9 227.7L743.8 240.4L742.4 233.3L739.8 235.9L738.2 240.7L736.2 253.3L735.3 266.1L732.9 269.3L732 274.6L731 268.4L728.8 271.7L727.7 266.6L721.9 271.9L714.8 280.4L713.4 290.8L711.3 291.7L710 284.1L707.6 285.1L706.2 281L696.7 287.4L694.3 275L692.4 274.6L691.4 269.5L683.4 274.9L681.1 264.1L678.2 264.6L676.8 260.2L657 274.6L655.8 267.6L646.7 274.6L644.8 267.9L642.9 268.4L642 263.8L632.9 270.7L630.5 258L623.9 262.6L622.9 255.5L620 256.4L619.2 251.8L581.9 272.6L579.5 275.8L564.6 285.1L563.7 277.9L561.6 278.4L560.3 273.5L548.4 280.3L547 273.4L538.1 278.4L537 272.3L532.7 274.1L530.3 256.9L528.9 255L527.9 248L520.8 250.3L519.3 236.1L513.3 238.8L512.2 232.9L502.7 239.3L501.5 232.6L499.3 233.6L498.4 227.8L480.3 233.7L477.9 236L460.2 245.6L459.3 238.7L453.4 242.9L452 235.4L448.7 237.2L447.7 230.2L441.5 233.9L440.1 219.1L432 223.9L430.6 210L427.2 210.5L425.8 204.4L416.3 208.5L401.5 218.6L399.1 204.9L392 208.1L390.5 201L383.9 204.8L383 198.5L378.1 199.5L349.5 217.8L344.8 221.1L343.4 208.3L327.2 217.4L326.3 210.4L320.6 213.1L319.6 206.2L317.2 206.5L316.3 200.3L307.2 206L306.3 198.4L302.9 198.8L302 193.5L286.2 200.2L277.2 208.4L276.2 187.9L274.3 187.4L273.4 182.2L250.5 192.6L249.5 185.2L230.3 197.4L229.4 190.7L227.5 190L226.1 185.1L219.4 188.4L218.4 183.2L203.2 190.8L200.8 193L183.2 204.6L181.7 197.4L180.8 189.3L179.8 184.2L175.1 190.3L173.3 183.5L168.9 186.9L167.8 181.6L163.6 184.1L162.7 189L156.7 193.1L155.5 186.5L146.5 192.2L145.3 186.7L136.7 195.5L134.5 188.5L130.7 191.2L129.3 178.3L127.5 172.5L119 179.8L119 166.5L118.4 163L116.3 159.5L115.5 153L112.7 153.9L111.5 146.7L97.1 132.2L82.7 119.8L65 133L63.5 129L61.5 121.8L53.6 124.8L33.9 131.7L32.1 132.7L30.6 135.1L29.9 127.7L28 129.3Z" fill="#e02020" fill-opacity="0.66"/>
<path d="M28 129.3L29.9 127.7L30.6 135.1L32.1 132.7L33.9 131.7L53.6 124.8L61.5 121.8L63.5 129L65 133L82.7 119.8L97.1 132.2L111.5 146.7L112.7 153.9L115.5 153L116.3 159.5L118.4 163L119 166.5L119 179.8L127.4 172.2L129.3 178.3L130.7 191.2L134.5 188.4L136.7 195.5L145.3 186.4L146.5 192.2L155.5 186.3L156.7 193.1L162.7 188.9L163.6 183.8L167.7 181.2L168.9 186.9L173.3 183.4L175.1 190.3L179.8 184L180.8 189.3L181.7 197.4L183.2 204.6L200.8 192.7L203.2 190.5L218.4 182.7L219.4 188.4L226.1 185L227.5 190L229.4 190.7L230.3 197.4L249.5 184.9L250.5 192.6L273.4 181.9L274.3 187.4L276.2 187.9L277.2 208.4L286.2 199.9L302 193.1L302.9 198.8L306.3 198.4L307.2 206L316.3 200.2L317.2 206.5L319.6 206.2L320.6 213.1L326.3 210.3L327.2 217.4L343.4 208L344.8 221.1L349.5 217.7L378.1 198.9L382.9 197.9L383.9 204.8L390.5 200.9L392 208.1L399.1 204.8L401.5 218.6L416.3 208.2L425.8 204L427.2 210.5L430.6 210L432 223.9L440.1 219L441.5 233.9L447.7 230.1L448.7 237.2L452 235.3L453.4 242.9L459.3 238.6L460.2 245.6L477.9 235.7L480.3 233.3L498.4 227.2L499.3 233.6L501.5 232.6L502.7 239.3L512.2 232.7L513.3 238.8L519.3 236L520.8 250.3L527.9 247.9L528.9 255L530.3 256.9L532.7 274.1L537 272.2L538.1 278.4L547 273.3L548.4 280.3L560.3 273.3L561.6 278.4L563.7 277.9L564.6 285.1L579.5 275.6L581.9 272.3L619.1 251.1L620 256.4L622.9 255.5L623.9 262.6L630.5 257.9L632.9 270.7L642 263.7L642.9 268.4L644.8 267.9L646.7 274.6L655.8 267.5L657 274.6L676.8 259.9L678.2 264.6L681.1 264.1L683.4 274.9L691.4 269.4L692.4 274.6L694.3 275L696.7 287.4L706.2 280.9L707.6 285.1L710 284.1L711.3 291.7L713.4 290.8L714.8 280.3L721.9 271.8L727.7 266.5L728.8 271.7L731 268.4L732 274.6L732.9 269.3L735.3 266L736.2 253.3L738.2 240.7L739.6 236L742.4 233.2L743.8 240.4L751.9 227.4L752.9 226.4L753.8 232.9L760.5 219.3L763.8 216L765 221.5L767.6 218.1L769.1 224.8L774.3 221.5L774.5 209.7L775.7 215.8L779.6 211.1L780.8 225.8L794.3 205.5L801 201.1L802.4 210L805.3 220.5L818.2 210.6L824.8 198.8L832.9 195L834.4 200.5L835.8 200.3L836.5 206.7L851.9 193.6L859.5 186L872.4 178.3L873.4 185.8L886.7 174L887.7 181L895.3 175.2L896.4 182.9L905.3 175.9L906.2 171.6L907.2 127.6L921 117.2L922.4 124.6L938.1 110.3L940 97.4L949.1 91.7L950.3 98.4L963.9 86L965.6 99.8L973.4 92.2L974.8 98.8L984.8 88.8L998.7 74.1L1000.1 73.8L1003.4 75L1006.8 75L1011.5 74.1L1014.4 74.5L1019.5 80.3L1023.3 83.6L1024.3 92.2L1035.3 84.1L1037.6 86.4L1038.6 94.6L1045.7 89.3L1046.7 96L1048.9 94.1L1049.8 108.4L1055.3 102.7L1056.4 109.3L1072 97.9L1073.1 111.7L1086.3 99.8L1089.6 95.5L1098.7 102.7L1100.1 118.4L1117.7 105.5L1128.7 114L1129.6 118L1131.2 128.8L1148.4 116.9L1149.3 123.6L1155 118.8L1156 124.1L1160.3 122.2L1161.2 128.4L1163.1 127.4L1164.1 133.6L1166 132.7L1167.4 139.3L1168.4 138.9L1169.3 144.6L1177 139.3L1177.9 144.6L1179.8 144.1L1181.2 150.8L1187 147L1188.9 141.7L1192.9 136.9L1193.8 143.6L1199.8 139.8L1200.8 145.5L1203.2 145L1204.1 151.2L1206 150.3L1207 156L1208.4 156L1209.4 162.7L1214.1 157.9L1215.1 164.6L1231.3 152.2L1232.2 157.4L1235.1 156L1236.5 163.6L1238.4 168.9L1241 167.2" fill="none" stroke="#e02020" stroke-width="2" stroke-linejoin="round"/>
<path d="M28 129.3L29.9 127.7L30.6 135.1L32.1 132.7L33.9 131.7L53.6 124.8L61.5 121.8L63.5 129L65 133L82.7 119.8L97.1 132.2L111.5 146.7L112.7 153.9L115.5 153L116.3 159.5L118.4 163L119 166.5L119 179.8L127.4 172.2L129.3 178.3L130.7 191.2L134.5 188.4L136.7 195.5L145.3 186.3L146.5 192.2L155.5 186.3L156.7 193.1L162.7 188.8L163.6 183.7L167.7 181.1L168.9 186.9L173.3 183.3L175.1 190.3L179.8 184L180.8 189.3L181.7 197.4L183.2 204.6L200.8 192.7L203.2 190.4L218.4 182.5L219.4 188.4L226.1 185L227.5 190L229.4 190.7L230.3 197.4L249.5 184.8L250.5 192.6L273.4 181.8L274.3 187.4L276.2 187.9L277.2 208.4L286.2 199.9L302 193L302.9 198.8L306.3 198.4L307.2 206L316.3 200.1L317.2 206.5L319.6 206.2L320.6 213.1L326.3 210.3L327.2 217.4L343.4 208L344.8 221.1L349.5 217.7L378.1 198.7L382.9 197.8L383.9 204.8L390.5 200.8L392 208.1L399.1 204.8L401.5 218.6L416.3 208.2L425.8 203.9L427.2 210.5L430.6 210L432 223.9L440.1 218.9L441.5 233.9L447.7 230L448.7 237.2L452 235.3L453.4 242.9L459.3 238.5L460.2 245.6L477.9 235.6L480.3 233.2L498.4 227L499.3 233.6L501.5 232.6L502.7 239.3L512.2 232.7L513.3 238.8L519.3 236L520.8 250.3L527.9 247.9L528.9 255L530.3 256.9L532.7 274.1L537 272.2L538.1 278.4L547 273.2L548.4 280.3L560.3 273.2L561.6 278.4L563.7 277.9L564.6 285.1L579.5 275.5L581.9 272.3L619.1 250.9L620 256.4L622.9 255.5L623.9 262.6L630.5 257.9L632.9 270.7L642 263.6L642.9 268.4L644.8 267.9L646.7 274.6L655.8 267.4L657 274.6L676.8 259.9L678.2 264.6L681.1 264.1L683.4 274.9L691.4 269.3L692.4 274.6L694.3 275L696.7 287.4L706.2 280.8L707.6 285.1L710 284.1L711.3 291.7L713.4 290.8L714.8 280.3L721.9 271.7L727.7 266.5L728.8 271.7L731 268.4L732 274.6L732.9 269.3L735.3 266L736.2 253.3L738.2 240.7L739.6 236L742.4 233.2L743.8 240.4L751.9 227.3L752.9 226.4L753.8 232.9L760.5 219.2L763.8 215.9L765 221.5L767.6 218.1L769.1 224.8L774.3 221.5L774.5 209.7L775.7 215.8L779.6 211L780.8 225.8L794.3 205.4L801 201L802.4 210L805.3 220.5L818.2 210.5L824.8 198.7L832.9 194.9L834.4 200.5L835.8 200.3L836.5 206.7L851.9 193.5L859.5 185.9L872.4 178.2L873.4 185.8L886.7 174L887.7 181L895.3 175.1L896.4 182.9L905.3 175.8L906.2 171.6L907.2 127.6L921 117.2L922.4 124.6L938.1 110.3L940 97.4L949.1 91.7L950.3 98.4L963.9 86L965.6 99.8L973.4 92.2L974.8 98.8L984.8 88.8L998.7 74.1L1000.1 73.8L1003.4 75L1006.8 75L1011.5 74.1L1014.4 74.5L1019.5 80.3L1023.3 83.6L1024.3 92.2L1035.3 84.1L1037.6 86.4L1038.6 94.6L1045.7 89.3L1046.7 96L1048.9 94.1L1049.8 108.4L1055.3 102.7L1056.4 109.3L1072 97.9L1073.1 111.7L1086.3 99.8L1089.6 95.5L1098.7 102.7L1100.1 118.4L1117.7 105.5L1128.7 114L1129.6 118L1131.2 128.8L1148.4 116.9L1149.3 123.6L1155 118.8L1156 124.1L1160.3 122.2L1161.2 128.4L1163.1 127.4L1164.1 133.6L1166 132.7L1167.4 139.3L1168.4 138.9L1169.3 144.6L1177 139.3L1177.9 144.6L1179.8 144.1L1181.2 150.8L1187 147L1188.9 141.7L1192.9 136.9L1193.8 143.6L1199.8 139.8L1200.8 145.5L1203.2 145L1204.1 151.2L1206 150.3L1207 156L1208.4 156L1209.4 162.7L1214.1 157.9L1215.1 164.6L1231.3 152.2L1232.2 157.4L1235.1 156L1236.5 163.6L1238.4 168.9L1241 167.2L1241 167.2L1238.4 168.9L1236.5 163.6L1235.1 156L1232.2 157.4L1231.3 152.2L1215.1 164.6L1214.1 157.9L1209.4 162.7L1208.4 156L1207 156L1206 150.3L1204.1 151.2L1203.2 145L1200.8 145.5L1199.8 139.8L1193.8 143.6L1192.9 136.9L1188.9 141.7L1187 147L1181.2 150.8L1179.8 144.1L1177.9 144.6L1177 139.3L1169.3 144.6L1168.4 138.9L1167.4 139.3L1166 132.7L1164.1 133.6L1163.1 127.4L1161.2 128.4L1160.3 122.2L1156 124.1L1155 118.8L1149.3 123.6L1148.4 116.9L1131.2 128.8L1129.6 118L1128.7 114L1117.7 105.5L1100.1 118.4L1098.7 102.7L1089.6 95.5L1086.3 99.8L1073.1 111.7L1072 97.9L1056.4 109.3L1055.3 102.7L1049.8 108.4L1048.9 94.1L1046.7 96L1045.7 89.3L1038.6 94.6L1037.6 86.4L1035.3 84.1L1024.3 92.2L1023.3 83.6L1019.5 80.3L1014.4 74.5L1011.5 74.1L1006.8 75L1003.4 75L1000.1 73.8L998.7 74.1L984.8 88.8L974.8 98.8L973.4 92.2L965.6 99.8L963.9 86L950.3 98.4L949.1 91.7L940 97.4L938.1 110.3L922.4 124.6L921 117.2L907.2 127.6L906.2 171.6L905.3 175.9L896.4 182.9L895.3 175.2L887.7 181L886.7 174L873.4 185.8L872.4 178.3L859.5 186L851.9 193.6L836.5 206.7L835.8 200.3L834.4 200.5L832.9 195L824.8 198.8L818.2 210.6L805.3 220.5L802.4 210L801 201.1L794.3 205.5L780.8 225.8L779.6 211.1L775.7 215.8L774.5 209.7L774.3 221.5L769.1 224.8L767.6 218.1L765 221.5L763.8 216L760.5 219.3L753.8 232.9L752.9 226.4L751.9 227.4L743.8 240.4L742.4 233.2L739.6 236L738.2 240.7L736.2 253.3L735.3 266L732.9 269.3L732 274.6L731 268.4L728.8 271.7L727.7 266.5L721.9 271.8L714.8 280.3L713.4 290.8L711.3 291.7L710 284.1L707.6 285.1L706.2 280.9L696.7 287.4L694.3 275L692.4 274.6L691.4 269.4L683.4 274.9L681.1 264.1L678.2 264.6L676.8 259.9L657 274.6L655.8 267.5L646.7 274.6L644.8 267.9L642.9 268.4L642 263.7L632.9 270.7L630.5 257.9L623.9 262.6L622.9 255.5L620 256.4L619.1 251.1L581.9 272.3L579.5 275.6L564.6 285.1L563.7 277.9L561.6 278.4L560.3 273.3L548.4 280.3L547 273.3L538.1 278.4L537 272.2L532.7 274.1L530.3 256.9L528.9 255L527.9 247.9L520.8 250.3L519.3 236L513.3 238.8L512.2 232.7L502.7 239.3L501.5 232.6L499.3 233.6L498.4 227.2L480.3 233.3L477.9 235.7L460.2 245.6L459.3 238.6L453.4 242.9L452 235.3L448.7 237.2L447.7 230.1L441.5 233.9L440.1 219L432 223.9L430.6 210L427.2 210.5L425.8 204L416.3 208.2L401.5 218.6L399.1 204.8L392 208.1L390.5 200.9L383.9 204.8L382.9 197.9L378.1 198.9L349.5 217.7L344.8 221.1L343.4 208L327.2 217.4L326.3 210.3L320.6 213.1L319.6 206.2L317.2 206.5L316.3 200.2L307.2 206L306.3 198.4L302.9 198.8L302 193.1L286.2 199.9L277.2 208.4L276.2 187.9L274.3 187.4L273.4 181.9L250.5 192.6L249.5 184.9L230.3 197.4L229.4 190.7L227.5 190L226.1 185L219.4 188.4L218.4 182.7L203.2 190.5L200.8 192.7L183.2 204.6L181.7 197.4L180.8 189.3L179.8 184L175.1 190.3L173.3 183.4L168.9 186.9L167.7 181.2L163.6 183.8L162.7 188.9L156.7 193.1L155.5 186.3L146.5 192.2L145.3 186.4L136.7 195.5L134.5 188.4L130.7 191.2L129.3 178.3L127.4 172.2L119 179.8L119 166.5L118.4 163L116.3 159.5L115.5 153L112.7 153.9L111.5 146.7L97.1 132.2L82.7 119.8L65 133L63.5 129L61.5 121.8L53.6 124.8L33.9 131.7L32.1 132.7L30.6 135.1L29.9 127.7L28 129.3Z" fill="#e04040" fill-opacity="0.66"/>
<path d="M28 129.3L29.9 127.7L30.6 135.1L32.1 132.7L33.9 131.7L53.6 124.8L61.5 121.8L63.5 129L65 133L82.7 119.8L97.1 132.2L111.5 146.7L112.7 153.9L115.5 153L116.3 159.5L118.4 163L119 166.5L119 179.8L127.4 172.2L129.3 178.3L130.7 191.2L134.5 188.4L136.7 195.5L145.3 186.3L146.5 192.2L155.5 186.3L156.7 193.1L162.7 188.8L163.6 183.7L167.7 181.1L168.9 186.9L173.3 183.3L175.1 190.3L179.8 184L180.8 189.3L181.7 197.4L183.2 204.6L200.8 192.7L203.2 190.4L218.4 182.5L219.4 188.4L226.1 185L227.5 190L229.4 190.7L230.3 197.4L249.5 184.8L250.5 192.6L273.4 181.8L274.3 187.4L276.2 187.9L277.2 208.4L286.2 199.9L302 193L302.9 198.8L306.3 198.4L307.2 206L316.3 200.1L317.2 206.5L319.6 206.2L320.6 213.1L326.3 210.3L327.2 217.4L343.4 208L344.8 221.1L349.5 217.7L378.1 198.7L382.9 197.8L383.9 204.8L390.5 200.8L392 208.1L399.1 204.8L401.5 218.6L416.3 208.2L425.8 203.9L427.2 210.5L430.6 210L432 223.9L440.1 218.9L441.5 233.9L447.7 230L448.7 237.2L452 235.3L453.4 242.9L459.3 238.5L460.2 245.6L477.9 235.6L480.3 233.2L498.4 227L499.3 233.6L501.5 232.6L502.7 239.3L512.2 232.7L513.3 238.8L519.3 236L520.8 250.3L527.9 247.9L528.9 255L530.3 256.9L532.7 274.1L537 272.2L538.1 278.4L547 273.2L548.4 280.3L560.3 273.2L561.6 278.4L563.7 277.9L564.6 285.1L579.5 275.5L581.9 272.3L619.1 250.9L620 256.4L622.9 255.5L623.9 262.6L630.5 257.9L632.9 270.7L642 263.6L642.9 268.4L644.8 267.9L646.7 274.6L655.8 267.4L657 274.6L676.8 259.9L678.2 264.6L681.1 264.1L683.4 274.9L691.4 269.3L692.4 274.6L694.3 275L696.7 287.4L706.2 280.8L707.6 285.1L710 284.1L711.3 291.7L713.4 290.8L714.8 280.3L721.9 271.7L727.7 266.5L728.8 271.7L731 268.4L732 274.6L732.9 269.3L735.3 266L736.2 253.3L738.2 240.7L739.6 236L742.4 233.2L743.8 240.4L751.9 227.3L752.9 226.4L753.8 232.9L760.5 219.2L763.8 215.9L765 221.5L767.6 218.1L769.1 224.8L774.3 221.5L774.5 209.7L775.7 215.8L779.6 211L780.8 225.8L794.3 205.4L801 201L802.4 210L805.3 220.5L818.2 210.5L824.8 198.7L832.9 194.9L834.4 200.5L835.8 200.3L836.5 206.7L851.9 193.5L859.5 185.9L872.4 178.2L873.4 185.8L886.7 174L887.7 181L895.3 175.1L896.4 182.9L905.3 175.8L906.2 171.6L907.2 127.6L921 117.2L922.4 124.6L938.1 110.3L940 97.4L949.1 91.7L950.3 98.4L963.9 86L965.6 99.8L973.4 92.2L974.8 98.8L984.8 88.8L998.7 74.1L1000.1 73.8L1003.4 75L1006.8 75L1011.5 74.1L1014.4 74.5L1019.5 80.3L1023.3 83.6L1024.3 92.2L1035.3 84.1L1037.6 86.4L1038.6 94.6L1045.7 89.3L1046.7 96L1048.9 94.1L1049.8 108.4L1055.3 102.7L1056.4 109.3L1072 97.9L1073.1 111.7L1086.3 99.8L1089.6 95.5L1098.7 102.7L1100.1 118.4L1117.7 105.5L1128.7 114L1129.6 118L1131.2 128.8L1148.4 116.9L1149.3 123.6L1155 118.8L1156 124.1L1160.3 122.2L1161.2 128.4L1163.1 127.4L1164.1 133.6L1166 132.7L1167.4 139.3L1168.4 138.9L1169.3 144.6L1177 139.3L1177.9 144.6L1179.8 144.1L1181.2 150.8L1187 147L1188.9 141.7L1192.9 136.9L1193.8 143.6L1199.8 139.8L1200.8 145.5L1203.2 145L1204.1 151.2L1206 150.3L1207 156L1208.4 156L1209.4 162.7L1214.1 157.9L1215.1 164.6L1231.3 152.2L1232.2 157.4L1235.1 156L1236.5 163.6L1238.4 168.9L1241 167.2" fill="none" stroke="#e04040" stroke-width="2" stroke-linejoin="round"/>
<path d="M28 129.3L29.9 127.7L30.6 135.1L32.1 132.7L33.9 131.7L53.6 124.8L61.5 121.8L63.5 129L65 133L82.7 119.8L97.1 132.2L111.5 146.7L112.7 153.9L115.5 153L116.3 159.5L118.4 163L119 166.5L119 179.8L127.4 172.1L129.3 178.3L130.7 191.2L134.5 188.4L136.7 195.5L145.3 186.2L146.5 192.2L155.5 186.2L156.7 193.1L162.7 188.8L163.6 183.6L167.7 181L168.9 186.9L173.3 183.3L175.1 190.3L179.8 183.9L180.8 189.3L181.7 197.4L183.2 204.6L200.8 192.6L203.2 190.3L218.4 182.4L219.4 188.4L226.1 185L227.5 190L229.4 190.7L230.3 197.4L249.5 184.7L250.5 192.6L273.4 181.7L274.3 187.4L276.2 187.9L277.2 208.4L286.2 199.8L302 192.9L302.9 198.8L306.3 198.4L307.2 206L316.3 200.1L317.2 206.5L319.6 206.2L320.6 213.1L326.3 210.3L327.2 217.4L343.4 207.9L344.8 221.1L349.5 217.7L378.1 198.6L382.9 197.6L383.9 204.8L390.5 200.8L392 208.1L399.1 204.8L401.5 218.6L416.3 208.1L425.8 203.8L427.2 210.5L430.6 210L432 223.9L440.1 218.9L441.5 233.9L447.7 230L448.7 237.2L452 235.3L453.4 242.9L459.3 238.5L460.2 245.6L477.9 235.5L480.3 233.1L498.4 226.9L499.3 233.6L501.5 232.6L502.7 239.3L512.2 232.6L513.3 238.8L519.3 236L520.8 250.3L527.9 247.9L528.9 255L530.3 256.9L532.7 274.1L537 272.2L538.1 278.4L547 273.2L548.4 280.3L560.3 273.2L561.6 278.4L563.7 277.9L564.6 285.1L579.5 275.5L581.9 272.2L619.1 250.7L620 256.4L622.9 255.5L623.9 262.6L630.5 257.9L632.9 270.7L642 263.6L642.9 268.4L644.8 267.9L646.7 274.6L655.8 267.4L657 274.6L676.8 259.8L678.2 264.6L681.1 264.1L683.4 274.9L691.4 269.3L692.4 274.6L694.3 275L696.7 287.4L706.2 280.8L707.6 285.1L710 284.1L711.3 291.7L713.4 290.8L714.8 280.3L721.9 271.7L727.7 266.5L728.8 271.7L731 268.4L732 274.6L732.9 269.3L735.3 266L736.2 253.6L738.2 240.7L739.6 236L742.4 233.2L743.8 240.4L751.9 227.2L752.9 226.4L753.8 232.9L760.5 219.1L763.8 215.8L765 221.5L767.6 218.1L769.1 224.8L774.3 221.5L774.5 209.6L775.7 215.8L779.6 211L780.8 225.8L794.3 205.3L801 201L802.4 210L805.3 220.5L818.2 210.5L824.8 198.6L832.9 194.8L834.4 200.5L835.8 200.3L836.5 206.7L851.9 193.4L859.5 185.8L872.4 178L873.4 185.8L886.7 173.9L887.7 181L895.3 175.1L896.4 182.9L905.3 175.8L906.2 171.5L907.2 127.6L921 117.2L922.4 124.6L938.1 110.3L940 97.4L949.1 91.7L950.3 98.4L963.9 86L965.6 99.8L973.4 92.2L974.8 98.8L984.8 88.8L998.7 74.1L1000.1 73.8L1003.4 75L1006.8 75L1011.5 74.1L1014.4 74.5L1019.5 80.3L1023.3 83.6L1024.3 92.2L1035.3 84.1L1037.6 86.4L1038.6 94.6L1045.7 89.3L1046.7 96L1048.9 94.1L1049.8 108.4L1055.3 102.7L1056.4 109.3L1072 97.9L1073.1 111.7L1086.3 99.8L1089.6 95.5L1098.7 102.7L1100.1 118.4L1117.7 105.5L1128.7 114L1129.6 118L1131.2 128.8L1148.4 116.9L1149.3 123.6L1155 118.8L1156 124.1L1160.3 122.2L1161.2 128.4L1163.1 127.4L1164.1 133.6L1166 132.7L1167.4 139.3L1168.4 138.9L1169.3 144.6L1177 139.3L1177.9 144.6L1179.8 144.1L1181.2 150.8L1187 147L1188.9 141.7L1192.9 136.9L1193.8 143.6L1199.8 139.8L1200.8 145.5L1203.2 145L1204.1 151.2L1206 150.3L1207 156L1208.4 156L1209.4 162.7L1214.1 157.9L1215.1 164.6L1231.3 152.2L1232.2 157.4L1235.1 156L1236.5 163.6L1238.4 168.9L1241 167.2L1241 167.2L1238.4 168.9L1236.5 163.6L1235.1 156L1232.2 157.4L1231.3 152.2L1215.1 164.6L1214.1 157.9L1209.4 162.7L1208.4 156L1207 156L1206 150.3L1204.1 151.2L1203.2 145L1200.8 145.5L1199.8 139.8L1193.8 143.6L1192.9 136.9L1188.9 141.7L1187 147L1181.2 150.8L1179.8 144.1L1177.9 144.6L1177 139.3L1169.3 144.6L1168.4 138.9L1167.4 139.3L1166 132.7L1164.1 133.6L1163.1 127.4L1161.2 128.4L1160.3 122.2L1156 124.1L1155 118.8L1149.3 123.6L1148.4 116.9L1131.2 128.8L1129.6 118L1128.7 114L1117.7 105.5L1100.1 118.4L1098.7 102.7L1089.6 95.5L1086.3 99.8L1073.1 111.7L1072 97.9L1056.4 109.3L1055.3 102.7L1049.8 108.4L1048.9 94.1L1046.7 96L1045.7 89.3L1038.6 94.6L1037.6 86.4L1035.3 84.1L1024.3 92.2L1023.3 83.6L1019.5 80.3L1014.4 74.5L1011.5 74.1L1006.8 75L1003.4 75L1000.1 73.8L998.7 74.1L984.8 88.8L974.8 98.8L973.4 92.2L965.6 99.8L963.9 86L950.3 98.4L949.1 91.7L940 97.4L938.1 110.3L922.4 124.6L921 117.2L907.2 127.6L906.2 171.6L905.3 175.8L896.4 182.9L895.3 175.1L887.7 181L886.7 174L873.4 185.8L872.4 178.2L859.5 185.9L851.9 193.5L836.5 206.7L835.8 200.3L834.4 200.5L832.9 194.9L824.8 198.7L818.2 210.5L805.3 220.5L802.4 210L801 201L794.3 205.4L780.8 225.8L779.6 211L775.7 215.8L774.5 209.7L774.3 221.5L769.1 224.8L767.6 218.1L765 221.5L763.8 215.9L760.5 219.2L753.8 232.9L752.9 226.4L751.9 227.3L743.8 240.4L742.4 233.2L739.6 236L738.2 240.7L736.2 253.3L735.3 266L732.9 269.3L732 274.6L731 268.4L728.8 271.7L727.7 266.5L721.9 271.7L714.8 280.3L713.4 290.8L711.3 291.7L710 284.1L707.6 285.1L706.2 280.8L696.7 287.4L694.3 275L692.4 274.6L691.4 269.3L683.4 274.9L681.1 264.1L678.2 264.6L676.8 259.9L657 274.6L655.8 267.4L646.7 274.6L644.8 267.9L642.9 268.4L642 263.6L632.9 270.7L630.5 257.9L623.9 262.6L622.9 255.5L620 256.4L619.1 250.9L581.9 272.3L579.5 275.5L564.6 285.1L563.7 277.9L561.6 278.4L560.3 273.2L548.4 280.3L547 273.2L538.1 278.4L537 272.2L532.7 274.1L530.3 256.9L528.9 255L527.9 247.9L520.8 250.3L519.3 236L513.3 238.8L512.2 232.7L502.7 239.3L501.5 232.6L499.3 233.6L498.4 227L480.3 233.2L477.9 235.6L460.2 245.6L459.3 238.5L453.4 242.9L452 235.3L448.7 237.2L447.7 230L441.5 233.9L440.1 218.9L432 223.9L430.6 210L427.2 210.5L425.8 203.9L416.3 208.2L401.5 218.6L399.1 204.8L392 208.1L390.5 200.8L383.9 204.8L382.9 197.8L378.1 198.7L349.5 217.7L344.8 221.1L343.4 208L327.2 217.4L326.3 210.3L320.6 213.1L319.6 206.2L317.2 206.5L316.3 200.1L307.2 206L306.3 198.4L302.9 198.8L302 193L286.2 199.9L277.2 208.4L276.2 187.9L274.3 187.4L273.4 181.8L250.5 192.6L249.5 184.8L230.3 197.4L229.4 190.7L227.5 190L226.1 185L219.4 188.4L218.4 182.5L203.2 190.4L200.8 192.7L183.2 204.6L181.7 197.4L180.8 189.3L179.8 184L175.1 190.3L173.3 183.3L168.9 186.9L167.7 181.1L163.6 183.7L162.7 188.8L156.7 193.1L155.5 186.3L146.5 192.2L145.3 186.3L136.7 195.5L134.5 188.4L130.7 191.2L129.3 178.3L127.4 172.2L119 179.8L119 166.5L118.4 163L116.3 159.5L115.5 153L112.7 153.9L111.5 146.7L97.1 132.2L82.7 119.8L65 133L63.5 129L61.5 121.8L53.6 124.8L33.9 131.7L32.1 132.7L30.6 135.1L29.9 127.7L28 129.3Z" fill="#e06060" fill-opacity="0.66"/>
<path d="M28 129.3L29.9 127.7L30.6 135.1L32.1 132.7L33.9 131.7L53.6 124.8L61.5 121.8L63.5 129L65 133L82.7 119.8L97.1 132.2L111.5 146.7L112.7 153.9L115.5 153L116.3 159.5L118.4 163L119 166.5L119 179.8L127.4 172.1L129.3 178.3L130.7 191.2L134.5 188.4L136.7 195.5L145.3 186.2L146.5 192.2L155.5 186.2L156.7 193.1L162.7 188.8L163.6 183.6L167.7 181L168.9 186.9L173.3 183.3L175.1 190.3L179.8 183.9L180.8 189.3L181.7 197.4L183.2 204.6L200.8 192.6L203.2 190.3L218.4 182.4L219.4 188.4L226.1 185L227.5 190L229.4 190.7L230.3 197.4L249.5 184.7L250.5 192.6L273.4 181.7L274.3 187.4L276.2 187.9L277.2 208.4L286.2 199.8L302 192.9L302.9 198.8L306.3 198.4L307.2 206L316.3 200.1L317.2 206.5L319.6 206.2L320.6 213.1L326.3 210.3L327.2 217.4L343.4 207.9L344.8 221.1L349.5 217.7L378.1 198.6L382.9 197.6L383.9 204.8L390.5 200.8L392 208.1L399.1 204.8L401.5 218.6L416.3 208.1L425.8 203.8L427.2 210.5L430.6 210L432 223.9L440.1 218.9L441.5 233.9L447.7 230L448.7 237.2L452 235.3L453.4 242.9L459.3 238.5L460.2 245.6L477.9 235.5L480.3 233.1L498.4 226.9L499.3 233.6L501.5 232.6L502.7 239.3L512.2 232.6L513.3 238.8L519.3 236L520.8 250.3L527.9 247.9L528.9 255L530.3 256.9L532.7 274.1L537 272.2L538.1 278.4L547 273.2L548.4 280.3L560.3 273.2L561.6 278.4L563.7 277.9L564.6 285.1L579.5 275.5L581.9 272.2L619.1 250.7L620 256.4L622.9 255.5L623.9 262.6L630.5 257.9L632.9 270.7L642 263.6L642.9 268.4L644.8 267.9L646.7 274.6L655.8 267.4L657 274.6L676.8 259.8L678.2 264.6L681.1 264.1L683.4 274.9L691.4 269.3L692.4 274.6L694.3 275L696.7 287.4L706.2 280.8L707.6 285.1L710 284.1L711.3 291.7L713.4 290.8L714.8 280.3L721.9 271.7L727.7 266.5L728.8 271.7L731 268.4L732 274.6L732.9 269.3L735.3 266L736.2 253.6L738.2 240.7L739.6 236L742.4 233.2L743.8 240.4L751.9 227.2L752.9 226.4L753.8 232.9L760.5 219.1L763.8 215.8L765 221.5L767.6 218.1L769.1 224.8L774.3 221.5L774.5 209.6L775.7 215.8L779.6 211L780.8 225.8L794.3 205.3L801 201L802.4 210L805.3 220.5L818.2 210.5L824.8 198.6L832.9 194.8L834.4 200.5L835.8 200.3L836.5 206.7L851.9 193.4L859.5 185.8L872.4 178L873.4 185.8L886.7 173.9L887.7 181L895.3 175.1L896.4 182.9L905.3 175.8L906.2 171.5L907.2 127.6L921 117.2L922.4 124.6L938.1 110.3L940 97.4L949.1 91.7L950.3 98.4L963.9 86L965.6 99.8L973.4 92.2L974.8 98.8L984.8 88.8L998.7 74.1L1000.1 73.8L1003.4 75L1006.8 75L1011.5 74.1L1014.4 74.5L1019.5 80.3L1023.3 83.6L1024.3 92.2L1035.3 84.1L1037.6 86.4L1038.6 94.6L1045.7 89.3L1046.7 96L1048.9 94.1L1049.8 108.4L1055.3 102.7L1056.4 109.3L1072 97.9L1073.1 111.7L1086.3 99.8L1089.6 95.5L1098.7 102.7L1100.1 118.4L1117.7 105.5L1128.7 114L1129.6 118L1131.2 128.8L1148.4 116.9L1149.3 123.6L1155 118.8L1156 124.1L1160.3 122.2L1161.2 128.4L1163.1 127.4L1164.1 133.6L1166 132.7L1167.4 139.3L1168.4 138.9L1169.3 144.6L1177 139.3L1177.9 144.6L1179.8 144.1L1181.2 150.8L1187 147L1188.9 141.7L1192.9 136.9L1193.8 143.6L1199.8 139.8L1200.8 145.5L1203.2 145L1204.1 151.2L1206 150.3L1207 156L1208.4 156L1209.4 162.7L1214.1 157.9L1215.1 164.6L1231.3 152.2L1232.2 157.4L1235.1 156L1236.5 163.6L1238.4 168.9L1241 167.2" fill="none" stroke="#e06060" stroke-width="2" stroke-linejoin="round"/>
<path d="M28 129.3L29.9 127.7L30.6 135.1L32.1 132.7L33.9 131.7L53.6 124.8L61.5 121.8L63.5 129L65 133L82.7 119.8L97.1 132.2L111.5 146.7L112.7 153.9L115.5 153L116.3 159.5L118.4 163L119 166.5L119 179.8L127.4 172.1L129.3 178.3L130.7 191.2L134.5 188.4L136.7 195.5L145.3 186.2L146.5 192.2L155.5 186.2L156.7 193.1L162.7 188.8L163.6 183.6L167.7 181L168.9 186.9L173.3 183.3L175.1 190.3L179.8 183.9L180.8 189.3L181.7 197.4L183.2 204.6L200.8 192.6L203.2 190.3L218.4 182.4L219.4 188.4L226.1 185L227.5 190L229.4 190.7L230.3 197.4L249.5 184.7L250.5 192.6L273.4 181.7L274.3 187.4L276.2 187.9L277.2 208.4L286.2 199.8L302 192.9L302.9 198.8L306.3 198.4L307.2 206L316.3 200.1L317.2 206.5L319.6 206.2L320.6 213.1L326.3 210.3L327.2 217.4L343.4 207.9L344.8 221.1L349.5 217.7L378.1 198.6L382.9 197.6L383.9 204.8L390.5 200.8L392 208.1L399.1 204.8L401.5 218.6L416.3 208.1L425.8 203.8L427.2 210.5L430.6 210L432 223.9L440.1 218.9L441.5 233.9L447.7 230L448.7 237.2L452 235.3L453.4 242.9L459.3 238.5L460.2 245.6L477.9 235.5L480.3 233.1L498.4 226.9L499.3 233.6L501.5 232.6L502.7 239.3L512.2 232.6L513.3 238.8L519.3 236L520.8 250.3L527.9 247.9L528.9 255L530.3 256.9L532.7 274.1L537 272.2L538.1 278.4L547 273.2L548.4 280.3L560.3 273.2L561.6 278.4L563.7 277.9L564.6 285.1L579.5 275.5L581.9 272.2L619.1 250.7L620 256.4L622.9 255.5L623.9 262.6L630.5 257.9L632.9 270.7L642 263.6L642.9 268.4L644.8 267.9L646.7 274.6L655.8 267.4L657 274.6L676.8 259.8L678.2 264.6L681.1 264.1L683.4 274.9L691.4 269.3L692.4 274.6L694.3 275L696.7 287.4L706.2 280.8L707.6 285.1L710 284.1L711.3 291.7L713.4 290.8L714.8 280.3L721.9 271.7L727.7 266.5L728.8 271.7L731 268.4L732 274.6L732.9 269.3L735.3 266L736.2 253.6L738.2 240.7L739.6 236L742.4 233.2L743.8 240.4L751.9 227.2L752.9 226.4L753.8 232.9L760.5 219.1L763.8 215.8L765 221.5L767.6 218.1L769.1 224.8L774.3 221.5L774.5 209.6L775.7 215.8L779.6 211L780.8 225.8L794.3 205.3L801 201L802.4 210L805.3 220.5L818.2 210.5L824.8 198.6L832.9 194.8L834.4 200.5L835.8 200.3L836.5 206.7L851.9 193.4L859.5 185.8L872.4 178L873.4 185.8L886.7 173.9L887.7 181L895.3 175.1L896.4 182.9L905.3 175.8L906.2 171.5L907.2 127.6L921 117.2L922.4 124.6L938.1 110.3L940 97.4L949.1 91.7L950.3 98.4L963.9 86L965.6 99.8L973.4 92.2L974.8 98.8L984.8 88.8L998.7 74.1L1000.1 73.8L1003.4 75L1006.8 75L1011.5 74.1L1014.4 74.5L1019.5 80.3L1023.3 83.6L1024.3 92.2L1035.3 84.1L1037.6 86.4L1038.6 94.6L1045.7 89.3L1046.7 96L1048.9 94.1L1049.8 108.4L1055.3 102.7L1056.4 109.3L1072 97.9L1073.1 111.7L1086.3 99.8L1089.6 95.5L1098.7 102.7L1100.1 118.4L1117.7 105.5L1128.7 114L1129.6 118L1131.2 128.8L1148.4 116.9L1149.3 123.6L1155 118.8L1156 124.1L1160.3 122.2L1161.2 128.4L1163.1 127.4L1164.1 133.6L1166 132.7L1167.4 139.3L1168.4 138.9L1169.3 144.6L1177 139.3L1177.9 144.6L1179.8 144.1L1181.2 150.8L1187 147L1188.9 141.7L1192.9 136.9L1193.8 143.6L1199.8 139.8L1200.8 145.5L1203.2 145L1204.1 151.2L1206 150.3L1207 156L1208.4 156L1209.4 162.7L1214.1 157.9L1215.1 164.6L1231.3 152.2L1232.2 157.4L1235.1 156L1236.5 163.6L1238.4 168.9L1241 167.2" fill="none" stroke="#800080" stroke-width="2" stroke-linejoin="round"/>
<path d="M28 129.3L29.9 127.7L30.6 135.1L32.1 132.7L33.9 131.7L53.6 124.8L61.5 121.8L63.5 129L65 133L82.7 119.8L97.1 132.2L111.5 146.7L112.7 153.9L115.5 153L116.3 159.5L118.4 163L119 166.5L119 179.8L127.4 172.1L129.3 178.3L130.7 191.2L134.5 188.4L136.7 195.5L145.3 186.2L146.5 192.2L155.5 186.2L156.7 193.1L162.7 188.8L163.6 183.6L167.7 181L168.9 186.9L173.3 183.3L175.1 190.3L179.8 183.9L180.8 189.3L181.7 197.4L183.2 204.6L200.8 192.6L203.2 190.3L218.4 182.4L219.4 188.4L226.1 185L227.5 190L229.4 190.7L230.3 197.4L249.5 184.7L250.5 192.6L273.4 181.7L274.3 187.4L276.2 187.9L277.2 208.4L286.2 199.8L302 192.9L302.9 198.8L306.3 198.4L307.2 206L316.3 200.1L317.2 206.5L319.6 206.2L320.6 213.1L326.3 210.3L327.2 217.4L343.4 207.9L344.8 221.1L349.5 217.7L378.1 198.6L382.9 197.6L383.9 204.8L390.5 200.8L392 208.1L399.1 204.8L401.5 218.6L416.3 208.1L425.8 203.8L427.2 210.5L430.6 210L432 223.9L440.1 218.9L441.5 233.9L447.7 230L448.7 237.2L452 235.3L453.4 242.9L459.3 238.5L460.2 245.6L477.9 235.5L480.3 233.1L498.4 226.9L499.3 233.6L501.5 232.6L502.7 239.3L512.2 232.6L513.3 238.8L519.3 236L520.8 250.3L527.9 247.9L528.9 255L530.3 256.9L532.7 274.1L537 272.2L538.1 278.4L547 273.2L548.4 280.3L560.3 273.2L561.6 278.4L563.7 277.9L564.6 285.1L579.5 275.5L581.9 272.2L619.1 250.7L620 256.4L622.9 255.5L623.9 262.6L630.5 257.9L632.9 270.7L642 263.6L642.9 268.4L644.8 267.9L646.7 274.6L655.8 267.4L657 274.6L676.8 259.8L678.2 264.6L681.1 264.1L683.4 274.9L691.4 269.3L692.4 274.6L694.3 275L696.7 287.4L706.2 280.8L707.6 285.1L710 284.1L711.3 291.7L713.4 290.8L714.8 280.3L721.9 271.7L727.7 266.5L728.8 271.7L731 268.4L732 274.6L732.9 269.3L735.3 266L736.2 253.6L738.2 240.7L739.6 236L742.4 233.2L743.8 240.4L751.9 227.2L752.9 226.4L753.8 232.9L760.5 219.1L763.8 215.8L765 221.5L767.6 218.1L769.1 224.8L774.3 221.5L774.5 209.6L775.7 215.8L779.6 211L780.8 225.8L794.3 205.3L801 201L802.4 210L805.3 220.5L818.2 210.5L824.8 198.6L832.9 194.8L834.4 200.5L835.8 200.3L836.5 206.7L851.9 193.4L859.5 185.8L872.4 178L873.4 185.8L886.7 173.9L887.7 181L895.3 175.1L896.4 182.9L905.3 175.8L906.2 171.5L907.2 127.6L921 117.2L922.4 124.6L938.1 110.3L940 97.4L949.1 91.7L950.3 98.4L963.9 86L965.6 99.8L973.4 92.2L974.8 98.8L984.8 88.8L998.7 74.1L1000.1 73.8L1003.4 75L1006.8 75L1011.5 74.1L1014.4 74.5L1019.5 80.3L1023.3 83.6L1024.3 92.2L1035.3 84.1L1037.6 86.4L1038.6 94.6L1045.7 89.3L1046.7 96L1048.9 94.1L1049.8 108.4L1055.3 102.7L1056.4 109.3L1072 97.9L1073.1 111.7L1086.3 99.8L1089.6 95.5L1098.7 102.7L1100.1 118.4L1117.7 105.5L1128.7 114L1129.6 118L1131.2 128.8L1148.4 116.9L1149.3 123.6L1155 118.8L1156 124.1L1160.3 122.2L1161.2 128.4L1163.1 127.4L1164.1 133.6L1166 132.7L1167.4 139.3L1168.4 138.9L1169.3 144.6L1177 139.3L1177.9 144.6L1179.8 144.1L1181.2 150.8L1187 147L1188.9 141.7L1192.9 136.9L1193.8 143.6L1199.8 139.8L1200.8 145.5L1203.2 145L1204.1 151.2L1206 150.3L1207 156L1208.4 156L1209.4 162.7L1214.1 157.9L1215.1 164.6L1231.3 152.2L1232.2 157.4L1235.1 156L1236.5 163.6L1238.4 168.9L1241 167.2" fill="none" stroke="#ac00ac" stroke-width="2" stroke-linejoin="round"/>
<path d="M28 129.3L29.9 127.7L30.6 135.1L32.1 132.7L33.9 131.7L53.6 124.8L61.5 121.8L63.5 129L65 133L82.7 119.8L97.1 132.2L111.5 146.7L112.7 153.9L115.5 153L116.3 159.5L118.4 163L119 166.5L119 179.8L127.4 172.1L129.3 178.3L130.7 191.2L134.5 188.4L136.7 195.5L145.3 186.2L146.5 192.2L155.5 186.2L156.7 193.1L162.7 188.8L163.6 183.6L167.7 181L168.9 186.9L173.3 183.3L175.1 190.3L179.8 183.9L180.8 189.3L181.7 197.4L183.2 204.6L200.8 192.6L203.2 190.3L218.4 182.4L219.4 188.4L226.1 185L227.5 190L229.4 190.7L230.3 197.4L249.5 184.7L250.5 192.6L273.4 181.7L274.3 187.4L276.2 187.9L277.2 208.4L286.2 199.8L302 192.9L302.9 198.8L306.3 198.4L307.2 206L316.3 200.1L317.2 206.5L319.6 206.2L320.6 213.1L326.3 210.3L327.2 217.4L343.4 207.9L344.8 221.1L349.5 217.7L378.1 198.6L382.9 197.6L383.9 204.8L390.5 200.8L392 208.1L399.1 204.8L401.5 218.6L416.3 208.1L425.8 203.8L427.2 210.5L430.6 210L432 223.9L440.1 218.9L441.5 233.9L447.7 230L448.7 237.2L452 235.3L453.4 242.9L459.3 238.5L460.2 245.6L477.9 235.5L480.3 233.1L498.4 226.9L499.3 233.6L501.5 232.6L502.7 239.3L512.2 232.6L513.3 238.8L519.3 236L520.8 250.3L527.9 247.9L528.9 255L530.3 256.9L532.7 274.1L537 272.2L538.1 278.4L547 273.2L548.4 280.3L560.3 273.2L561.6 278.4L563.7 277.9L564.6 285.1L579.5 275.5L581.9 272.2L619.1 250.7L620 256.4L622.9 255.5L623.9 262.6L630.5 257.9L632.9 270.7L642 263.6L642.9 268.4L644.8 267.9L646.7 274.6L655.8 267.4L657 274.6L676.8 259.8L678.2 264.6L681.1 264.1L683.4 274.9L691.4 269.3L692.4 274.6L694.3 275L696.7 287.4L706.2 280.8L707.6 285.1L710 284.1L711.3 291.7L713.4 290.8L714.8 280.3L721.9 271.7L727.7 266.5L728.8 271.7L731 268.4L732 274.6L732.9 269.3L735.3 266L736.2 253.6L738.2 240.7L739.6 236L742.4 233.2L743.8 240.4L751.9 227.2L752.9 226.4L753.8 232.9L760.5 219.1L763.8 215.8L765 221.5L767.6 218.1L769.1 224.8L774.3 221.5L774.5 209.6L775.7 215.8L779.6 211L780.8 225.8L794.3 205.3L801 201L802.4 210L805.3 220.5L818.2 210.5L824.8 198.6L832.9 194.8L834.4 200.5L835.8 200.3L836.5 206.7L851.9 193.4L859.5 185.8L872.4 178L873.4 185.8L886.7 173.9L887.7 181L895.3 175.1L896.4 182.9L905.3 175.8L906.2 171.5L907.2 127.6L921 117.2L922.4 124.6L938.1 110.3L940 97.4L949.1 91.7L950.3 98.4L963.9 86L965.6 99.8L973.4 92.2L974.8 98.8L984.8 88.8L998.7 74.1L1000.1 73.8L1003.4 75L1006.8 75L1011.5 74.1L1014.4 74.5L1019.5 80.3L1023.3 83.6L1024.3 92.2L1035.3 84.1L1037.6 86.4L1038.6 94.6L1045.7 89.3L1046.7 96L1048.9 94.1L1049.8 108.4L1055.3 102.7L1056.4 109.3L1072 97.9L1073.1 111.7L1086.3 99.8L1089.6 95.5L1098.7 102.7L1100.1 118.4L1117.7 105.5L1128.7 114L1129.6 118L1131.2 128.8L1148.4 116.9L1149.3 123.6L1155 118.8L1156 124.1L1160.3 122.2L1161.2 128.4L1163.1 127.4L1164.1 133.6L1166 132.7L1167.4 139.3L1168.4 138.9L1169.3 144.6L1177 139.3L1177.9 144.6L1179.8 144.1L1181.2 150.8L1187 147L1188.9 141.7L1192.9 136.9L1193.8 143.6L1199.8 139.8L1200.8 145.5L1203.2 145L1204.1 151.2L1206 150.3L1207 156L1208.4 156L1209.4 162.7L1214.1 157.9L1215.1 164.6L1231.3 152.2L1232.2 157.4L1235.1 156L1236.5 163.6L1238.4 168.9L1241 167.2" fill="none" stroke="#d800d8" stroke-width="2" stroke-linejoin="round"/>
<path d="M28 129.3L29.9 127.7L30.6 135.1L32.1 132.7L33.9 131.7L53.6 124.8L61.5 121.8L63.5 129L65 133L82.7 119.8L97.1 132.2L111.5 146.7L112.7 153.9L115.5 153L116.3 159.5L118.4 163L119 166.5L119 179.8L127.4 172.1L129.3 178.3L130.7 191.2L134.5 188.4L136.7 195.5L145.3 186.2L146.5 192.2L155.5 186.2L156.7 193.1L162.7 188.8L163.6 183.6L167.7 181L168.9 186.9L173.3 183.3L175.1 190.3L179.8 183.9L180.8 189.3L181.7 197.4L183.2 204.6L200.8 192.6L203.2 190.3L218.4 182.4L219.4 188.4L226.1 185L227.5 190L229.4 190.7L230.3 197.4L249.5 184.7L250.5 192.6L273.4 181.7L274.3 187.4L276.2 187.9L277.2 208.4L286.2 199.8L302 192.9L302.9 198.8L306.3 198.4L307.2 206L316.3 200.1L317.2 206.5L319.6 206.2L320.6 213.1L326.3 210.3L327.2 217.4L343.4 207.9L344.8 221.1L349.5 217.7L378.1 198.6L382.9 197.6L383.9 204.8L390.5 200.8L392 208.1L399.1 204.8L401.5 218.6L416.3 208.1L425.8 203.8L427.2 210.5L430.6 210L432 223.9L440.1 218.9L441.5 233.9L447.7 230L448.7 237.2L452 235.3L453.4 242.9L459.3 238.5L460.2 245.6L477.9 235.5L480.3 233.1L498.4 226.9L499.3 233.6L501.5 232.6L502.7 239.3L512.2 232.6L513.3 238.8L519.3 236L520.8 250.3L527.9 247.9L528.9 255L530.3 256.9L532.7 274.1L537 272.2L538.1 278.4L547 273.2L548.4 280.3L560.3 273.2L561.6 278.4L563.7 277.9L564.6 285.1L579.5 275.5L581.9 272.2L619.1 250.7L620 256.4L622.9 255.5L623.9 262.6L630.5 257.9L632.9 270.7L642 263.6L642.9 268.4L644.8 267.9L646.7 274.6L655.8 267.4L657 274.6L676.8 259.8L678.2 264.6L681.1 264.1L683.4 274.9L691.4 269.3L692.4 274.6L694.3 275L696.7 287.4L706.2 280.8L707.6 285.1L710 284.1L711.3 291.7L713.4 290.8L714.8 280.3L721.9 271.7L727.7 266.5L728.8 271.7L731 268.4L732 274.6L732.9 269.3L735.3 266L736.2 253.6L738.2 240.7L739.6 236L742.4 233.2L743.8 240.4L751.9 227.2L752.9 226.4L753.8 232.9L760.5 219.1L763.8 215.8L765 221.5L767.6 218.1L769.1 224.8L774.3 221.5L774.5 209.6L775.7 215.8L779.6 211L780.8 225.8L794.3 205.3L801 201L802.4 210L805.3 220.5L818.2 210.5L824.8 198.6L832.9 194.8L834.4 200.5L835.8 200.3L836.5 206.7L851.9 193.4L859.5 185.8L872.4 178L873.4 185.8L886.7 173.9L887.7 181L895.3 175.1L896.4 182.9L905.3 175.8L906.2 171.5L907.2 127.6L921 117.2L922.4 124.6L938.1 110.3L940 97.4L949.1 91.7L950.3 98.4L963.9 86L965.6 99.8L973.4 92.2L974.8 98.8L984.8 88.8L998.7 74.1L1000.1 73.8L1003.4 75L1006.8 75L1011.5 74.1L1014.4 74.5L1019.5 80.3L1023.3 83.6L1024.3 92.2L1035.3 84.1L1037.6 86.4L1038.6 94.6L1045.7 89.3L1046.7 96L1048.9 94.1L1049.8 108.4L1055.3 102.7L1056.4 109.3L1072 97.9L1073.1 111.7L1086.3 99.8L1089.6 95.5L1098.7 102.7L1100.1 118.4L1117.7 105.5L1128.7 114L1129.6 118L1131.2 128.8L1148.4 116.9L1149.3 123.6L1155 118.8L1156 124.1L1160.3 122.2L1161.2 128.4L1163.1 127.4L1164.1 133.6L1166 132.7L1167.4 139.3L1168.4 138.9L1169.3 144.6L1177 139.3L1177.9 144.6L1179.8 144.1L1181.2 150.8L1187 147L1188.9 141.7L1192.9 136.9L1193.8 143.6L1199.8 139.8L1200.8 145.5L1203.2 145L1204.1 151.2L1206 150.3L1207 156L1208.4 156L1209.4 162.7L1214.1 157.9L1215.1 164.6L1231.3 152.2L1232.2 157.4L1235.1 156L1236.5 163.6L1238.4 168.9L1241 167.2" fill="none" stroke="#ff00ff" stroke-width="2" stroke-linejoin="round"/>
<path d="M28 129.3L29.9 127.7L30.6 135.1L32.1 132.7L33.9 131.7L53.6 124.8L61.5 121.8L63.5 129L65 133L82.7 119.8L97.1 132.2L111.5 146.7L112.7 153.9L115.5 153L116.3 159.5L118.4 163L119 166.5L119 179.8L127.4 172.1L129.3 178.3L130.7 191.2L134.5 188.4L136.7 195.5L145.3 186.2L146.5 192.2L155.5 186.2L156.7 193.1L162.7 188.8L163.6 183.6L167.7 181L168.9 186.9L173.3 183.3L175.1 190.3L179.8 183.9L180.8 189.3L181.7 197.4L183.2 204.6L200.8 192.6L203.2 190.3L218.4 182.4L219.4 188.4L226.1 185L227.5 190L229.4 190.7L230.3 197.4L249.5 184.7L250.5 192.6L273.4 181.7L274.3 187.4L276.2 187.9L277.2 208.4L286.2 199.8L302 192.9L302.9 198.8L306.3 198.4L307.2 206L316.3 200.1L317.2 206.5L319.6 206.2L320.6 213.1L326.3 210.3L327.2 217.4L343.4 207.9L344.8 221.1L349.5 217.7L378.1 198.6L382.9 197.6L383.9 204.8L390.5 200.8L392 208.1L399.1 204.8L401.5 218.6L416.3 208.1L425.8 203.8L427.2 210.5L430.6 210L432 223.9L440.1 218.9L441.5 233.9L447.7 230L448.7 237.2L452 235.3L453.4 242.9L459.3 238.5L460.2 245.6L477.9 235.5L480.3 233.1L498.4 226.9L499.3 233.6L501.5 232.6L502.7 239.3L512.2 232.6L513.3 238.8L519.3 236L520.8 250.3L527.9 247.9L528.9 255L530.3 256.9L532.7 274.1L537 272.2L538.1 278.4L547 273.2L548.4 280.3L560.3 273.2L561.6 278.4L563.7 277.9L564.6 285.1L579.5 275.5L581.9 272.2L619.1 250.7L620 256.4L622.9 255.5L623.9 262.6L630.5 257.9L632.9 270.7L642 263.6L642.9 268.4L644.8 267.9L646.7 274.6L655.8 267.4L657 274.6L676.8 259.8L678.2 264.6L681.1 264.1L683.4 274.9L691.4 269.3L692.4 274.6L694.3 275L696.7 287.4L706.2 280.8L707.6 285.1L710 284.1L711.3 291.7L713.4 290.8L714.8 280.3L721.9 271.7L727.7 266.5L728.8 271.7L731 268.4L732 274.6L732.9 269.3L735.3 266L736.2 253.6L738.2 240.7L739.6 236L742.4 233.2L743.8 240.4L751.9 227.2L752.9 226.4L753.8 232.9L760.5 219.1L763.8 215.8L765 221.5L767.6 218.1L769.1 224.8L774.3 221.5L774.5 209.6L775.7 215.8L779.6 211L780.8 225.8L794.3 205.3L801 201L802.4 210L805.3 220.5L818.2 210.5L824.8 198.6L832.9 194.8L834.4 200.5L835.8 200.3L836.5 206.7L851.9 193.4L859.5 185.8L872.4 178L873.4 185.8L886.7 173.9L887.7 181L895.3 175.1L896.4 182.9L905.3 175.8L906.2 171.5L907.2 127.6L921 117.2L922.4 124.6L938.1 110.3L940 97.4L949.1 91.7L950.3 98.4L963.9 86L965.6 99.8L973.4 92.2L974.8 98.8L984.8 88.8L998.7 74.1L1000.1 73.8L1003.4 75L1006.8 75L1011.5 74.1L1014.4 74.5L1019.5 80.3L1023.3 83.6L1024.3 92.2L1035.3 84.1L1037.6 86.4L1038.6 94.6L1045.7 89.3L1046.7 96L1048.9 94.1L1049.8 108.4L1055.3 102.7L1056.4 109.3L1072 97.9L1073.1 111.7L1086.3 99.8L1089.6 95.5L1098.7 102.7L1100.1 118.4L1117.7 105.5L1128.7 114L1129.6 118L1131.2 128.8L1148.4 116.9L1149.3 123.6L1155 118.8L1156 124.1L1160.3 122.2L1161.2 128.4L1163.1 127.4L1164.1 133.6L1166 132.7L1167.4 139.3L1168.4 138.9L1169.3 144.6L1177 139.3L1177.9 144.6L1179.8 144.1L1181.2 150.8L1187 147L1188.9 141.7L1192.9 136.9L1193.8 143.6L1199.8 139.8L1200.8 145.5L1203.2 145L1204.1 151.2L1206 150.3L1207 156L1208.4 156L1209.4 162.7L1214.1 157.9L1215.1 164.6L1231.3 152.2L1232.2 157.4L1235.1 156L1236.5 163.6L1238.4 168.9L1241 167.2" fill="none" stroke="#ff2cff" stroke-width="2" stroke-linejoin="round"/>
<path d="M28 129.3L29.9 127.7L30.6 135.1L32.1 132.7L33.9 131.7L53.6 124.8L61.5 121.8L63.5 129L65 133L82.7 119.8L97.1 132.2L111.5 146.7L112.7 153.9L115.5 153L116.3 159.5L118.4 163L119 166.5L119 179.8L127.4 172.1L129.3 178.3L130.7 191.2L134.5 188.4L136.7 195.5L145.3 186.2L146.5 192.2L155.5 186.2L156.7 193.1L162.7 188.8L163.6 183.6L167.7 181L168.9 186.9L173.3 183.3L175.1 190.3L179.8 183.9L180.8 189.3L181.7 197.4L183.2 204.6L200.8 192.6L203.2 190.3L218.4 182.4L219.4 188.4L226.1 185L227.5 190L229.4 190.7L230.3 197.4L249.5 184.7L250.5 192.6L273.4 181.7L274.3 187.4L276.2 187.9L277.2 208.4L286.2 199.8L302 192.9L302.9 198.8L306.3 198.4L307.2 206L316.3 200.1L317.2 206.5L319.6 206.2L320.6 213.1L326.3 210.3L327.2 217.4L343.4 207.9L344.8 221.1L349.5 217.7L378.1 198.6L382.9 197.6L383.9 204.8L390.5 200.8L392 208.1L399.1 204.8L401.5 218.6L416.3 208.1L425.8 203.8L427.2 210.5L430.6 210L432 223.9L440.1 218.9L441.5 233.9L447.7 230L448.7 237.2L452 235.3L453.4 242.9L459.3 238.5L460.2 245.6L477.9 235.5L480.3 233.1L498.4 226.9L499.3 233.6L501.5 232.6L502.7 239.3L512.2 232.6L513.3 238.8L519.3 236L520.8 250.3L527.9 247.9L528.9 255L530.3 256.9L532.7 274.1L537 272.2L538.1 278.4L547 273.2L548.4 280.3L560.3 273.2L561.6 278.4L563.7 277.9L564.6 285.1L579.5 275.5L581.9 272.2L619.1 250.7L620 256.4L622.9 255.5L623.9 262.6L630.5 257.9L632.9 270.7L642 263.6L642.9 268.4L644.8 267.9L646.7 274.6L655.8 267.4L657 274.6L676.8 259.8L678.2 264.6L681.1 264.1L683.4 274.9L691.4 269.3L692.4 274.6L694.3 275L696.7 287.4L706.2 280.8L707.6 285.1L710 284.1L711.3 291.7L713.4 290.8L714.8 280.3L721.9 271.7L727.7 266.5L728.8 271.7L731 268.4L732 274.6L732.9 269.3L735.3 266L736.2 253.6L738.2 240.7L739.6 236L742.4 233.2L743.8 240.4L751.9 227.2L752.9 226.4L753.8 232.9L760.5 219.1L763.8 215.8L765 221.5L767.6 218.1L769.1 224.8L774.3 221.5L774.5 209.6L775.7 215.8L779.6 211L780.8 225.8L794.3 205.3L801 201L802.4 210L805.3 220.5L818.2 210.5L824.8 198.6L832.9 194.8L834.4 200.5L835.8 200.3L836.5 206.7L851.9 193.4L859.5 185.8L872.4 178L873.4 185.8L886.7 173.9L887.7 181L895.3 175.1L896.4 182.9L905.3 175.8L906.2 171.5L907.2 127.6L921 117.2L922.4 124.6L938.1 110.3L940 97.4L949.1 91.7L950.3 98.4L963.9 86L965.6 99.8L973.4 92.2L974.8 98.8L984.8 88.8L998.7 74.1L1000.1 73.8L1003.4 75L1006.8 75L1011.5 74.1L1014.4 74.5L1019.5 80.3L1023.3 83.6L1024.3 92.2L1035.3 84.1L1037.6 86.4L1038.6 94.6L1045.7 89.3L1046.7 96L1048.9 94.1L1049.8 108.4L1055.3 102.7L1056.4 109.3L1072 97.9L1073.1 111.7L1086.3 99.8L1089.6 95.5L1098.7 102.7L1100.1 118.4L1117.7 105.5L1128.7 114L1129.6 118L1131.2 128.8L1148.4 116.9L1149.3 123.6L1155 118.8L1156 124.1L1160.3 122.2L1161.2 128.4L1163.1 127.4L1164.1 133.6L1166 132.7L1167.4 139.3L1168.4 138.9L1169.3 144.6L1177 139.3L1177.9 144.6L1179.8 144.1L1181.2 150.8L1187 147L1188.9 141.7L1192.9 136.9L1193.8 143.6L1199.8 139.8L1200.8 145.5L1203.2 145L1204.1 151.2L1206 150.3L1207 156L1208.4 156L1209.4 162.7L1214.1 157.9L1215.1 164.6L1231.3 152.2L1232.2 157.4L1235.1 156L1236.5 163.6L1238.4 168.9L1241 167.2" fill="none" stroke="#ff58ff" stroke-width="2" stroke-linejoin="round"/>
<path d="M28 129.3L29.9 127.7L30.6 135.1L32.1 132.7L33.9 131.7L53.6 124.8L61.5 121.8L63.5 129L65 133L82.7 119.8L97.1 132.2L111.5 146.7L112.7 153.9L115.5 153L116.3 159.5L118.4 163L119 166.5L119 179.8L127.4 172.1L129.3 178.3L130.7 191.2L134.5 188.4L136.7 195.5L145.3 186.2L146.5 192.2L155.5 186.2L156.7 193.1L162.7 188.8L163.6 183.6L167.7 181L168.9 186.9L173.3 183.3L175.1 190.3L179.8 183.9L180.8 189.3L181.7 197.4L183.2 204.6L200.8 192.6L203.2 190.3L218.4 182.4L219.4 188.4L226.1 185L227.5 190L229.4 190.7L230.3 197.4L249.5 184.7L250.5 192.6L273.4 181.7L274.3 187.4L276.2 187.9L277.2 208.4L286.2 199.8L302 192.9L302.9 198.8L306.3 198.4L307.2 206L316.3 200.1L317.2 206.5L319.6 206.2L320.6 213.1L326.3 210.3L327.2 217.4L343.4 207.9L344.8 221.1L349.5 217.7L378.1 198.6L382.9 197.6L383.9 204.8L390.5 200.8L392 208.1L399.1 204.8L401.5 218.6L416.3 208.1L425.8 203.8L427.2 210.5L430.6 210L432 223.9L440.1 218.9L441.5 233.9L447.7 230L448.7 237.2L452 235.3L453.4 242.9L459.3 238.5L460.2 245.6L477.9 235.5L480.3 233.1L498.4 226.9L499.3 233.6L501.5 232.6L502.7 239.3L512.2 232.6L513.3 238.8L519.3 236L520.8 250.3L527.9 247.9L528.9 255L530.3 256.9L532.7 274.1L537 272.2L538.1 278.4L547 273.2L548.4 280.3L560.3 273.2L561.6 278.4L563.7 277.9L564.6 285.1L579.5 275.5L581.9 272.2L619.1 250.7L620 256.4L622.9 255.5L623.9 262.6L630.5 257.9L632.9 270.7L642 263.6L642.9 268.4L644.8 267.9L646.7 274.6L655.8 267.4L657 274.6L676.8 259.8L678.2 264.6L681.1 264.1L683.4 274.9L691.4 269.3L692.4 274.6L694.3 275L696.7 287.4L706.2 280.8L707.6 285.1L710 284.1L711.3 291.7L713.4 290.8L714.8 280.3L721.9 271.7L727.7 266.5L728.8 271.7L731 268.4L732 274.6L732.9 269.3L735.3 266L736.2 253.6L738.2 240.7L739.6 236L742.4 233.2L743.8 240.4L751.9 227.2L752.9 226.4L753.8 232.9L760.5 219.1L763.8 215.8L765 221.5L767.6 218.1L769.1 224.8L774.3 221.5L774.5 209.6L775.7 215.8L779.6 211L780.8 225.8L794.3 205.3L801 201L802.4 210L805.3 220.5L818.2 210.5L824.8 198.6L832.9 194.8L834.4 200.5L835.8 200.3L836.5 206.7L851.9 193.4L859.5 185.8L872.4 178L873.4 185.8L886.7 173.9L887.7 181L895.3 175.1L896.4 182.9L905.3 175.8L906.2 171.5L907.2 127.6L921 117.2L922.4 124.6L938.1 110.3L940 97.4L949.1 91.7L950.3 98.4L963.9 86L965.6 99.8L973.4 92.2L974.8 98.8L984.8 88.8L998.7 74.1L1000.1 73.8L1003.4 75L1006.8 75L1011.5 74.1L1014.4 74.5L1019.5 80.3L1023.3 83.6L1024.3 92.2L1035.3 84.1L1037.6 86.4L1038.6 94.6L1045.7 89.3L1046.7 96L1048.9 94.1L1049.8 108.4L1055.3 102.7L1056.4 109.3L1072 97.9L1073.1 111.7L1086.3 99.8L1089.6 95.5L1098.7 102.7L1100.1 118.4L1117.7 105.5L1128.7 114L1129.6 118L1131.2 128.8L1148.4 116.9L1149.3 123.6L1155 118.8L1156 124.1L1160.3 122.2L1161.2 128.4L1163.1 127.4L1164.1 133.6L1166 132.7L1167.4 139.3L1168.4 138.9L1169.3 144.6L1177 139.3L1177.9 144.6L1179.8 144.1L1181.2 150.8L1187 147L1188.9 141.7L1192.9 136.9L1193.8 143.6L1199.8 139.8L1200.8 145.5L1203.2 145L1204.1 151.2L1206 150.3L1207 156L1208.4 156L1209.4 162.7L1214.1 157.9L1215.1 164.6L1231.3 152.2L1232.2 157.4L1235.1 156L1236.5 163.6L1238.4 168.9L1241 167.2" fill="none" stroke="#ff80ff" stroke-width="2" stroke-linejoin="round"/>
<path d="M28 129.3L29.9 127.7L30.6 135.1L32.1 132.7L33.9 131.7L53.6 124.8L61.5 121.8L63.5 129L65 133L82.7 119.8L97.1 132.2L111.5 146.7L112.7 153.9L115.5 153L116.3 159.5L118.4 163L119 166.5L119 179.8L127.4 172.1L129.3 178.3L130.7 191.2L134.5 188.4L136.7 195.5L145.3 186.2L146.5 192.2L155.5 186.2L156.7 193.1L162.7 188.8L163.6 183.6L167.7 181L168.9 186.9L173.3 183.3L175.1 190.3L179.8 183.9L180.8 189.3L181.7 197.4L183.2 204.6L200.8 192.6L203.2 190.3L218.4 182.4L219.4 188.4L226.1 185L227.5 190L229.4 190.7L230.3 197.4L249.5 184.7L250.5 192.6L273.4 181.7L274.3 187.4L276.2 187.9L277.2 208.4L286.2 199.8L302 192.9L302.9 198.8L306.3 198.4L307.2 206L316.3 200.1L317.2 206.5L319.6 206.2L320.6 213.1L326.3 210.3L327.2 217.4L343.4 207.9L344.8 221.1L349.5 217.7L378.1 198.6L382.9 197.6L383.9 204.8L390.5 200.8L392 208.1L399.1 204.8L401.5 218.6L416.3 208.1L425.8 203.8L427.2 210.5L430.6 210L432 223.9L440.1 218.9L441.5 233.9L447.7 230L448.7 237.2L452 235.3L453.4 242.9L459.3 238.5L460.2 245.6L477.9 235.5L480.3 233.1L498.4 226.9L499.3 233.6L501.5 232.6L502.7 239.3L512.2 232.6L513.3 238.8L519.3 236L520.8 250.3L527.9 247.9L528.9 255L530.3 256.9L532.7 274.1L537 272.2L538.1 278.4L547 273.2L548.4 280.3L560.3 273.2L561.6 278.4L563.7 277.9L564.6 285.1L579.5 275.5L581.9 272.2L619.1 250.7L620 256.4L622.9 255.5L623.9 262.6L630.5 257.9L632.9 270.7L642 263.6L642.9 268.4L644.8 267.9L646.7 274.6L655.8 267.4L657 274.6L676.8 259.8L678.2 264.6L681.1 264.1L683.4 274.9L691.4 269.3L692.4 274.6L694.3 275L696.7 287.4L706.2 280.8L707.6 285.1L710 284.1L711.3 291.7L713.4 290.8L714.8 280.3L721.9 271.7L727.7 266.5L728.8 271.7L731 268.4L732 274.6L732.9 269.3L735.3 266L736.2 253.6L738.2 240.7L739.6 236L742.4 233.2L743.8 240.4L751.9 227.2L752.9 226.4L753.8 232.9L760.5 219.1L763.8 215.8L765 221.5L767.6 218.1L769.1 224.8L774.3 221.5L774.5 209.6L775.7 215.8L779.6 211L780.8 225.8L794.3 205.3L801 201L802.4 210L805.3 220.5L818.2 210.5L824.8 198.6L832.9 194.8L834.4 200.5L835.8 200.3L836.5 206.7L851.9 193.4L859.5 185.8L872.4 178L873.4 185.8L886.7 173.9L887.7 181L895.3 175.1L896.4 182.9L905.3 175.8L906.2 171.5L907.2 127.6L921 117.2L922.4 124.6L938.1 110.3L940 97.4L949.1 91.7L950.3 98.4L963.9 86L965.6 99.8L973.4 92.2L974.8 98.8L984.8 88.8L998.7 74.1L1000.1 73.8L1003.4 75L1006.8 75L1011.5 74.1L1014.4 74.5L1019.5 80.3L1023.3 83.6L1024.3 92.2L1035.3 84.1L1037.6 86.4L1038.6 94.6L1045.7 89.3L1046.7 96L1048.9 94.1L1049.8 108.4L1055.3 102.7L1056.4 109.3L1072 97.9L1073.1 111.7L1086.3 99.8L1089.6 95.5L1098.7 102.7L1100.1 118.4L1117.7 105.5L1128.7 114L1129.6 118L1131.2 128.8L1148.4 116.9L1149.3 123.6L1155 118.8L1156 124.1L1160.3 122.2L1161.2 128.4L1163.1 127.4L1164.1 133.6L1166 132.7L1167.4 139.3L1168.4 138.9L1169.3 144.6L1177 139.3L1177.9 144.6L1179.8 144.1L1181.2 150.8L1187 147L1188.9 141.7L1192.9 136.9L1193.8 143.6L1199.8 139.8L1200.8 145.5L1203.2 145L1204.1 151.2L1206 150.3L1207 156L1208.4 156L1209.4 162.7L1214.1 157.9L1215.1 164.6L1231.3 152.2L1232.2 157.4L1235.1 156L1236.5 163.6L1238.4 168.9L1241 167.2" fill="none" stroke="#000000" stroke-width="2" stroke-linejoin="round"/>
</g>
</svg>
<div class="xl" style="left:94.5px">14:00</div><div class="xl" style="left:195.7px">16:00</div><div class="xl" style="left:296.9px">18:00</div><div class="xl" style="left:398px">20:00</div><div class="xl" style="left:499.2px">22:00</div><div class="xl" style="left:600.4px">00:00</div><div class="xl" style="left:701.6px">02:00</div><div class="xl" style="left:802.8px">04:00</div><div class="xl" style="left:903.9px">06:00</div><div class="xl" style="left:1005.1px">08:00</div><div class="xl" style="left:1106.3px">10:00</div><div class="xl" style="left:1207.5px">12:00</div>
<div class="yl" style="top:783px">0</div><div class="yl" style="top:708.2px">10</div><div class="yl" style="top:633.4px">20</div><div class="yl" style="top:558.6px">30</div><div class="yl" style="top:483.8px">40</div><div class="yl" style="top:409px">50</div><div class="yl" style="top:334.2px">60</div><div class="yl" style="top:259.4px">70</div><div class="yl" style="top:184.6px">80</div><div class="yl" style="top:109.8px">90</div><div class="yl" style="top:35px">100</div>
<div id="lg"></div>
<table id="lt" cellspacing="0"><tr><td class="lb"><div class="o"><div class="i" style="border-color:#000000"></div></div></td><td class="lt"><span style="letter-spacing:-0.1px">2000+ sat/B</span></td></tr><tr><td class="lb"><div class="o"><div class="i" style="border-color:#ff80ff"></div></div></td><td class="lt"><span style="letter-spacing:-0.06px">1700-2000</span></td></tr><tr><td class="lb"><div class="o"><div class="i" style="border-color:#ff58ff"></div></div></td><td class="lt"><span style="letter-spacing:-0.06px">1400-1700</span></td></tr><tr><td class="lb"><div class="o"><div class="i" style="border-color:#ff2cff"></div></div></td><td class="lt"><span style="letter-spacing:-0.06px">1200-1400</span></td></tr><tr><td class="lb"><div class="o"><div class="i" style="border-color:#ff00ff"></div></div></td><td class="lt"><span style="letter-spacing:-0.06px">1000-1200</span></td></tr><tr><td class="lb"><div class="o"><div class="i" style="border-color:#d800d8"></div></div></td><td class="lt"><span style="letter-spacing:-0.06px">800-1000</span></td></tr><tr><td class="lb"><div class="o"><div class="i" style="border-color:#ac00ac"></div></div></td><td class="lt"><span style="letter-spacing:-0.06px">700-800</span></td></tr><tr><td class="lb"><div class="o"><div class="i" style="border-color:#800080"></div></div></td><td class="lt"><span style="letter-spacing:-0.06px">600-700</span></td></tr><tr><td class="lb"><div class="o"><div class="i" style="border-color:#e06060"></div></div></td><td class="lt"><span style="letter-spacing:-0.06px">500-600</span></td></tr><tr><td class="lb"><div class="o"><div class="i" style="border-color:#e04040"></div></div></td><td class="lt"><span style="letter-spacing:-0.06px">400-500</span></td></tr><tr><td class="lb"><div class="o"><div class="i" style="border-color:#e02020"></div></div></td><td class="lt"><span style="letter-spacing:-0.06px">300-400</span></td></tr><tr><td class="lb"><div class="o"><div class="i" style="border-color:#e00000"></div></div></td><td class="lt"><span style="letter-spacing:-0.06px">250-300</span></td></tr><tr><td class="lb"><div class="o"><div class="i" style="border-color:#c00000"></div></div></td><td class="lt"><span style="letter-spacing:-0.06px">200-250</span></td></tr><tr><td class="lb"><div class="o"><div class="i" style="border-color:#a00000"></div></div></td><td class="lt"><span style="letter-spacing:-0.06px">170-200</span></td></tr><tr><td class="lb"><div class="o"><div class="i" style="border-color:#800000"></div></div></td><td class="lt"><span style="letter-spacing:-0.06px">140-170</span></td></tr><tr><td class="lb"><div class="o"><div class="i" style="border-color:#e0e060"></div></div></td><td class="lt"><span style="letter-spacing:-0.06px">120-140</span></td></tr><tr><td class="lb"><div class="o"><div class="i" style="border-color:#e0e030"></div></div></td><td class="lt"><span style="letter-spacing:-0.06px">100-120</span></td></tr><tr><td class="lb"><div class="o"><div class="i" style="border-color:#e0e000"></div></div></td><td class="lt"><span style="letter-spacing:-0.06px">80-100</span></td></tr><tr><td class="lb"><div class="o"><div class="i" style="border-color:#c8c800"></div></div></td><td class="lt"><span style="letter-spacing:-0.06px">70-80</span></td></tr><tr><td class="lb"><div class="o"><div class="i" style="border-color:#b0b000"></div></div></td><td class="lt"><span style="letter-spacing:-0.06px">60-70</span></td></tr><tr><td class="lb"><div class="o"><div class="i" style="border-color:#989800"></div></div></td><td class="lt"><span style="letter-spacing:-0.06px">50-60</span></td></tr><tr><td class="lb"><div class="o"><div class="i" style="border-color:#808000"></div></div></td><td class="lt"><span style="letter-spacing:-0.06px">40-50</span></td></tr><tr><td class="lb"><div class="o"><div class="i" style="border-color:#90e090"></div></div></td><td class="lt"><span style="letter-spacing:-0.06px">30-40</span></td></tr><tr><td class="lb"><div class="o"><div class="i" style="border-color:#60e060"></div></div></td><td class="lt"><span style="letter-spacing:-0.06px">25-30</span></td></tr><tr><td class="lb"><div class="o"><div class="i" style="border-color:#30e030"></div></div></td><td class="lt"><span style="letter-spacing:-0.06px">20-25</span></td></tr><tr><td class="lb"><div class="o"><div class="i" style="border-color:#00e000"></div></div></td><td class="lt"><span style="letter-spacing:-0.06px">17-20</span></td></tr><tr><td class="lb"><div class="o"><div class="i" style="border-color:#00c000"></div></div></td><td class="lt"><span style="letter-spacing:-0.06px">14-17</span></td></tr><tr><td class="lb"><div class="o"><div class="i" style="border-color:#00a000"></div></div></td><td class="lt"><span style="letter-spacing:-0.06px">12-14</span></td></tr><tr><td class="lb"><div class="o"><div class="i" style="border-color:#008000"></div></div></td><td class="lt"><span style="letter-spacing:-0.06px">10-12</span></td></tr><tr><td class="lb"><div class="o"><div class="i" style="border-color:#8080ff"></div></div></td><td class="lt"><span style="letter-spacing:-0.06px">8-10</span></td></tr><tr><td class="lb"><div class="o"><div class="i" style="border-color:#5858ff"></div></div></td><td class="lt"><span style="letter-spacing:-0.06px">7-8</span></td></tr><tr><td class="lb"><div class="o"><div class="i" style="border-color:#2c2cff"></div></div></td><td class="lt"><span style="letter-spacing:-0.06px">6-7</span></td></tr><tr><td class="lb"><div class="o"><div class="i" style="border-color:#0000ff"></div></div></td><td class="lt"><span style="letter-spacing:-0.06px">5-6</span></td></tr><tr><td class="lb"><div class="o"><div class="i" style="border-color:#0000ec"></div></div></td><td class="lt"><span style="letter-spacing:-0.06px">4-5</span></td></tr><tr><td class="lb"><div class="o"><div class="i" style="border-color:#0000d8"></div></div></td><td class="lt"><span style="letter-spacing:-0.06px">3-4</span></td></tr><tr><td class="lb"><div class="o"><div class="i" style="border-color:#0000c2"></div></div></td><td class="lt"><span style="letter-spacing:-0.06px">2-3</span></td></tr><tr><td class="lb"><div class="o"><div class="i" style="border-color:#0000ac"></div></div></td><td class="lt"><span style="letter-spacing:-0.06px">1-2</span></td></tr><tr><td class="lb"><div class="o"><div class="i" style="border-color:#535154"></div></div></td><td class="lt"><span style="letter-spacing:-0.06px">0-1</span></td></tr></table>
</body></html>
